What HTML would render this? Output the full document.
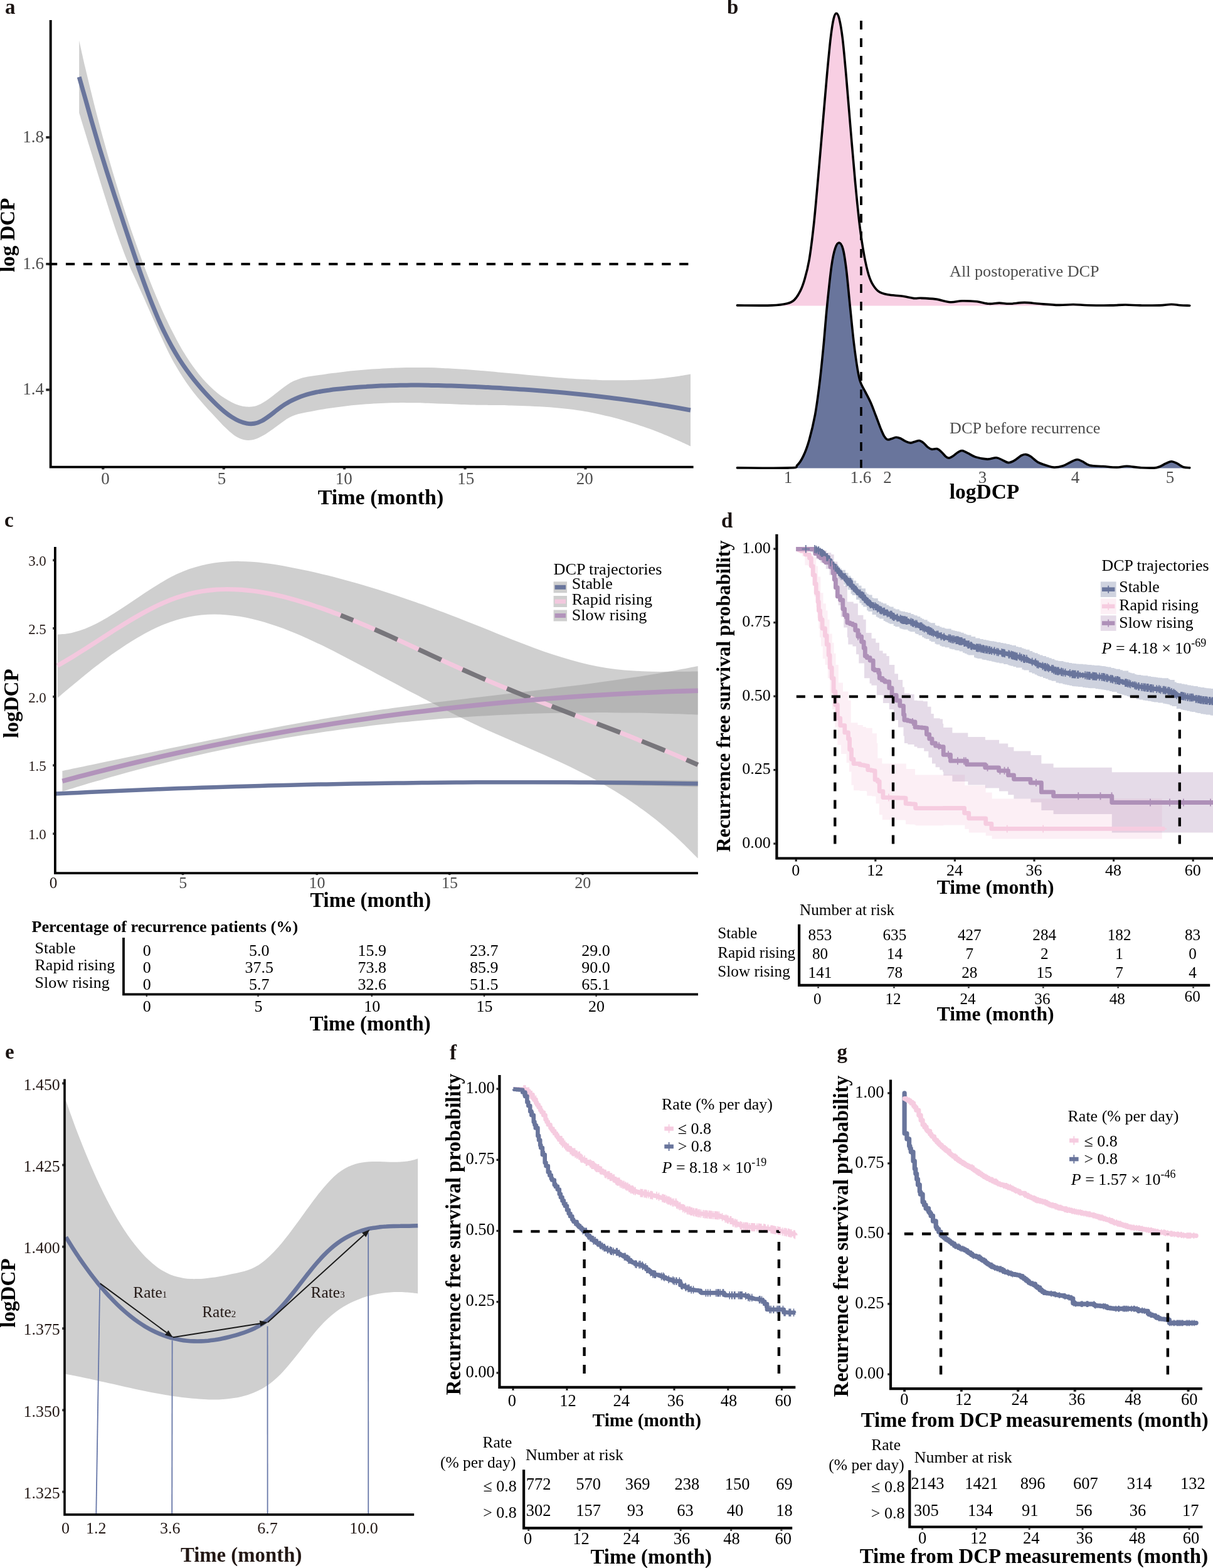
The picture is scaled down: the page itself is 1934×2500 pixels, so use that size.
<!DOCTYPE html>
<html lang="en">
<head>
<meta charset="utf-8">
<title>DCP trajectories and recurrence free survival</title>
<style>
html,body{margin:0;padding:0;background:#fff}
body{width:1934px;height:2500px;overflow:hidden}
svg{display:block;font-family:"Liberation Serif","DejaVu Serif",serif}
svg text{white-space:pre}
</style>
</head>
<body>
<svg width="1934" height="2500" viewBox="0 0 1934 2500">
<rect width="1934" height="2500" fill="#fff"/>
<g id="panel-a">
<text x="8" y="22" font-size="33" font-weight="bold" fill="#1a1311">a</text>
<path d="M126.2 64.7C127.8 71.8 132.6 93.4 135.8 107.2C139 120.9 141.9 133.1 145.5 147.4C149 161.6 153.1 178 157 192.7C160.8 207.3 164.7 221.6 168.6 235.4C172.4 249.2 176.3 262.5 180.1 275.5C184 288.5 187.9 301.1 191.7 313.4C195.6 325.7 199.4 337.5 203.3 349.2C207.1 360.8 211 372.1 214.9 383.1C218.7 394.1 222.6 404.9 226.4 415.3C230.3 425.7 234.2 435.8 238 445.6C241.9 455.4 245.7 464.9 249.6 474.1C253.5 483.2 257 491.4 261.2 500.4C265.3 509.4 270 519.3 274.5 528.1C278.9 536.9 283.8 545.9 288.1 553.4C292.4 560.9 296.2 567 300.1 573C304 579 307.8 584.4 311.7 589.5C315.5 594.7 319.4 599.4 323.3 603.9C327.1 608.3 331 612.4 334.8 616.1C338.7 619.9 342.6 623.3 346.4 626.4C350.3 629.5 354.1 632.3 358 634.8C361.8 637.4 365.7 639.6 369.6 641.5C373.4 643.4 377.3 645.1 381.1 646.3C385 647.5 388.9 648.3 392.7 648.6C396.6 648.9 400.4 648.8 404.3 648C408.2 647.2 412 645.8 415.9 643.9C419.7 642 423.7 639.3 427.4 636.8C431.2 634.2 434.7 631.3 438.2 628.6C441.7 625.9 445 623.1 448.4 620.5C451.8 618 455.1 615.4 458.4 613.2C461.7 611.1 465 609.1 468.1 607.6C471.3 606 474.4 604.9 477.4 603.9C480.4 602.9 483.2 602.3 486.3 601.6C489.4 600.9 492.7 600.4 496.1 599.8C499.5 599.2 503.1 598.7 506.8 598.2C510.4 597.7 514.1 597.2 517.9 596.7C521.7 596.1 525.6 595.6 529.5 595.1C533.3 594.6 537.2 594.1 541 593.7C544.9 593.2 548.8 592.8 552.6 592.3C556.5 591.9 560.3 591.5 564.2 591.1C568.1 590.7 571.9 590.4 575.8 590C579.6 589.7 583.5 589.3 587.4 589C591.2 588.7 595.1 588.4 598.9 588.2C602.8 587.9 606.6 587.7 610.3 587.4C614 587.2 617.4 587 621.3 586.9C625.2 586.7 629.1 586.5 633.6 586.4C638.1 586.2 643.1 586.1 648.3 586C653.4 585.9 658.5 585.9 664.4 585.9C670.3 585.9 677.5 586 683.7 586.1C690 586.3 696.3 586.5 702 586.7C707.6 587 712.2 587.2 717.5 587.5C722.8 587.8 728.1 588.1 733.8 588.5C739.5 588.8 745.7 589.3 751.9 589.7C758.2 590.2 764.2 590.7 771.2 591.3C778.3 591.9 786.6 592.7 794.3 593.4C802 594.1 809.7 594.8 817.4 595.5C825.1 596.2 832.8 597 840.5 597.7C848.1 598.4 855.9 599.1 863.3 599.8C870.8 600.5 877.8 601.1 885.2 601.7C892.5 602.3 899.6 602.8 907.4 603.4C915.2 603.9 923.7 604.4 931.7 604.8C939.7 605.3 948.2 605.6 955.6 605.9C963 606.1 969.3 606.2 976.2 606.3C983.1 606.4 990.1 606.3 996.7 606.2C1003.4 606.2 1009.7 606 1016.1 605.7C1022.5 605.5 1029.4 605.1 1035.3 604.7C1041.1 604.3 1045.7 603.9 1050.9 603.4C1056.2 602.9 1061.2 602.4 1066.7 601.7C1072.2 601.1 1078.1 600.3 1083.8 599.4C1089.6 598.5 1098.1 597 1101 596.5L1101 711.5C1098.1 710.2 1089.6 706.1 1083.8 703.5C1078.1 700.9 1072.2 698.3 1066.7 696C1061.2 693.6 1056.2 691.6 1050.9 689.5C1045.7 687.5 1041.1 685.7 1035.3 683.6C1029.4 681.5 1022.5 679 1016.1 676.9C1009.7 674.8 1003.4 672.8 996.7 670.9C990.1 668.9 983.1 667 976.2 665.3C969.3 663.5 963 662 955.6 660.4C948.2 658.8 939.7 657.2 931.7 655.8C923.7 654.5 916.6 653.4 907.4 652.3C898.2 651.2 887.2 650.1 876.8 649.3C866.4 648.5 855.3 648 845.1 647.5C834.9 647.1 825.2 646.9 815.4 646.6C805.6 646.4 794 646.2 786.2 646.1C778.4 645.9 774 645.9 768.7 645.8C763.4 645.7 759.7 645.6 754.3 645.4C748.9 645.3 742.4 645.1 736.2 644.9C729.9 644.7 723.3 644.4 716.8 644.1C710.4 643.9 704 643.6 697.5 643.4C691.1 643.2 684.1 642.9 678.2 642.7C672.3 642.6 667.3 642.4 662.2 642.3C657.1 642.2 652 642.2 647.5 642.2C643.1 642.1 639.2 642.1 635.3 642.2C631.5 642.2 628 642.2 624.3 642.3C620.6 642.4 616.8 642.5 612.9 642.7C609.1 642.8 605.2 643 601.3 643.2C597.5 643.4 593.6 643.6 589.8 643.9C585.9 644.1 582.1 644.4 578.2 644.7C574.3 645 570.5 645.4 566.6 645.8C562.8 646.1 558.9 646.5 555 647C551.2 647.4 547.3 647.9 543.5 648.4C539.6 648.9 535.7 649.4 531.9 649.9C528.1 650.5 524.4 651 520.8 651.6C517.2 652.2 513.6 652.8 510.1 653.3C506.6 653.9 503.2 654.6 499.9 655.2C496.6 655.8 493.3 656.4 490.1 657C486.9 657.7 483.7 658.3 480.6 659C477.4 659.7 474.4 660.4 471.2 661.5C468.1 662.6 464.9 663.9 461.7 665.6C458.5 667.3 455.3 669.4 452 671.8C448.6 674.1 445.1 676.7 441.4 679.4C437.8 682.1 433.7 685.2 429.9 687.8C426 690.4 422.1 693.1 418.3 695.1C414.4 697.2 410.6 699.1 406.7 700.2C402.9 701.3 399 702.1 395.1 701.9C391.3 701.8 387.4 701 383.6 699.5C379.7 698 375.8 695.7 372 692.9C368.1 690.1 364.3 686.5 360.4 682.8C356.5 679.2 352.7 675 348.8 670.9C345 666.9 341.1 662.7 337.3 658.6C333.4 654.4 329.5 650.3 325.7 645.9C321.8 641.5 318 637.1 314.1 632.4C310.2 627.7 306.4 622.8 302.5 617.5C298.7 612.3 294.8 606.8 291 600.8C287.1 594.9 283.2 588.6 279.4 581.8C275.5 575 271.6 567.6 267.8 559.9C264 552.3 260.1 543.9 256.4 535.8C252.7 527.8 249.2 519.9 245.7 511.9C242.1 503.8 238.5 495.5 235 487.7C231.6 479.9 228.4 472.6 225 465.2C221.7 457.7 218.5 450.9 214.9 442.8C211.2 434.8 207.1 426.1 203.3 416.8C199.4 407.5 195.6 397.4 191.7 386.8C187.9 376.2 184 364.8 180.1 353.2C176.3 341.7 172.4 329.6 168.6 317.5C164.7 305.3 160.8 292.9 157 280.5C153.1 268.1 149 254.5 145.5 243C141.9 231.5 139 222 135.8 211.5C132.6 201 127.8 185.3 126.2 180.1Z" fill="#CFCFCF"/>
<path d="M126.2 122.8C127.9 128.7 132.9 146.4 136.3 158.2C139.6 170.1 142.7 181.1 146.3 193.9C150 206.7 154.3 221.6 158.3 234.9C162.3 248.1 166.3 261 170.3 273.6C174.3 286.3 178.3 298.5 182.3 310.8C186.3 323 190.3 335.1 194.3 347.2C198.3 359.3 202.3 371.5 206.3 383.4C210.3 395.4 214.3 407.3 218.3 418.8C222.3 430.4 226.3 441.8 230.3 452.7C234.3 463.6 238.6 475 242.3 484.4C246 493.7 249.1 501.1 252.4 508.8C255.7 516.4 258.6 522.8 262.2 530C265.7 537.2 269.7 545 273.6 552C277.5 559 281.5 565.7 285.4 572C289.4 578.3 293.4 584.2 297.4 589.8C301.4 595.4 305.4 600.6 309.4 605.7C313.4 610.7 317.4 615.4 321.4 620C325.4 624.5 329.4 628.9 333.4 633.2C337.4 637.4 341.4 641.5 345.4 645.3C349.4 649.1 353.4 652.8 357.4 656C361.4 659.3 365.4 662.3 369.5 664.9C373.5 667.4 377.5 669.7 381.5 671.4C385.5 673.1 389.5 674.5 393.5 675.1C397.5 675.8 401.5 676 405.5 675.3C409.5 674.6 413.5 673.1 417.5 671C421.5 669 425.5 666 429.5 663.1C433.5 660.3 437.5 656.8 441.5 653.8C445.5 650.8 449.7 647.7 453.5 645.2C457.3 642.8 461 640.8 464.5 638.9C468 637.1 471.3 635.6 474.7 634.2C478.1 632.8 481.4 631.6 484.7 630.5C487.9 629.4 491.1 628.5 494.4 627.6C497.7 626.8 501 626 504.4 625.3C507.8 624.6 511.1 624.1 514.6 623.5C518.1 622.9 521.6 622.4 525.2 622C528.8 621.5 532.6 621 536.3 620.6C540.1 620.2 543.9 619.8 547.8 619.4C551.7 619 555.8 618.6 559.8 618.2C563.8 617.9 567.8 617.5 571.8 617.2C575.8 616.9 579.8 616.6 583.8 616.4C587.8 616.1 591.8 615.9 595.9 615.7C599.9 615.5 603.9 615.3 607.9 615.1C611.9 615 615.9 614.8 619.9 614.7C623.9 614.6 627.9 614.5 631.9 614.4C635.8 614.3 639.8 614.3 643.7 614.2C647.6 614.2 651.2 614.1 655.2 614.1C659.2 614.1 663.1 614.1 667.7 614.1C672.2 614.2 677.5 614.2 682.7 614.3C687.9 614.4 692.9 614.4 698.9 614.6C704.9 614.7 712.1 614.9 718.7 615.1C725.3 615.3 731.9 615.6 738.4 615.8C745 616.1 751.6 616.3 758.2 616.6C764.8 616.9 771.3 617.2 777.9 617.6C784.5 617.9 791 618.2 797.7 618.6C804.4 619 810.7 619.4 818.2 619.9C825.8 620.3 834.5 620.9 842.9 621.5C851.3 622.1 859 622.7 868.6 623.5C878.2 624.3 890 625.3 900.7 626.3C911.4 627.3 922.1 628.4 932.8 629.5C943.5 630.7 954.3 631.9 964.9 633.2C975.6 634.4 987 635.9 996.7 637.2C1006.3 638.5 1014 639.6 1022.6 640.9C1031.3 642.2 1039.9 643.5 1048.6 644.9C1057.3 646.3 1066.1 647.7 1074.8 649.3C1083.5 650.8 1096.6 653.2 1101 654" fill="none" stroke="#69759C" stroke-width="7"/>
<line x1="77" y1="420.9" x2="1098.4" y2="420.9" stroke="#000" stroke-width="4" stroke-dasharray="14.2 13.75"/>
<path d="M80.7 32V744.6H1105.6" fill="none" stroke="#000" stroke-width="3.9"/>
<line x1="73.3" y1="219" x2="78.8" y2="219" stroke="#222" stroke-width="3.8"/>
<text x="70" y="226.7" font-size="27" fill="#4D4D4D" text-anchor="end">1.8</text>
<line x1="73.3" y1="420.9" x2="78.8" y2="420.9" stroke="#222" stroke-width="3.8"/>
<text x="70" y="428.6" font-size="27" fill="#4D4D4D" text-anchor="end">1.6</text>
<line x1="73.3" y1="621.5" x2="78.8" y2="621.5" stroke="#222" stroke-width="3.8"/>
<text x="70" y="629.2" font-size="27" fill="#4D4D4D" text-anchor="end">1.4</text>
<line x1="164.3" y1="746" x2="164.3" y2="748.4" stroke="#222" stroke-width="4.2"/>
<text x="168" y="772.2" font-size="27" fill="#4D4D4D" text-anchor="middle">0</text>
<line x1="356.8" y1="746" x2="356.8" y2="748.4" stroke="#222" stroke-width="4.2"/>
<text x="353.5" y="772.2" font-size="27" fill="#4D4D4D" text-anchor="middle">5</text>
<line x1="549" y1="746" x2="549" y2="748.4" stroke="#222" stroke-width="4.2"/>
<text x="548.2" y="772.2" font-size="27" fill="#4D4D4D" text-anchor="middle">10</text>
<line x1="741.5" y1="746" x2="741.5" y2="748.4" stroke="#222" stroke-width="4.2"/>
<text x="742.8" y="772.2" font-size="27" fill="#4D4D4D" text-anchor="middle">15</text>
<line x1="933.5" y1="746" x2="933.5" y2="748.4" stroke="#222" stroke-width="4.2"/>
<text x="932.2" y="772.2" font-size="27" fill="#4D4D4D" text-anchor="middle">20</text>
<text x="607" y="803.7" font-size="34" font-weight="bold" text-anchor="middle">Time (month)</text>
<text transform="translate(22.8 374.8) rotate(-90)" font-size="33.1" font-weight="bold" text-anchor="middle">log DCP</text>
</g>
<g id="panel-b">
<text x="1159" y="22" font-size="33" font-weight="bold" fill="#1a1311">b</text>
<path d="M1175.4 486.9C1184.7 486.9 1217.8 487.4 1231 486.9C1244.2 486.4 1248.8 485.5 1254.7 484C1260.6 482.5 1263 481.5 1266.5 478.1C1270 474.8 1273.2 469.4 1276 463.9C1278.8 458.4 1280.6 453.3 1283 445C1285.4 436.7 1287.8 428.4 1290.2 414.2C1292.6 400 1294.9 381.5 1297.3 359.8C1299.7 338.1 1302 310.4 1304.4 284C1306.8 257.6 1309.1 228.8 1311.5 201.2C1313.9 173.6 1316.4 142 1318.6 118.3C1320.8 94.6 1322.7 74 1324.5 59.2C1326.3 44.4 1327.7 35.9 1329.2 29.6C1330.7 23.3 1332 21.3 1333.5 21.3C1335 21.3 1336.3 22.9 1338 29.6C1339.7 36.3 1341.5 45.9 1343.4 61.5C1345.3 77.1 1347.1 98.5 1349.3 123C1351.5 147.5 1354 180.3 1356.4 208.3C1358.8 236.3 1361.2 265.8 1363.6 291C1366 316.2 1368.3 340.5 1370.7 359.8C1373.1 379.1 1375.4 394 1377.8 407C1380.2 420 1382.5 430 1384.9 437.9C1387.3 445.8 1389.2 449.9 1392 454.4C1394.8 458.9 1397.5 462.5 1401.4 465.1C1405.3 467.7 1409.3 468.6 1415.6 469.8C1421.9 471 1432.2 471.2 1439.3 472.2C1446.4 473.2 1453.5 475.2 1458.2 475.7C1462.9 476.2 1462.2 475.1 1467.7 475.3C1473.2 475.5 1483.5 475.8 1491.4 476.9C1499.3 478 1507.9 481.2 1515 481.7C1522.1 482.2 1526.9 479.9 1534 479.8C1541.1 479.7 1550.6 480.1 1557.7 480.8C1564.8 481.6 1570.7 483.9 1576.6 484.3C1582.5 484.7 1587.7 483.1 1593.2 483.1C1598.7 483.1 1603 484.4 1609.7 484.3C1616.4 484.2 1625.5 482.4 1633.4 482.4C1641.3 482.4 1648 483.6 1657.1 484.3C1666.2 485 1678.7 486.2 1687.8 486.4C1696.9 486.6 1703.6 485.4 1711.5 485.5C1719.4 485.6 1725.3 486.5 1735.2 486.7C1745.1 486.9 1760.8 487 1770.7 486.9C1780.6 486.8 1786.5 486 1794.4 486C1802.3 486 1808.9 486.8 1818 486.9C1827.1 487 1840.5 487.2 1848.8 486.9C1857.1 486.6 1862.2 485.3 1867.7 485.3C1873.2 485.3 1877.1 486.4 1881.9 486.7C1886.8 487 1894.3 487.1 1896.8 487.2L1896.8 487.5L1175.4 487.5Z" fill="#F8CFE3"/>
<path d="M1175.4 486.9C1184.7 486.9 1217.8 487.4 1231 486.9C1244.2 486.4 1248.8 485.5 1254.7 484C1260.6 482.5 1263 481.5 1266.5 478.1C1270 474.8 1273.2 469.4 1276 463.9C1278.8 458.4 1280.6 453.3 1283 445C1285.4 436.7 1287.8 428.4 1290.2 414.2C1292.6 400 1294.9 381.5 1297.3 359.8C1299.7 338.1 1302 310.4 1304.4 284C1306.8 257.6 1309.1 228.8 1311.5 201.2C1313.9 173.6 1316.4 142 1318.6 118.3C1320.8 94.6 1322.7 74 1324.5 59.2C1326.3 44.4 1327.7 35.9 1329.2 29.6C1330.7 23.3 1332 21.3 1333.5 21.3C1335 21.3 1336.3 22.9 1338 29.6C1339.7 36.3 1341.5 45.9 1343.4 61.5C1345.3 77.1 1347.1 98.5 1349.3 123C1351.5 147.5 1354 180.3 1356.4 208.3C1358.8 236.3 1361.2 265.8 1363.6 291C1366 316.2 1368.3 340.5 1370.7 359.8C1373.1 379.1 1375.4 394 1377.8 407C1380.2 420 1382.5 430 1384.9 437.9C1387.3 445.8 1389.2 449.9 1392 454.4C1394.8 458.9 1397.5 462.5 1401.4 465.1C1405.3 467.7 1409.3 468.6 1415.6 469.8C1421.9 471 1432.2 471.2 1439.3 472.2C1446.4 473.2 1453.5 475.2 1458.2 475.7C1462.9 476.2 1462.2 475.1 1467.7 475.3C1473.2 475.5 1483.5 475.8 1491.4 476.9C1499.3 478 1507.9 481.2 1515 481.7C1522.1 482.2 1526.9 479.9 1534 479.8C1541.1 479.7 1550.6 480.1 1557.7 480.8C1564.8 481.6 1570.7 483.9 1576.6 484.3C1582.5 484.7 1587.7 483.1 1593.2 483.1C1598.7 483.1 1603 484.4 1609.7 484.3C1616.4 484.2 1625.5 482.4 1633.4 482.4C1641.3 482.4 1648 483.6 1657.1 484.3C1666.2 485 1678.7 486.2 1687.8 486.4C1696.9 486.6 1703.6 485.4 1711.5 485.5C1719.4 485.6 1725.3 486.5 1735.2 486.7C1745.1 486.9 1760.8 487 1770.7 486.9C1780.6 486.8 1786.5 486 1794.4 486C1802.3 486 1808.9 486.8 1818 486.9C1827.1 487 1840.5 487.2 1848.8 486.9C1857.1 486.6 1862.2 485.3 1867.7 485.3C1873.2 485.3 1877.1 486.4 1881.9 486.7C1886.8 487 1894.3 487.1 1896.8 487.2" fill="none" stroke="#000" stroke-width="3.6" stroke-linecap="round" stroke-linejoin="round"/>
<line x1="1373" y1="33" x2="1373" y2="388" stroke="#000" stroke-width="3.6" stroke-dasharray="14 14"/>
<path d="M1175.4 745.9C1189.4 745.9 1243.4 746.6 1259.4 745.9C1275.4 745.2 1267.7 744.7 1271.2 741.6C1274.8 738.5 1277.5 734.1 1280.7 727.4C1283.9 720.7 1287.1 712.4 1290.2 701.4C1293.3 690.4 1296.8 676.1 1299.6 661.1C1302.3 646.1 1304.5 629.1 1306.7 611.4C1308.9 593.6 1310.7 575.1 1312.7 554.6C1314.7 534.1 1316.4 510 1318.6 488.3C1320.8 466.6 1323.5 439.8 1325.7 424.4C1327.9 409 1329.5 402.2 1331.6 396C1333.6 389.8 1335.9 386.8 1338 387C1340.1 387.2 1342.2 390.2 1344.1 397.2C1346 404.2 1347.4 414 1349.3 429.2C1351.2 444.4 1353.3 469 1355.3 488.3C1357.3 507.6 1359.2 528.5 1361.2 545.1C1363.2 561.7 1365.3 577.1 1367.1 587.8C1368.9 598.4 1369.6 602.7 1371.8 609C1374 615.3 1377.3 620.1 1380.1 625.6C1382.9 631.1 1385.6 635.9 1388.4 642.2C1391.2 648.5 1394.1 656.8 1396.7 663.5C1399.3 670.2 1401.6 677.1 1403.8 682.4C1406 687.7 1407.8 692.3 1409.7 695.4C1411.6 698.5 1413.1 700.2 1415.1 700.9C1417.1 701.6 1419.2 700.1 1421.5 699.5C1423.8 698.9 1426.2 697.4 1428.6 697.3C1431 697.2 1433.1 697.9 1435.7 699C1438.3 700.1 1441.3 702.5 1444 703.7C1446.7 704.9 1449.1 706 1451.6 706.1C1454 706.2 1456.3 704.8 1458.7 704.2C1461.1 703.6 1463.5 702.2 1465.8 702.5C1468.1 702.8 1470.1 704.3 1472.4 706.1C1474.7 707.9 1477.3 711.5 1479.5 713.2C1481.7 714.9 1483 715.9 1485.4 716.3C1487.8 716.7 1491.1 714.9 1493.7 715.6C1496.3 716.3 1498.4 718.2 1500.8 720.3C1503.2 722.3 1505.9 726.2 1507.9 727.9C1510 729.5 1511.1 730.4 1513.1 730.2C1515.1 730 1517.5 728.4 1519.8 726.9C1522.1 725.4 1524.5 722.9 1526.9 721.5C1529.3 720.1 1531.2 718.3 1534 718.5C1536.8 718.7 1540 721 1543.5 722.7C1547 724.4 1550.2 727 1555.3 728.6C1560.4 730.2 1568.7 731.9 1574.2 732.1C1579.7 732.3 1584.5 729.6 1588.4 729.8C1592.4 730 1594.7 732 1597.9 733.3C1601.1 734.6 1604.2 737.4 1607.4 737.6C1610.6 737.8 1613.2 736.4 1616.8 734.5C1620.3 732.6 1625.5 727.9 1628.7 726.2C1631.9 724.6 1633.4 724.4 1635.8 724.6C1638.2 724.8 1639.8 725.4 1642.9 727.4C1646.1 729.4 1650.4 734.4 1654.7 736.9C1659 739.4 1664.6 740.9 1668.9 742.3C1673.2 743.7 1676.4 745 1680.7 745.1C1685 745.2 1690.6 744.2 1694.9 742.8C1699.2 741.4 1703 738.6 1706.8 736.9C1710.5 735.2 1714.2 733 1717.4 732.8C1720.6 732.6 1722.3 734.2 1725.7 735.7C1729.1 737.2 1732.1 740.8 1737.6 742.1C1743.1 743.4 1751.8 743 1758.9 743.5C1766 744 1773.9 745.1 1780.2 745.1C1786.5 745.1 1790.4 743.2 1796.7 743.3C1803 743.4 1810.1 745.2 1818 745.6C1825.9 746 1837.3 746.7 1844 745.6C1850.7 744.5 1854.3 740.9 1858.3 739.2C1862.2 737.6 1864.5 735.7 1867.7 735.7C1870.9 735.7 1874 737.7 1877.2 739.2C1880.4 740.7 1883.4 743.6 1886.7 744.7C1890 745.8 1895.1 745.7 1896.8 745.9L1896.8 746.5L1175.4 746.5Z" fill="#69759C"/>
<path d="M1175.4 745.9C1189.4 745.9 1243.4 746.6 1259.4 745.9C1275.4 745.2 1267.7 744.7 1271.2 741.6C1274.8 738.5 1277.5 734.1 1280.7 727.4C1283.9 720.7 1287.1 712.4 1290.2 701.4C1293.3 690.4 1296.8 676.1 1299.6 661.1C1302.3 646.1 1304.5 629.1 1306.7 611.4C1308.9 593.6 1310.7 575.1 1312.7 554.6C1314.7 534.1 1316.4 510 1318.6 488.3C1320.8 466.6 1323.5 439.8 1325.7 424.4C1327.9 409 1329.5 402.2 1331.6 396C1333.6 389.8 1335.9 386.8 1338 387C1340.1 387.2 1342.2 390.2 1344.1 397.2C1346 404.2 1347.4 414 1349.3 429.2C1351.2 444.4 1353.3 469 1355.3 488.3C1357.3 507.6 1359.2 528.5 1361.2 545.1C1363.2 561.7 1365.3 577.1 1367.1 587.8C1368.9 598.4 1369.6 602.7 1371.8 609C1374 615.3 1377.3 620.1 1380.1 625.6C1382.9 631.1 1385.6 635.9 1388.4 642.2C1391.2 648.5 1394.1 656.8 1396.7 663.5C1399.3 670.2 1401.6 677.1 1403.8 682.4C1406 687.7 1407.8 692.3 1409.7 695.4C1411.6 698.5 1413.1 700.2 1415.1 700.9C1417.1 701.6 1419.2 700.1 1421.5 699.5C1423.8 698.9 1426.2 697.4 1428.6 697.3C1431 697.2 1433.1 697.9 1435.7 699C1438.3 700.1 1441.3 702.5 1444 703.7C1446.7 704.9 1449.1 706 1451.6 706.1C1454 706.2 1456.3 704.8 1458.7 704.2C1461.1 703.6 1463.5 702.2 1465.8 702.5C1468.1 702.8 1470.1 704.3 1472.4 706.1C1474.7 707.9 1477.3 711.5 1479.5 713.2C1481.7 714.9 1483 715.9 1485.4 716.3C1487.8 716.7 1491.1 714.9 1493.7 715.6C1496.3 716.3 1498.4 718.2 1500.8 720.3C1503.2 722.3 1505.9 726.2 1507.9 727.9C1510 729.5 1511.1 730.4 1513.1 730.2C1515.1 730 1517.5 728.4 1519.8 726.9C1522.1 725.4 1524.5 722.9 1526.9 721.5C1529.3 720.1 1531.2 718.3 1534 718.5C1536.8 718.7 1540 721 1543.5 722.7C1547 724.4 1550.2 727 1555.3 728.6C1560.4 730.2 1568.7 731.9 1574.2 732.1C1579.7 732.3 1584.5 729.6 1588.4 729.8C1592.4 730 1594.7 732 1597.9 733.3C1601.1 734.6 1604.2 737.4 1607.4 737.6C1610.6 737.8 1613.2 736.4 1616.8 734.5C1620.3 732.6 1625.5 727.9 1628.7 726.2C1631.9 724.6 1633.4 724.4 1635.8 724.6C1638.2 724.8 1639.8 725.4 1642.9 727.4C1646.1 729.4 1650.4 734.4 1654.7 736.9C1659 739.4 1664.6 740.9 1668.9 742.3C1673.2 743.7 1676.4 745 1680.7 745.1C1685 745.2 1690.6 744.2 1694.9 742.8C1699.2 741.4 1703 738.6 1706.8 736.9C1710.5 735.2 1714.2 733 1717.4 732.8C1720.6 732.6 1722.3 734.2 1725.7 735.7C1729.1 737.2 1732.1 740.8 1737.6 742.1C1743.1 743.4 1751.8 743 1758.9 743.5C1766 744 1773.9 745.1 1780.2 745.1C1786.5 745.1 1790.4 743.2 1796.7 743.3C1803 743.4 1810.1 745.2 1818 745.6C1825.9 746 1837.3 746.7 1844 745.6C1850.7 744.5 1854.3 740.9 1858.3 739.2C1862.2 737.6 1864.5 735.7 1867.7 735.7C1870.9 735.7 1874 737.7 1877.2 739.2C1880.4 740.7 1883.4 743.6 1886.7 744.7C1890 745.8 1895.1 745.7 1896.8 745.9" fill="none" stroke="#000" stroke-width="3.6" stroke-linecap="round" stroke-linejoin="round"/>
<line x1="1373" y1="33" x2="1373" y2="746" stroke="#000" stroke-width="3.6" stroke-dasharray="14 14"/>
<text x="1256.6" y="770" font-size="27" fill="#4D4D4D" text-anchor="middle">1</text>
<text x="1372.3" y="770" font-size="27" fill="#4D4D4D" text-anchor="middle">1.6</text>
<text x="1415" y="770" font-size="27" fill="#4D4D4D" text-anchor="middle">2</text>
<text x="1566.4" y="770" font-size="27" fill="#4D4D4D" text-anchor="middle">3</text>
<text x="1714.4" y="770" font-size="27" fill="#4D4D4D" text-anchor="middle">4</text>
<text x="1865.4" y="770" font-size="27" fill="#4D4D4D" text-anchor="middle">5</text>
<text x="1514" y="441" font-size="26.2" fill="#4D4D4D">All postoperative DCP</text>
<text x="1514" y="690.7" font-size="26.2" fill="#4D4D4D">DCP before recurrence</text>
<text x="1569.5" y="795" font-size="33.5" font-weight="bold" text-anchor="middle">logDCP</text>
</g>
<g id="panel-c">
<text x="7" y="840.3" font-size="33" font-weight="bold" fill="#1a1311">c</text>
<path d="M91.6 1011.7C94.5 1011.5 103.3 1011.1 109.2 1010.1C115.1 1009.1 120.9 1007.5 126.8 1005.6C132.6 1003.7 138.4 1001.3 144.2 998.7C150 996.1 155.4 993.4 161.6 989.9C167.8 986.5 174.8 982.4 181.4 978.2C188.1 974.1 194.8 969.6 201.4 965.2C208.1 960.8 214.8 956.2 221.5 951.7C228.1 947.2 234.8 942.7 241.5 938.5C248.2 934.2 254.8 930 261.5 926.2C268.2 922.4 274.9 918.7 281.5 915.6C288.2 912.5 294.9 909.7 301.6 907.3C308.2 905 314.9 903 321.6 901.4C328.3 899.7 334.9 898.5 341.6 897.5C348.3 896.5 355 895.8 361.6 895.4C368.3 895 375 894.8 381.7 894.9C388.3 895 395 895.3 401.7 895.8C408.4 896.2 415 897 421.7 897.8C428.4 898.6 435 899.6 441.7 900.6C448.4 901.7 455.1 902.9 461.7 904.2C468.4 905.4 475.1 906.8 481.8 908.2C488.4 909.5 495.1 911 501.8 912.5C508.5 914.1 515.1 915.6 521.8 917.3C528.5 918.9 535.2 920.6 541.8 922.4C548.5 924.2 555.2 926 561.9 927.9C568.5 929.8 575.2 931.7 581.9 933.7C588.6 935.7 595.2 937.7 601.9 939.8C608.6 941.9 615.3 944 621.9 946.2C628.6 948.4 635.2 950.6 642 952.9C648.7 955.2 655.6 957.5 662.6 960C669.7 962.5 676.8 965.1 684.5 967.9C692.1 970.7 699.7 973.5 708.5 976.8C717.3 980.2 727.7 984.1 737.2 987.9C746.8 991.6 756.4 995.5 765.9 999.3C775.5 1003.1 785.1 1007 794.6 1010.9C804.2 1014.7 813.8 1018.6 823.3 1022.3C832.9 1026 842.5 1029.7 852 1033.2C861.6 1036.7 871.2 1040.1 880.7 1043.3C890.3 1046.4 899.9 1049.4 909.4 1052.1C919 1054.9 928.6 1057.4 938.1 1059.5C947.7 1061.7 957.3 1063.5 966.8 1065C976.4 1066.5 986 1067.6 995.5 1068.5C1005.1 1069.3 1014.7 1069.8 1024.2 1070.2C1033.8 1070.6 1043.2 1070.8 1053 1070.9C1062.8 1070.9 1072.9 1070.8 1082.8 1070.8C1092.8 1070.8 1107.7 1070.7 1112.7 1070.6L1112.7 1368.5C1107.7 1363.6 1092.8 1348.2 1082.8 1338.9C1072.9 1329.7 1062.8 1320.9 1053 1312.8C1043.2 1304.8 1033.8 1297.6 1024.2 1290.6C1014.7 1283.6 1005.1 1277 995.5 1270.8C986 1264.6 976.4 1258.8 966.8 1253.2C957.3 1247.6 947.7 1242.4 938.1 1237.3C928.6 1232.3 919 1227.5 909.4 1222.8C899.9 1218.2 890.3 1213.8 880.7 1209.4C871.2 1205 861.6 1200.9 852 1196.7C842.5 1192.5 832.9 1188.4 823.3 1184.2C813.8 1180.1 804.2 1176 794.6 1171.8C785.1 1167.6 775.5 1163.3 765.9 1158.9C756.4 1154.5 746.8 1150 737.2 1145.3C727.7 1140.7 717.3 1135.5 708.5 1131C699.7 1126.5 692.1 1122.6 684.5 1118.6C676.8 1114.6 669.7 1110.9 662.6 1107.1C655.6 1103.4 648.7 1099.8 642 1096.2C635.2 1092.6 628.6 1089.1 621.9 1085.6C615.3 1082 608.6 1078.5 601.9 1074.9C595.2 1071.4 588.6 1067.8 581.9 1064.3C575.2 1060.8 568.5 1057.2 561.9 1053.7C555.2 1050.2 548.5 1046.7 541.8 1043.3C535.2 1039.8 528.5 1036.4 521.8 1033.1C515.1 1029.8 508.5 1026.5 501.8 1023.4C495.1 1020.2 488.4 1017.2 481.8 1014.2C475.1 1011.3 468.4 1008.5 461.7 1005.9C455.1 1003.2 448.4 1000.7 441.7 998.4C435 996.1 428.4 993.9 421.7 991.9C415 990 408.4 988.2 401.7 986.7C395 985.2 388.3 983.9 381.7 982.8C375 981.8 368.3 980.9 361.6 980.4C355 979.9 348.3 979.6 341.6 979.6C334.9 979.6 328.3 980 321.6 980.6C314.9 981.2 308.2 982.2 301.6 983.5C294.9 984.8 288.2 986.5 281.5 988.5C274.9 990.5 268.2 992.9 261.5 995.6C254.8 998.2 248.2 1001.3 241.5 1004.6C234.8 1007.9 228.1 1011.5 221.5 1015.4C214.8 1019.2 208.1 1023.3 201.4 1027.7C194.8 1032 188.1 1036.6 181.4 1041.3C174.8 1046 167.8 1051.1 161.6 1055.8C155.4 1060.5 150 1064.7 144.2 1069.3C138.4 1073.9 132.6 1078.6 126.8 1083.4C120.9 1088.2 115.1 1093.1 109.2 1098C103.3 1102.9 94.5 1110.4 91.6 1112.9Z" fill="#999" fill-opacity="0.47"/>
<path d="M99.4 1229C103.8 1228.1 117.2 1225.3 126.1 1223.4C134.9 1221.6 142.8 1220 152.7 1217.9C162.7 1215.8 174.7 1213.3 185.8 1210.9C196.9 1208.6 208.1 1206.3 219.3 1203.9C230.5 1201.6 241.6 1199.2 252.8 1196.9C264 1194.6 275.2 1192.3 286.3 1190C297.5 1187.7 308.7 1185.4 319.9 1183.2C331 1180.9 342.2 1178.6 353.4 1176.4C364.6 1174.2 375.7 1172 386.9 1169.8C398.1 1167.6 409.2 1165.5 420.4 1163.4C431.6 1161.3 442.8 1159.2 453.9 1157.1C465.1 1155.1 476.3 1153.1 487.5 1151.1C498.6 1149.1 509.8 1147.2 521 1145.3C532.2 1143.4 543.9 1141.5 554.5 1139.8C565.1 1138.1 575 1136.5 584.4 1135.1C593.8 1133.6 601.7 1132.5 611.1 1131.1C620.6 1129.7 630.5 1128.3 641 1126.9C651.6 1125.5 663.4 1123.9 674.6 1122.4C685.7 1121 696.9 1119.6 708.1 1118.2C719.3 1116.8 730.4 1115.5 741.6 1114.2C752.8 1112.8 764 1111.5 775.1 1110.2C786.3 1108.9 797.5 1107.6 808.7 1106.3C819.8 1104.9 831 1103.6 842.2 1102.3C853.4 1101 864.5 1099.6 875.7 1098.3C886.9 1096.9 898 1095.5 909.2 1094.1C920.4 1092.7 931.6 1091.2 942.7 1089.7C953.9 1088.2 965.1 1086.7 976.3 1085.1C987.4 1083.5 998.6 1081.8 1009.8 1080.1C1021 1078.4 1032 1076.6 1043.4 1074.7C1054.8 1072.8 1066.5 1070.8 1078 1068.7C1089.6 1066.6 1106.9 1063.2 1112.7 1062.1L1112.7 1139.5C1106.9 1139.3 1089.6 1138.6 1078 1138.2C1066.5 1137.8 1054.8 1137.5 1043.4 1137.2C1032 1136.9 1021 1136.7 1009.8 1136.5C998.6 1136.4 987.4 1136.3 976.3 1136.2C965.1 1136.1 953.9 1136.1 942.7 1136.2C931.6 1136.2 920.4 1136.3 909.2 1136.5C898 1136.6 886.9 1136.9 875.7 1137.1C864.5 1137.4 853.4 1137.7 842.2 1138.1C831 1138.5 819.8 1139 808.7 1139.5C797.5 1140 786.3 1140.5 775.1 1141.2C764 1141.8 752.8 1142.5 741.6 1143.2C730.4 1144 719.3 1144.8 708.1 1145.6C696.9 1146.5 685.7 1147.5 674.6 1148.4C663.4 1149.4 651.6 1150.6 641 1151.6C630.5 1152.7 620.6 1153.8 611.1 1154.8C601.7 1155.9 593.8 1156.8 584.4 1157.9C575 1159.1 565.1 1160.3 554.5 1161.7C543.9 1163.1 532.2 1164.7 521 1166.3C509.8 1167.9 498.6 1169.6 487.5 1171.3C476.3 1173.1 465.1 1174.9 453.9 1176.8C442.8 1178.7 431.6 1180.6 420.4 1182.7C409.2 1184.7 398.1 1186.8 386.9 1189C375.7 1191.2 364.6 1193.4 353.4 1195.8C342.2 1198.1 331 1200.5 319.9 1203C308.7 1205.4 297.5 1208 286.3 1210.6C275.2 1213.3 264 1216 252.8 1218.7C241.6 1221.5 230.5 1224.4 219.3 1227.3C208.1 1230.3 196.9 1233.3 185.8 1236.4C174.7 1239.5 162.7 1242.9 152.7 1245.8C142.8 1248.7 134.9 1251.1 126.1 1253.8C117.2 1256.5 103.8 1260.6 99.4 1262Z" fill="#999" fill-opacity="0.47"/>
<path d="M88.8 1264.1C94.6 1263.8 112 1262.9 123.5 1262.4C135.1 1261.8 146.7 1261.3 158.3 1260.7C169.9 1260.2 181.4 1259.7 193.1 1259.2C204.9 1258.7 216.7 1258.2 228.8 1257.7C241 1257.2 253.7 1256.7 266.1 1256.3C278.5 1255.8 290.9 1255.4 303.3 1254.9C315.7 1254.5 328.2 1254.1 340.6 1253.7C353 1253.3 365.4 1252.9 377.8 1252.5C390.2 1252.1 402.6 1251.8 415.1 1251.4C427.5 1251.1 440 1250.8 452.3 1250.4C464.6 1250.1 477.5 1249.8 488.9 1249.6C500.3 1249.3 510.1 1249.1 520.7 1248.9C531.3 1248.7 541.9 1248.5 552.6 1248.3C563.2 1248.1 574 1247.9 584.4 1247.7C594.8 1247.5 604.9 1247.4 614.8 1247.3C624.7 1247.1 634.1 1247 643.8 1246.9C653.5 1246.7 663.1 1246.6 672.8 1246.5C682.4 1246.4 690.9 1246.4 701.7 1246.2C712.6 1246.1 725.7 1245.8 737.9 1245.7C750.2 1245.5 762.8 1245.3 775.2 1245.2C787.6 1245 800 1244.9 812.4 1244.7C824.8 1244.6 837.2 1244.5 849.7 1244.4C862.1 1244.3 874.5 1244.2 886.9 1244.2C899.3 1244.1 911.7 1244.1 924.1 1244C936.6 1244 948.9 1244 961.4 1244C973.9 1244 986.4 1244 999 1244C1011.6 1244 1024.3 1244 1036.9 1244.1C1049.5 1244.1 1062.2 1244.2 1074.8 1244.3C1087.4 1244.4 1106.3 1244.5 1112.7 1244.6L1112.7 1254.6C1106.3 1254.4 1087.4 1254 1074.8 1253.7C1062.2 1253.4 1049.5 1253.1 1036.9 1252.8C1024.3 1252.5 1011.6 1252.3 999 1252.1C986.4 1251.8 973.9 1251.6 961.4 1251.4C948.9 1251.2 936.6 1251 924.1 1250.8C911.7 1250.7 899.3 1250.5 886.9 1250.4C874.5 1250.2 862.1 1250.1 849.7 1250C837.2 1249.8 824.8 1249.7 812.4 1249.7C800 1249.6 787.6 1249.5 775.2 1249.4C762.8 1249.4 750.2 1249.3 737.9 1249.3C725.7 1249.3 712.6 1249.2 701.7 1249.3C690.9 1249.3 682.4 1249.4 672.8 1249.5C663.1 1249.6 653.5 1249.7 643.8 1249.9C634.1 1250 624.7 1250.1 614.8 1250.3C604.9 1250.4 594.8 1250.5 584.4 1250.7C574 1250.9 563.2 1251.1 552.6 1251.3C541.9 1251.5 531.3 1251.7 520.7 1251.9C510.1 1252.1 500.3 1252.3 488.9 1252.6C477.5 1252.8 464.6 1253.1 452.3 1253.4C440 1253.8 427.5 1254.1 415.1 1254.4C402.6 1254.8 390.2 1255.1 377.8 1255.5C365.4 1255.9 353 1256.3 340.6 1256.7C328.2 1257.1 315.7 1257.5 303.3 1257.9C290.9 1258.4 278.5 1258.8 266.1 1259.3C253.7 1259.7 241 1260.2 228.8 1260.7C216.7 1261.2 204.9 1261.7 193.1 1262.2C181.4 1262.7 169.9 1263.2 158.3 1263.7C146.7 1264.3 135.1 1264.8 123.5 1265.4C112 1265.9 94.6 1266.8 88.8 1267.1Z" fill="#999" fill-opacity="0.47"/>
<path d="M91.6 1061.4C94.5 1059.7 103.3 1054.7 109.2 1051.2C115.1 1047.6 120.9 1044 126.8 1040.3C132.6 1036.7 138.4 1033 144.2 1029.2C150 1025.5 155.4 1022 161.6 1018C167.8 1014 174.8 1009.5 181.4 1005.3C188.1 1001.1 194.8 996.8 201.4 992.8C208.1 988.8 214.8 984.8 221.5 981C228.1 977.2 234.8 973.6 241.5 970.2C248.2 966.8 254.8 963.6 261.5 960.7C268.2 957.8 274.9 955.2 281.5 952.9C288.2 950.6 294.9 948.6 301.6 946.9C308.2 945.2 314.9 943.9 321.6 942.8C328.3 941.7 334.9 940.9 341.6 940.4C348.3 939.8 355 939.6 361.6 939.5C368.3 939.5 375 939.7 381.7 940.1C388.3 940.5 395 941.2 401.7 942C408.4 942.8 415 943.8 421.7 945C428.4 946.2 435 947.6 441.7 949.1C448.4 950.6 455.1 952.3 461.7 954C468.4 955.8 475.1 957.7 481.8 959.7C488.4 961.7 495.1 963.9 501.8 966.1C508.5 968.3 515.1 970.6 521.8 973C528.5 975.4 535.2 978 541.8 980.5C548.5 983.1 555.2 985.8 561.9 988.5C568.5 991.2 575.2 994 581.9 996.8C588.6 999.7 595.7 1002.8 601.9 1005.5C608.1 1008.2 614.1 1010.9 619.1 1013.2C624.2 1015.5 627 1016.7 632.3 1019.2C637.6 1021.6 643.2 1024.1 651.1 1027.8C659 1031.4 670.3 1036.7 679.8 1041.1C689.4 1045.5 699 1050 708.5 1054.4C718.1 1058.8 727.7 1063.1 737.2 1067.4C746.8 1071.7 756.4 1075.9 765.9 1080.1C775.5 1084.2 785.1 1088.2 794.6 1092.2C804.2 1096.2 813.8 1100.1 823.3 1103.9C832.9 1107.8 842.5 1111.6 852 1115.3C861.6 1119.1 871.2 1122.8 880.7 1126.5C890.3 1130.2 899.9 1133.9 909.4 1137.5C919 1141.2 928.6 1144.9 938.1 1148.5C947.7 1152.2 957.3 1155.8 966.8 1159.5C976.4 1163.2 986 1166.9 995.5 1170.7C1005.1 1174.4 1014.7 1178.2 1024.2 1182.1C1033.8 1185.9 1043.2 1189.7 1053 1193.8C1062.8 1197.8 1072.9 1202 1082.8 1206.3C1092.8 1210.6 1107.7 1217.2 1112.7 1219.4" fill="none" stroke="#F3C8DE" stroke-width="7.2"/>
<path d="M543.2 981.1C546.3 982.3 555.4 985.9 561.9 988.5C568.3 991.1 575.2 994 581.9 996.8C588.6 999.7 595.7 1002.8 601.9 1005.5C608.1 1008.2 614.1 1010.9 619.1 1013.2C624.2 1015.5 627 1016.7 632.3 1019.2C637.6 1021.6 643.2 1024.1 651.1 1027.8C659 1031.4 670.3 1036.7 679.8 1041.1C689.4 1045.5 699 1050 708.5 1054.4C718.1 1058.8 727.7 1063.1 737.2 1067.4C746.8 1071.7 756.4 1075.9 765.9 1080.1C775.5 1084.2 785.1 1088.2 794.6 1092.2C804.2 1096.2 813.8 1100.1 823.3 1103.9C832.9 1107.8 842.5 1111.6 852 1115.3C861.6 1119.1 871.2 1122.8 880.7 1126.5C890.3 1130.2 899.9 1133.9 909.4 1137.5C919 1141.2 928.6 1144.9 938.1 1148.5C947.7 1152.2 957.3 1155.8 966.8 1159.5C976.4 1163.2 986 1166.9 995.5 1170.7C1005.1 1174.4 1014.7 1178.2 1024.2 1182.1C1033.8 1185.9 1043.2 1189.7 1053 1193.8C1062.8 1197.8 1072.9 1202 1082.8 1206.3C1092.8 1210.6 1107.7 1217.2 1112.7 1219.4" fill="none" stroke="#77767B" stroke-width="7.5" stroke-dasharray="40 37" stroke-dashoffset="18.5"/>
<path d="M99.4 1245.3C103.8 1244.1 117.2 1240.6 126.1 1238.2C134.9 1235.9 142.8 1233.9 152.7 1231.4C162.7 1228.8 174.7 1225.8 185.8 1223.1C196.9 1220.4 208.1 1217.6 219.3 1215C230.5 1212.4 241.6 1209.8 252.8 1207.2C264 1204.7 275.2 1202.2 286.3 1199.7C297.5 1197.3 308.7 1194.9 319.9 1192.6C331 1190.2 342.2 1187.9 353.4 1185.7C364.6 1183.4 375.7 1181.2 386.9 1179.1C398.1 1176.9 409.2 1174.8 420.4 1172.7C431.6 1170.7 442.8 1168.7 453.9 1166.7C465.1 1164.8 476.3 1162.8 487.5 1161C498.6 1159.1 509.8 1157.3 521 1155.5C532.2 1153.7 543.9 1151.9 554.5 1150.3C565.1 1148.7 575 1147.2 584.4 1145.9C593.8 1144.5 601.7 1143.4 611.1 1142.1C620.6 1140.8 630.5 1139.5 641 1138.1C651.6 1136.7 663.4 1135.3 674.6 1133.9C685.7 1132.5 696.9 1131.2 708.1 1129.9C719.3 1128.6 730.4 1127.4 741.6 1126.2C752.8 1125 764 1123.8 775.1 1122.7C786.3 1121.6 797.5 1120.5 808.7 1119.5C819.8 1118.5 831 1117.5 842.2 1116.5C853.4 1115.6 864.5 1114.7 875.7 1113.8C886.9 1112.9 898 1112.1 909.2 1111.3C920.4 1110.5 931.6 1109.8 942.7 1109C953.9 1108.3 965.1 1107.7 976.3 1107C987.4 1106.4 998.6 1105.8 1009.8 1105.2C1021 1104.7 1032 1104.2 1043.4 1103.7C1054.8 1103.2 1066.5 1102.7 1078 1102.3C1089.6 1101.9 1106.9 1101.4 1112.7 1101.2" fill="none" stroke="#B293BB" stroke-width="7.6"/>
<path d="M88.8 1265.6C94.6 1265.3 112 1264.4 123.5 1263.9C135.1 1263.3 146.7 1262.8 158.3 1262.2C169.9 1261.7 181.4 1261.2 193.1 1260.7C204.9 1260.2 216.7 1259.7 228.8 1259.2C241 1258.7 253.7 1258.2 266.1 1257.8C278.5 1257.3 290.9 1256.9 303.3 1256.4C315.7 1256 328.2 1255.6 340.6 1255.2C353 1254.8 365.4 1254.4 377.8 1254C390.2 1253.6 402.6 1253.3 415.1 1252.9C427.5 1252.6 440 1252.3 452.3 1251.9C464.6 1251.6 477.5 1251.3 488.9 1251.1C500.3 1250.8 510.1 1250.6 520.7 1250.4C531.3 1250.2 541.9 1250 552.6 1249.8C563.2 1249.6 574 1249.4 584.4 1249.2C594.8 1249 604.9 1248.9 614.8 1248.8C624.7 1248.6 634.1 1248.5 643.8 1248.4C653.5 1248.2 663.1 1248.1 672.8 1248C682.4 1247.9 690.9 1247.8 701.7 1247.8C712.6 1247.7 725.7 1247.6 737.9 1247.5C750.2 1247.4 762.8 1247.3 775.2 1247.3C787.6 1247.3 800 1247.2 812.4 1247.2C824.8 1247.2 837.2 1247.2 849.7 1247.2C862.1 1247.2 874.5 1247.2 886.9 1247.3C899.3 1247.3 911.7 1247.4 924.1 1247.4C936.6 1247.5 948.9 1247.6 961.4 1247.7C973.9 1247.8 986.4 1247.9 999 1248C1011.6 1248.1 1024.3 1248.3 1036.9 1248.5C1049.5 1248.6 1062.2 1248.8 1074.8 1249C1087.4 1249.2 1106.3 1249.5 1112.7 1249.6" fill="none" stroke="#69759C" stroke-width="6.5"/>
<path d="M87.9 871.9V1392.1H1112.9" fill="none" stroke="#000" stroke-width="3.8"/>
<line x1="84.2" y1="893.2" x2="86.4" y2="893.2" stroke="#333" stroke-width="3.6"/>
<text x="73.8" y="902" font-size="22.9" fill="#231815" text-anchor="end">3.0</text>
<line x1="84.2" y1="1001.8" x2="86.4" y2="1001.8" stroke="#333" stroke-width="3.6"/>
<text x="73.8" y="1010.6" font-size="22.9" fill="#231815" text-anchor="end">2.5</text>
<line x1="84.2" y1="1110.8" x2="86.4" y2="1110.8" stroke="#333" stroke-width="3.6"/>
<text x="73.8" y="1119.6" font-size="22.9" fill="#231815" text-anchor="end">2.0</text>
<line x1="84.2" y1="1220.2" x2="86.4" y2="1220.2" stroke="#333" stroke-width="3.6"/>
<text x="73.8" y="1229" font-size="22.9" fill="#231815" text-anchor="end">1.5</text>
<line x1="84.2" y1="1329.3" x2="86.4" y2="1329.3" stroke="#333" stroke-width="3.6"/>
<text x="73.8" y="1338.1" font-size="22.9" fill="#231815" text-anchor="end">1.0</text>
<text x="85" y="1416.1" font-size="25.2" fill="#231815" text-anchor="middle">0</text>
<line x1="291.5" y1="1393.5" x2="291.5" y2="1395.1" stroke="#333" stroke-width="3.6"/>
<text x="291.8" y="1416.1" font-size="26" fill="#4D4D4D" text-anchor="middle">5</text>
<line x1="505.3" y1="1393.5" x2="505.3" y2="1395.1" stroke="#333" stroke-width="3.6"/>
<text x="505.6" y="1416.1" font-size="26" fill="#4D4D4D" text-anchor="middle">10</text>
<line x1="716.7" y1="1393.5" x2="716.7" y2="1395.1" stroke="#333" stroke-width="3.6"/>
<text x="717" y="1416.1" font-size="26" fill="#4D4D4D" text-anchor="middle">15</text>
<line x1="929" y1="1393.5" x2="929" y2="1395.1" stroke="#333" stroke-width="3.6"/>
<text x="929.3" y="1416.1" font-size="26" fill="#4D4D4D" text-anchor="middle">20</text>
<text x="494.4" y="1446.2" font-size="32.7" font-weight="bold">Time (month)</text>
<text transform="translate(28.6 1121.5) rotate(-90)" font-size="33.1" font-weight="bold" text-anchor="middle">logDCP</text>
<text x="882.6" y="915.9" font-size="26.2">DCP trajectories</text>
<rect x="882.6" y="927.3" width="21.4" height="18" fill="#CFCFCF"/>
<line x1="884.6" y1="936.3" x2="902" y2="936.3" stroke="#69759C" stroke-width="7"/>
<text x="911.7" y="938.9" font-size="26.1">Stable</text>
<rect x="882.6" y="950" width="21.4" height="18" fill="#CFCFCF"/>
<line x1="884.6" y1="959" x2="902" y2="959" stroke="#F3C8DE" stroke-width="7"/>
<text x="911.7" y="963.8" font-size="26.1">Rapid rising</text>
<rect x="882.6" y="972.5" width="21.4" height="18" fill="#CFCFCF"/>
<line x1="884.6" y1="981.5" x2="902" y2="981.5" stroke="#B293BB" stroke-width="7"/>
<text x="911.7" y="988.6" font-size="26.1">Slow rising</text>
<text x="50.5" y="1486.3" font-size="26.2" font-weight="bold">Percentage of recurrence patients (%)</text>
<text x="55.5" y="1519.6" font-size="26">Stable</text>
<text x="55.5" y="1547.3" font-size="26">Rapid rising</text>
<text x="55.5" y="1575" font-size="26">Slow rising</text>
<path d="M197 1495V1585.3H1113" fill="none" stroke="#000" stroke-width="3.8"/>
<text x="234.3" y="1523.5" font-size="26" text-anchor="middle">0</text>
<text x="413.3" y="1523.5" font-size="26" text-anchor="middle">5.0</text>
<text x="593.3" y="1523.5" font-size="26" text-anchor="middle">15.9</text>
<text x="771.8" y="1523.5" font-size="26" text-anchor="middle">23.7</text>
<text x="950" y="1523.5" font-size="26" text-anchor="middle">29.0</text>
<text x="234.3" y="1550.9" font-size="26" text-anchor="middle">0</text>
<text x="413.3" y="1550.9" font-size="26" text-anchor="middle">37.5</text>
<text x="593.3" y="1550.9" font-size="26" text-anchor="middle">73.8</text>
<text x="771.8" y="1550.9" font-size="26" text-anchor="middle">85.9</text>
<text x="950" y="1550.9" font-size="26" text-anchor="middle">90.0</text>
<text x="234.3" y="1577.5" font-size="26" text-anchor="middle">0</text>
<text x="413.3" y="1577.5" font-size="26" text-anchor="middle">5.7</text>
<text x="593.3" y="1577.5" font-size="26" text-anchor="middle">32.6</text>
<text x="771.8" y="1577.5" font-size="26" text-anchor="middle">51.5</text>
<text x="950" y="1577.5" font-size="26" text-anchor="middle">65.1</text>
<line x1="233.8" y1="1586.5" x2="233.8" y2="1589" stroke="#333" stroke-width="2.4"/>
<text x="234.3" y="1613" font-size="26" text-anchor="middle">0</text>
<line x1="411.5" y1="1586.5" x2="411.5" y2="1589" stroke="#333" stroke-width="2.4"/>
<text x="412" y="1613" font-size="26" text-anchor="middle">5</text>
<line x1="592.8" y1="1586.5" x2="592.8" y2="1589" stroke="#333" stroke-width="2.4"/>
<text x="593.3" y="1613" font-size="26" text-anchor="middle">10</text>
<line x1="772" y1="1586.5" x2="772" y2="1589" stroke="#333" stroke-width="2.4"/>
<text x="772.5" y="1613" font-size="26" text-anchor="middle">15</text>
<line x1="950.6" y1="1586.5" x2="950.6" y2="1589" stroke="#333" stroke-width="2.4"/>
<text x="951.1" y="1613" font-size="26" text-anchor="middle">20</text>
<text x="493.8" y="1642.5" font-size="32.7" font-weight="bold">Time (month)</text>
</g>
<g id="panel-d">
<text x="1150" y="840.5" font-size="33" font-weight="bold" fill="#1a1311">d</text>
<path d="M1269.2 875.3L1278.5 875.3L1278.5 879.9L1287.3 879.9L1287.3 883.9L1296.9 883.9L1296.9 888.4L1301.2 888.4L1301.2 902.6L1304 902.6L1304 919.6L1308.3 919.6L1308.3 945.2L1312.5 945.2L1312.5 962.2L1316.8 962.2L1316.8 973.6L1319.6 973.6L1319.6 987.8L1322.5 987.8L1322.5 1010.5L1326.7 1010.5L1326.7 1024.7L1329.6 1024.7L1329.6 1041.8L1332.6 1041.8L1332.6 1060L1336.9 1060L1336.9 1088.4L1344 1088.4L1344 1102.6L1352.5 1102.6L1352.5 1116.8L1356.7 1116.8L1356.7 1152.3L1367.5 1152.3L1367.5 1156.1L1375.9 1156.1L1375.9 1159.1L1380.9 1159.1L1380.9 1160.8L1390.8 1160.8L1390.8 1169.3L1397.9 1169.3L1397.9 1185L1399.3 1185L1399.3 1209.1L1406.4 1209.1L1406.4 1217.6L1443.4 1217.6L1443.4 1217.6L1444.8 1217.6L1444.8 1226.1L1459 1226.1L1459 1226.1L1459 1235.4L1503 1235.4L1503 1235.4L1504.2 1235.4L1504.2 1235.2L1538.3 1235.2L1538.3 1252.2L1571.7 1252.2L1571.7 1263.6L1581.6 1263.6L1581.6 1273.5L1852.7 1273.5L1852.7 1337.4L1581.6 1337.4L1581.6 1332.5L1571.7 1332.5L1571.7 1327.5L1544.7 1327.5L1544.7 1321.8L1538.3 1321.8L1538.3 1315.4L1504.2 1315.4L1504.2 1316.3L1503 1316.3L1503 1316.3L1459.6 1316.3L1459.6 1314.9L1458.1 1314.9L1458.1 1314.5L1450.2 1314.5L1450.2 1314.2L1444.1 1314.2L1444.1 1307.8L1442.8 1307.8L1442.8 1307.6L1432.3 1307.6L1432.3 1307.2L1418.4 1307.2L1418.4 1307.1L1411.6 1307.1L1411.6 1306.9L1406.9 1306.9L1406.9 1299.1L1401.8 1299.1L1401.8 1281.2L1396.6 1281.2L1396.6 1270.2L1395.8 1270.2L1395.8 1269.6L1390.1 1269.6L1390.1 1268.7L1382.3 1268.7L1382.3 1261.6L1380.9 1261.6L1380.9 1260.9L1370.7 1260.9L1370.7 1260.2L1361 1260.2L1361 1251.7L1357.5 1251.7L1357.5 1230.4L1353.9 1230.4L1353.9 1216.2L1349.6 1216.2L1349.6 1202L1341.1 1202L1341.1 1187.8L1335.4 1187.8L1335.4 1159.4L1331.2 1159.4L1331.2 1131L1326.9 1131L1326.9 1109.7L1323.4 1109.7L1323.4 1081.3L1319.8 1081.3L1319.8 1060L1315.6 1060L1315.6 1050.3L1311.8 1050.3L1311.8 1030.4L1309 1030.4L1309 1016.2L1306.9 1016.2L1306.9 1002L1305.4 1002L1305.4 985L1303.3 985L1303.3 967.9L1301.2 967.9L1301.2 950.9L1298.3 950.9L1298.3 933.8L1295.5 933.8L1295.5 919.6L1292.7 919.6L1292.7 902.6L1288.4 902.6L1288.4 901.2L1283.4 901.2L1283.4 887L1279.2 887L1279.2 878.5L1274.2 878.5L1274.2 875.3L1269.2 875.3Z" fill="#F6CCE0" fill-opacity="0.32"/>
<path d="M1269.2 875.3L1302.6 875.3L1302.6 875.3L1308.3 875.3L1308.3 877.5L1318 877.5L1318 881.3L1325.3 881.3L1325.3 884.1L1329.6 884.1L1329.6 895.5L1335.3 895.5L1335.3 906.9L1339.5 906.9L1339.5 921.1L1345.2 921.1L1345.2 933.8L1350.9 933.8L1350.9 959.4L1360.8 959.4L1360.8 962.2L1367.9 962.2L1367.9 980.7L1376.4 980.7L1376.4 987.8L1380.7 987.8L1380.7 1009.1L1389.6 1009.1L1389.6 1018L1396.3 1018L1396.3 1024.7L1402 1024.7L1402 1037.5L1407.6 1037.5L1407.6 1041.7L1413.4 1041.7L1413.4 1046L1417.8 1046L1417.8 1060L1426.3 1060L1426.3 1074.2L1432 1074.2L1432 1084.1L1439.1 1084.1L1439.1 1095.5L1441.9 1095.5L1441.9 1105.4L1450.5 1105.4L1450.5 1106.9L1457.6 1106.9L1457.6 1116.8L1462.6 1116.8L1462.6 1117.3L1471.8 1117.3L1471.8 1118.2L1478.9 1118.2L1478.9 1126.7L1484.5 1126.7L1484.5 1138.1L1488.8 1138.1L1488.8 1145.2L1498.7 1145.2L1498.7 1146.6L1503 1146.6L1503 1153.7L1504.2 1153.7L1504.2 1159.9L1518.4 1159.9L1518.4 1168.5L1543.3 1168.5L1543.3 1174.9L1570.9 1174.9L1570.9 1179.8L1593 1179.8L1593 1185.5L1607.2 1185.5L1607.2 1191.2L1616.4 1191.2L1616.4 1197.6L1643.4 1197.6L1643.4 1204L1660.4 1204L1660.4 1217.5L1679.6 1217.5L1679.6 1223.8L1772.8 1223.8L1772.8 1231.3L1934 1231.3L1934 1327.4L1772.8 1327.4L1772.8 1298L1679.6 1298L1679.6 1292L1660.4 1292L1660.4 1279.2L1643.4 1279.2L1643.4 1273.5L1616.4 1273.5L1616.4 1267.2L1607.2 1267.2L1607.2 1261.5L1593 1261.5L1593 1256.5L1570.9 1256.5L1570.9 1251.5L1543.3 1251.5L1543.3 1245.9L1518.4 1245.9L1518.4 1236.6L1504.2 1236.6L1504.2 1230.4L1503 1230.4L1503 1227.4L1498.2 1227.4L1498.2 1223.3L1491.6 1223.3L1491.6 1217.6L1486 1217.6L1486 1207.7L1480.3 1207.7L1480.3 1197.7L1473.2 1197.7L1473.2 1192.8L1462.4 1192.8L1462.4 1190.6L1457.6 1190.6L1457.6 1186.9L1447.3 1186.9L1447.3 1185L1441.9 1185L1441.9 1173.6L1440.5 1173.6L1440.5 1159.4L1432 1159.4L1432 1148L1424.9 1148L1424.9 1131L1417.8 1131L1417.8 1121.1L1407.9 1121.1L1407.9 1108.3L1397.9 1108.3L1397.9 1092.7L1389.4 1092.7L1389.4 1089.8L1386.6 1089.8L1386.6 1081.3L1378 1081.3L1378 1057.4L1369.3 1057.4L1369.3 1043.2L1365.1 1043.2L1365.1 1030.4L1359.4 1030.4L1359.4 1027.6L1352.3 1027.6L1352.3 1016.2L1350.9 1016.2L1350.9 1000.6L1345.2 1000.6L1345.2 983.5L1340.9 983.5L1340.9 965.1L1336.7 965.1L1336.7 952.3L1332.4 952.3L1332.4 939.5L1329.6 939.5L1329.6 925.3L1326.7 925.3L1326.7 916.8L1322.5 916.8L1322.5 906.9L1316.8 906.9L1316.8 896.9L1308.3 896.9L1308.3 891.2L1301.2 891.2L1301.2 881.3L1295.5 881.3L1295.5 880.4L1291.7 880.4L1291.7 877.2L1277.6 877.2L1277.6 876.2L1272.8 876.2L1272.8 875.3L1269.2 875.3Z" fill="#AE90B8" fill-opacity="0.32"/>
<path d="M1269.2 875.3L1271.5 875.3L1271.5 875.2L1275 875.2L1275 875L1277.1 875L1277.1 874.9L1279.6 874.9L1279.6 874.8L1285.3 874.8L1285.3 874.5L1291.7 874.5L1291.7 874.2L1298.3 874.2L1298.3 873.9L1301.5 873.9L1301.5 875L1306.9 875L1306.9 876.9L1313.1 876.9L1313.1 881.1L1316.8 881.1L1316.8 883.6L1319.1 883.6L1319.1 886.5L1323.9 886.5L1323.9 892.3L1328.3 892.3L1328.3 896.8L1331 896.8L1331 899.6L1336 899.6L1336 903.7L1339.5 903.7L1339.5 906.6L1342.2 906.6L1342.2 908.8L1348 908.8L1348 913.6L1352.5 913.6L1352.5 918L1356.6 918L1356.6 922L1360.6 922L1360.6 925.7L1365.1 925.7L1365.1 929.9L1369 929.9L1369 933.7L1373.6 933.7L1373.6 938.3L1380 938.3L1380 944.6L1382.1 944.6L1382.1 946.7L1384.7 946.7L1384.7 948.5L1390.6 948.5L1390.6 953L1392.7 953L1392.7 954.1L1399.8 954.1L1399.8 958L1402 958L1402 959.2L1405 959.2L1405 960.7L1408.1 960.7L1408.1 962.2L1413.4 962.2L1413.4 964.7L1417.1 964.7L1417.1 966.6L1419.2 966.6L1419.2 967.6L1424.7 967.6L1424.7 970.3L1427.8 970.3L1427.8 971.4L1433.9 971.4L1433.9 973.6L1436.1 973.6L1436.1 974.4L1439.2 974.4L1439.2 975.1L1443.2 975.1L1443.2 976L1447.4 976L1447.4 977.1L1452.4 977.1L1452.4 978.9L1456.7 978.9L1456.7 980.4L1458.8 980.4L1458.8 981.2L1462.7 981.2L1462.7 983.1L1467.4 983.1L1467.4 985.3L1470.2 985.3L1470.2 986.7L1473.2 986.7L1473.2 988.2L1478.7 988.2L1478.7 990.8L1481.5 990.8L1481.5 992.2L1483.6 992.2L1483.6 993.2L1490.9 993.2L1490.9 996.8L1492.9 996.8L1492.9 997.8L1498.1 997.8L1498.1 999.6L1501.4 999.6L1501.4 1000.8L1506.2 1000.8L1506.2 1001.9L1508.5 1001.9L1508.5 1002.5L1516.7 1002.5L1516.7 1004.5L1519.8 1004.5L1519.8 1005.2L1522.7 1005.2L1522.7 1005.9L1525.8 1005.9L1525.8 1006.7L1529.6 1006.7L1529.6 1007.6L1532.3 1007.6L1532.3 1008.7L1536.7 1008.7L1536.7 1010.4L1540.3 1010.4L1540.3 1011.8L1542.5 1011.8L1542.5 1012.6L1548.5 1012.6L1548.5 1014.9L1555.3 1014.9L1555.3 1017.5L1562.5 1017.5L1562.5 1018.9L1567.8 1018.9L1567.8 1019.9L1572.4 1019.9L1572.4 1020.7L1576.2 1020.7L1576.2 1021.4L1578.5 1021.4L1578.5 1021.9L1580.9 1021.9L1580.9 1022.3L1585.3 1022.3L1585.3 1023.1L1589.1 1023.1L1589.1 1023.9L1595.3 1023.9L1595.3 1025L1599.6 1025L1599.6 1025.8L1604.3 1025.8L1604.3 1026.7L1606.6 1026.7L1606.6 1027.1L1609.9 1027.1L1609.9 1028.1L1613.3 1028.1L1613.3 1029.1L1620 1029.1L1620 1031L1623.8 1031L1623.8 1032L1629.1 1032L1629.1 1033.6L1632.2 1033.6L1632.2 1034.5L1635.6 1034.5L1635.6 1035.8L1641.6 1035.8L1641.6 1038.1L1646.3 1038.1L1646.3 1039.9L1649.7 1039.9L1649.7 1041.2L1654.6 1041.2L1654.6 1043.1L1657.8 1043.1L1657.8 1044.4L1662.5 1044.4L1662.5 1046L1668 1046L1668 1047.8L1672.6 1047.8L1672.6 1049.3L1676.7 1049.3L1676.7 1050.7L1681.2 1050.7L1681.2 1052.3L1683.5 1052.3L1683.5 1053L1686.9 1053L1686.9 1053.7L1689.3 1053.7L1689.3 1054.1L1695.6 1054.1L1695.6 1055.3L1699.2 1055.3L1699.2 1056L1704.3 1056L1704.3 1056.9L1709.1 1056.9L1709.1 1057.8L1712.8 1057.8L1712.8 1058.1L1715.9 1058.1L1715.9 1058.4L1719.8 1058.4L1719.8 1058.7L1726.8 1058.7L1726.8 1059.3L1732.4 1059.3L1732.4 1059.8L1734.8 1059.8L1734.8 1060L1740.5 1060L1740.5 1060.5L1745.1 1060.5L1745.1 1060.9L1747.6 1060.9L1747.6 1061.1L1753.4 1061.1L1753.4 1061.6L1756.4 1061.6L1756.4 1061.9L1760.4 1061.9L1760.4 1062.3L1763 1062.3L1763 1062.9L1766.1 1062.9L1766.1 1063.6L1771.6 1063.6L1771.6 1064.9L1776.8 1064.9L1776.8 1066.1L1779.3 1066.1L1779.3 1066.7L1786.1 1066.7L1786.1 1068.3L1790 1068.3L1790 1069.4L1799.2 1069.4L1799.2 1072.1L1801.8 1072.1L1801.8 1072.8L1804.4 1072.8L1804.4 1073.6L1809.2 1073.6L1809.2 1075L1811.7 1075L1811.7 1075.7L1814 1075.7L1814 1076L1819.2 1076L1819.2 1076.7L1822.6 1076.7L1822.6 1077.2L1830.1 1077.2L1830.1 1078.2L1835 1078.2L1835 1078.9L1837.3 1078.9L1837.3 1079.2L1840 1079.2L1840 1079.6L1843.2 1079.6L1843.2 1080L1846 1080L1846 1080.4L1849.5 1080.4L1849.5 1080.8L1852.8 1080.8L1852.8 1081.3L1863 1081.3L1863 1082.7L1865.4 1082.7L1865.4 1083.9L1872.8 1083.9L1872.8 1087.5L1875.8 1087.5L1875.8 1088.9L1879.3 1088.9L1879.3 1089.6L1884 1089.6L1884 1090.5L1888.6 1090.5L1888.6 1091.3L1893.1 1091.3L1893.1 1092.2L1895.4 1092.2L1895.4 1092.6L1898.9 1092.6L1898.9 1093.2L1903 1093.2L1903 1094L1909.8 1094L1909.8 1095.3L1914.3 1095.3L1914.3 1096.1L1920.2 1096.1L1920.2 1096.8L1923.4 1096.8L1923.4 1097.2L1927 1097.2L1927 1097.6L1930.6 1097.6L1930.6 1098L1934 1098L1934 1098.4L1934 1141L1934 1140.7L1931.8 1140.7L1931.8 1140.4L1929.6 1140.4L1929.6 1139.4L1922.6 1139.4L1922.6 1138.8L1918.5 1138.8L1918.5 1138.2L1914.3 1138.2L1914.3 1137L1909.1 1137L1909.1 1136.3L1905.8 1136.3L1905.8 1135L1899.9 1135L1899.9 1134.4L1897 1134.4L1897 1133.4L1892.2 1133.4L1892.2 1132.6L1888.6 1132.6L1888.6 1132L1885.7 1132L1885.7 1131.3L1882.6 1131.3L1882.6 1129.9L1875.8 1129.9L1875.8 1126.1L1868.4 1126.1L1868.4 1124.4L1865.1 1124.4L1865.1 1123.2L1863 1123.2L1863 1122.8L1860.4 1122.8L1860.4 1122.3L1857.5 1122.3L1857.5 1121.8L1854.3 1121.8L1854.3 1120.5L1846.4 1120.5L1846.4 1119.4L1839.9 1119.4L1839.9 1119L1837.3 1119L1837.3 1118.6L1834.9 1118.6L1834.9 1117.8L1830.2 1117.8L1830.2 1117.1L1825.6 1117.1L1825.6 1116.5L1822.2 1116.5L1822.2 1115.6L1816.5 1115.6L1816.5 1114.8L1811.7 1114.8L1811.7 1112.9L1805.9 1112.9L1805.9 1110.8L1799.3 1110.8L1799.3 1110L1796.5 1110L1796.5 1108.7L1792.5 1108.7L1792.5 1107.7L1789.2 1107.7L1789.2 1106.7L1786.1 1106.7L1786.1 1106L1783.5 1106L1783.5 1105.3L1780.8 1105.3L1780.8 1103.1L1772.7 1103.1L1772.7 1102.1L1768.7 1102.1L1768.7 1100.7L1763.6 1100.7L1763.6 1099.9L1760.4 1099.9L1760.4 1099.6L1757.9 1099.6L1757.9 1099.3L1755.5 1099.3L1755.5 1098.8L1751.2 1098.8L1751.2 1098.3L1746.6 1098.3L1746.6 1097.2L1737.3 1097.2L1737.3 1096.9L1734.8 1096.9L1734.8 1096.4L1730.3 1096.4L1730.3 1095.9L1726 1095.9L1726 1095L1718.7 1095L1718.7 1094.6L1715.2 1094.6L1715.2 1094.2L1711.3 1094.2L1711.3 1093.9L1709.1 1093.9L1709.1 1093L1705.1 1093L1705.1 1092.2L1701.3 1092.2L1701.3 1091.4L1697.6 1091.4L1697.6 1090.7L1694.3 1090.7L1694.3 1089.4L1688.1 1089.4L1688.1 1088.4L1683.5 1088.4L1683.5 1085.8L1676.5 1085.8L1676.5 1084.6L1673.1 1084.6L1673.1 1083.7L1670.8 1083.7L1670.8 1082.3L1666.9 1082.3L1666.9 1080.9L1662.9 1080.9L1662.9 1079L1657.8 1079L1657.8 1077.9L1655.1 1077.9L1655.1 1077L1653 1077L1653 1075.6L1649.7 1075.6L1649.7 1073.8L1645.3 1073.8L1645.3 1071.9L1640.6 1071.9L1640.6 1068.4L1632.2 1068.4L1632.2 1067.5L1629.4 1067.5L1629.4 1064.5L1620 1064.5L1620 1063.1L1615.5 1063.1L1615.5 1061.8L1611.3 1061.8L1611.3 1061L1608.8 1061L1608.8 1060.3L1606.6 1060.3L1606.6 1058.9L1600.1 1058.9L1600.1 1057.4L1593.3 1057.4L1593.3 1056.4L1588.5 1056.4L1588.5 1055.8L1586 1055.8L1586 1055.3L1583.7 1055.3L1583.7 1054.7L1580.9 1054.7L1580.9 1053.8L1576.4 1053.8L1576.4 1053L1572.8 1053L1572.8 1051.9L1567.8 1051.9L1567.8 1051.4L1565.3 1051.4L1565.3 1049.9L1558.3 1049.9L1558.3 1049.2L1555.3 1049.2L1555.3 1048.3L1553 1048.3L1553 1044.4L1543.7 1044.4L1543.7 1043.4L1541.2 1043.4L1541.2 1042.1L1538.1 1042.1L1538.1 1040.7L1534.9 1040.7L1534.9 1038.6L1529.6 1038.6L1529.6 1037.1L1524.4 1037.1L1524.4 1036.5L1521.9 1036.5L1521.9 1035.3L1517.8 1035.3L1517.8 1034.7L1515.6 1034.7L1515.6 1034.2L1513.5 1034.2L1513.5 1032.3L1506.7 1032.3L1506.7 1030.9L1501.4 1030.9L1501.4 1029.8L1498.5 1029.8L1498.5 1027.6L1492.9 1027.6L1492.9 1026.4L1490.6 1026.4L1490.6 1023.2L1484.4 1023.2L1484.4 1021.8L1481.5 1021.8L1481.5 1018.8L1475.7 1018.8L1475.7 1017.4L1473 1017.4L1473 1015.9L1470.2 1015.9L1470.2 1013L1464.6 1013L1464.6 1011.1L1460.9 1011.1L1460.9 1010L1458.8 1010L1458.8 1007.2L1451.5 1007.2L1451.5 1006.4L1449.5 1006.4L1449.5 1005.6L1447.4 1005.6L1447.4 1003.8L1440.8 1003.8L1440.8 1003.3L1438.6 1003.3L1438.6 1002.6L1436.1 1002.6L1436.1 1001.8L1434.1 1001.8L1434.1 999.2L1427.3 999.2L1427.3 998.1L1424.7 998.1L1424.7 994.8L1418.3 994.8L1418.3 993.5L1415.7 993.5L1415.7 992.3L1413.4 992.3L1413.4 991.2L1411.2 991.2L1411.2 989.9L1408.7 989.9L1408.7 986.4L1402 986.4L1402 984.8L1399.2 984.8L1399.2 983.4L1396.7 983.4L1396.7 979.9L1390.6 979.9L1390.6 975L1384.3 975L1384.3 973.3L1382.1 973.3L1382.1 967.4L1376.3 967.4L1376.3 964.7L1373.6 964.7L1373.6 961.5L1370.4 961.5L1370.4 956L1365.1 956L1365.1 949.1L1358.7 949.1L1358.7 946.8L1356.6 946.8L1356.6 940.2L1351.8 940.2L1351.8 935.2L1348 935.2L1348 932L1345.4 932L1345.4 925L1339.5 925L1339.5 922.2L1337.2 922.2L1337.2 914.8L1331 914.8L1331 910L1327.5 910L1327.5 904.9L1323.9 904.9L1323.9 901.2L1321.6 901.2L1321.6 893.6L1316.8 893.6L1316.8 888.4L1311.9 888.4L1311.9 883.2L1306.9 883.2L1306.9 878.8L1300.9 878.8L1300.9 877L1298.3 877L1298.3 876.8L1294.8 876.8L1294.8 876.5L1290.1 876.5L1290.1 876.2L1284.8 876.2L1284.8 875.9L1279.9 875.9L1279.9 875.7L1276.5 875.7L1276.5 875.5L1272.4 875.5L1272.4 875.3L1269.2 875.3Z" fill="#69759C" fill-opacity="0.33"/>
<path d="M1269.2 875.3L1298.3 875.3L1298.3 875.3L1300.4 875.3L1300.4 876.4L1302.6 876.4L1302.6 877.6L1306.9 877.6L1306.9 879.9L1308.9 879.9L1308.9 881.6L1313.4 881.6L1313.4 885.5L1316.8 885.5L1316.8 888.4L1320.5 888.4L1320.5 893.5L1323.9 893.5L1323.9 898.3L1327 898.3L1327 902L1331 902L1331 906.9L1332.7 906.9L1332.7 908.5L1336 908.5L1336 911.9L1339.5 911.9L1339.5 915.4L1341.1 915.4L1341.1 917L1344.2 917L1344.2 920.1L1348 920.1L1348 923.9L1349.8 923.9L1349.8 925.9L1351.3 925.9L1351.3 927.7L1356.6 927.7L1356.6 933.8L1359.8 933.8L1359.8 937.1L1362.9 937.1L1362.9 940.2L1365.1 940.2L1365.1 942.4L1367 942.4L1367 944.3L1368.9 944.3L1368.9 946.2L1373.6 946.2L1373.6 950.9L1377.7 950.9L1377.7 955L1380.5 955L1380.5 957.8L1382.1 957.8L1382.1 959.4L1385.2 959.4L1385.2 961.7L1387.4 961.7L1387.4 963.4L1390.6 963.4L1390.6 965.8L1392.3 965.8L1392.3 966.7L1398.4 966.7L1398.4 970.1L1400.5 970.1L1400.5 971.3L1402 971.3L1402 972.2L1404.1 972.2L1404.1 973.2L1405.7 973.2L1405.7 974L1407.9 974L1407.9 975.1L1413.4 975.1L1413.4 977.9L1415.8 977.9L1415.8 979.1L1418 979.1L1418 980.2L1422.3 980.2L1422.3 982.3L1424.7 982.3L1424.7 983.5L1428.3 983.5L1428.3 984.9L1430.9 984.9L1430.9 985.8L1432.6 985.8L1432.6 986.5L1436.1 986.5L1436.1 987.8L1437.8 987.8L1437.8 988.2L1439.3 988.2L1439.3 988.6L1443.5 988.6L1443.5 989.6L1447.4 989.6L1447.4 990.6L1450 990.6L1450 991.6L1452.7 991.6L1452.7 992.6L1455.6 992.6L1455.6 993.7L1458.8 993.7L1458.8 994.9L1462 994.9L1462 996.5L1464.2 996.5L1464.2 997.6L1466.4 997.6L1466.4 998.7L1470.2 998.7L1470.2 1000.6L1473.3 1000.6L1473.3 1002.1L1477 1002.1L1477 1004L1478.9 1004L1478.9 1005L1481.5 1005L1481.5 1006.3L1484.3 1006.3L1484.3 1007.7L1487.4 1007.7L1487.4 1009.2L1489.1 1009.2L1489.1 1010L1492.9 1010L1492.9 1011.9L1497.4 1011.9L1497.4 1013.6L1499.5 1013.6L1499.5 1014.4L1501.4 1014.4L1501.4 1015.1L1503.5 1015.1L1503.5 1015.6L1506.2 1015.6L1506.2 1016.3L1508.3 1016.3L1508.3 1016.8L1511.7 1016.8L1511.7 1017.7L1515.2 1017.7L1515.2 1018.6L1517.7 1018.6L1517.7 1019.3L1523.1 1019.3L1523.1 1020.6L1527.8 1020.6L1527.8 1021.8L1529.6 1021.8L1529.6 1022.3L1535.1 1022.3L1535.1 1024.5L1539.8 1024.5L1539.8 1026.4L1541.3 1026.4L1541.3 1027L1543 1027L1543 1027.6L1545.3 1027.6L1545.3 1028.6L1547.1 1028.6L1547.1 1029.3L1549.4 1029.3L1549.4 1030.2L1552.3 1030.2L1552.3 1031.4L1555.3 1031.4L1555.3 1032.6L1557.5 1032.6L1557.5 1033L1564 1033L1564 1034.3L1565.6 1034.3L1565.6 1034.6L1569.3 1034.6L1569.3 1035.4L1570.9 1035.4L1570.9 1035.7L1572.8 1035.7L1572.8 1036.1L1576 1036.1L1576 1036.7L1578.8 1036.7L1578.8 1037.3L1580.9 1037.3L1580.9 1037.7L1582.6 1037.7L1582.6 1038L1585.9 1038L1585.9 1038.7L1588.8 1038.7L1588.8 1039.3L1591.6 1039.3L1591.6 1039.8L1594 1039.8L1594 1040.3L1598 1040.3L1598 1041.1L1601.4 1041.1L1601.4 1041.8L1605.1 1041.8L1605.1 1042.5L1606.6 1042.5L1606.6 1042.8L1608.7 1042.8L1608.7 1043.5L1610.4 1043.5L1610.4 1044L1612.3 1044L1612.3 1044.6L1613.9 1044.6L1613.9 1045L1616.9 1045L1616.9 1045.9L1620.1 1045.9L1620.1 1046.9L1626.4 1046.9L1626.4 1048.8L1629.1 1048.8L1629.1 1049.6L1632.2 1049.6L1632.2 1050.5L1637.2 1050.5L1637.2 1052.5L1639.7 1052.5L1639.7 1053.5L1641.8 1053.5L1641.8 1054.4L1643.7 1054.4L1643.7 1055.1L1646.4 1055.1L1646.4 1056.2L1651.3 1056.2L1651.3 1058.1L1653.3 1058.1L1653.3 1058.9L1654.9 1058.9L1654.9 1059.6L1657.8 1059.6L1657.8 1060.8L1661.2 1060.8L1661.2 1061.9L1663 1061.9L1663 1062.6L1665.1 1062.6L1665.1 1063.3L1666.5 1063.3L1666.5 1063.8L1671.2 1063.8L1671.2 1065.4L1673.9 1065.4L1673.9 1066.4L1679.2 1066.4L1679.2 1068.2L1681.5 1068.2L1681.5 1069.1L1683.5 1069.1L1683.5 1069.7L1685 1069.7L1685 1070L1689.7 1070L1689.7 1071L1692.5 1071L1692.5 1071.5L1694.6 1071.5L1694.6 1072L1697.2 1072L1697.2 1072.5L1699.3 1072.5L1699.3 1072.9L1702.3 1072.9L1702.3 1073.5L1707.1 1073.5L1707.1 1074.5L1709.1 1074.5L1709.1 1074.9L1711.2 1074.9L1711.2 1075.1L1717 1075.1L1717 1075.7L1721.3 1075.7L1721.3 1076.1L1723.5 1076.1L1723.5 1076.3L1726.3 1076.3L1726.3 1076.6L1727.9 1076.6L1727.9 1076.7L1730.3 1076.7L1730.3 1077L1732.1 1077L1732.1 1077.2L1734.8 1077.2L1734.8 1077.4L1737 1077.4L1737 1077.7L1738.5 1077.7L1738.5 1077.8L1740.4 1077.8L1740.4 1078L1742.5 1078L1742.5 1078.2L1744.6 1078.2L1744.6 1078.4L1747.7 1078.4L1747.7 1078.7L1749.9 1078.7L1749.9 1078.9L1754.3 1078.9L1754.3 1079.4L1760.4 1079.4L1760.4 1080L1761.8 1080L1761.8 1080.4L1763.6 1080.4L1763.6 1080.8L1765.4 1080.8L1765.4 1081.2L1767.4 1081.2L1767.4 1081.7L1769.5 1081.7L1769.5 1082.3L1773.6 1082.3L1773.6 1083.3L1778.3 1083.3L1778.3 1084.5L1783 1084.5L1783 1085.7L1786.1 1085.7L1786.1 1086.4L1789.1 1086.4L1789.1 1087.3L1790.8 1087.3L1790.8 1087.8L1793.6 1087.8L1793.6 1088.7L1796.2 1088.7L1796.2 1089.5L1797.8 1089.5L1797.8 1089.9L1800.6 1089.9L1800.6 1090.8L1806.9 1090.8L1806.9 1092.7L1810.2 1092.7L1810.2 1093.6L1811.7 1093.6L1811.7 1094.1L1813.4 1094.1L1813.4 1094.4L1815.6 1094.4L1815.6 1094.7L1817.3 1094.7L1817.3 1094.9L1819.5 1094.9L1819.5 1095.3L1822.2 1095.3L1822.2 1095.7L1824.6 1095.7L1824.6 1096L1827.9 1096L1827.9 1096.5L1833.7 1096.5L1833.7 1097.4L1837.3 1097.4L1837.3 1097.9L1839.1 1097.9L1839.1 1098.2L1842.1 1098.2L1842.1 1098.7L1848.4 1098.7L1848.4 1099.6L1849.8 1099.6L1849.8 1099.8L1851.4 1099.8L1851.4 1100.1L1856.9 1100.1L1856.9 1100.9L1859.5 1100.9L1859.5 1101.3L1861.3 1101.3L1861.3 1101.5L1863 1101.5L1863 1101.8L1866.3 1101.8L1866.3 1103.4L1868.5 1103.4L1868.5 1104.6L1872.2 1104.6L1872.2 1106.4L1875.8 1106.4L1875.8 1108.2L1878.5 1108.2L1878.5 1108.7L1882.4 1108.7L1882.4 1109.5L1885.6 1109.5L1885.6 1110.2L1888.6 1110.2L1888.6 1110.8L1892.9 1110.8L1892.9 1111.6L1895.7 1111.6L1895.7 1112.2L1902.9 1112.2L1902.9 1113.6L1904.6 1113.6L1904.6 1114L1906.1 1114L1906.1 1114.3L1907.7 1114.3L1907.7 1114.6L1909.5 1114.6L1909.5 1114.9L1912.6 1114.9L1912.6 1115.6L1914.3 1115.6L1914.3 1115.9L1915.9 1115.9L1915.9 1116.1L1917.4 1116.1L1917.4 1116.3L1920.7 1116.3L1920.7 1116.7L1923.4 1116.7L1923.4 1117.1L1926.4 1117.1L1926.4 1117.5L1930 1117.5L1930 1117.9L1934 1117.9L1934 1118.5" fill="none" stroke="#69759C" stroke-width="6.8" stroke-linejoin="round"/>
<path d="M1269.2 875.3L1273.6 875.3L1273.6 877.1L1277 877.1L1277 878.5L1284.1 878.5L1284.1 884.1L1290.5 884.1L1290.5 889.8L1293.4 889.8L1293.4 902.6L1296.2 902.6L1296.2 916.8L1299.1 916.8L1299.1 931L1301.2 931L1301.2 945.2L1304 945.2L1304 959.4L1305.4 959.4L1305.4 973.6L1307.6 973.6L1307.6 987.8L1311.1 987.8L1311.1 1002L1315.4 1002L1315.4 1013.4L1318.2 1013.4L1318.2 1027.6L1321.1 1027.6L1321.1 1044.6L1323.1 1044.6L1323.1 1064.3L1326.2 1064.3L1326.2 1081.3L1329.1 1081.3L1329.1 1102.6L1331.9 1102.6L1331.9 1123.9L1335.4 1123.9L1335.4 1145.2L1339.7 1145.2L1339.7 1156.6L1346.8 1156.6L1346.8 1167.9L1352.5 1167.9L1352.5 1177.9L1354.6 1177.9L1354.6 1194.9L1357.5 1194.9L1357.5 1210.5L1361 1210.5L1361 1217.6L1370.9 1217.6L1370.9 1219.4L1373.9 1219.4L1373.9 1219.9L1377.8 1219.9L1377.8 1220.6L1380.9 1220.6L1380.9 1221.2L1383.7 1221.2L1383.7 1227.6L1389 1227.6L1389 1228.4L1392.2 1228.4L1392.2 1229L1395.1 1229L1395.1 1243.2L1399.3 1243.2L1399.3 1246L1402.2 1246L1402.2 1261.6L1407.9 1261.6L1407.9 1271.6L1410.9 1271.6L1410.9 1271.6L1421 1271.6L1421 1271.9L1426.7 1271.9L1426.7 1272L1433.6 1272L1433.6 1272.1L1436.5 1272.1L1436.5 1272.2L1439.3 1272.2L1439.3 1272.2L1442.8 1272.2L1442.8 1272.3L1444.1 1272.3L1444.1 1281.2L1447.2 1281.2L1447.2 1281.5L1452.1 1281.5L1452.1 1281.8L1458.1 1281.8L1458.1 1282.2L1459.6 1282.2L1459.6 1288.6L1503 1288.6L1503 1288.6L1504 1288.6L1504 1288.5L1537.6 1288.5L1537.6 1296.3L1544.7 1296.3L1544.7 1304.8L1571.7 1304.8L1571.7 1313.3L1580.9 1313.3L1580.9 1321.4L1857 1321.4" fill="none" stroke="#F6CCE0" stroke-width="6.8" stroke-linejoin="round"/>
<path d="M1269.2 875.3L1292.7 875.3L1292.7 875.3L1299.8 875.3L1299.8 882.7L1305.3 882.7L1305.3 887.3L1308.3 887.3L1308.3 889.8L1313.9 889.8L1313.9 894.5L1316.8 894.5L1316.8 896.9L1323.9 896.9L1323.9 904L1328.2 904L1328.2 914L1330.3 914L1330.3 923.9L1332.4 923.9L1332.4 936.7L1335.3 936.7L1335.3 950.9L1339.5 950.9L1339.5 956.6L1343.8 956.6L1343.8 970.8L1346.6 970.8L1346.6 980.7L1350.9 980.7L1350.9 992.8L1355.1 992.8L1355.1 994.5L1359.4 994.5L1359.4 996.3L1363.7 996.3L1363.7 1004.8L1367.9 1004.8L1367.9 1014.8L1373.6 1014.8L1373.6 1023.3L1377.2 1023.3L1377.2 1033.2L1379.3 1033.2L1379.3 1046L1382.3 1046L1382.3 1048.7L1387.1 1048.7L1387.1 1053.1L1392.2 1053.1L1392.2 1067.1L1394.4 1067.1L1394.4 1068.5L1400.8 1068.5L1400.8 1072.8L1402.2 1072.8L1402.2 1081.3L1407.1 1081.3L1407.1 1084.6L1410.7 1084.6L1410.7 1087L1417.8 1087L1417.8 1096.9L1422.1 1096.9L1422.1 1108.3L1429.2 1108.3L1429.2 1116.8L1434.8 1116.8L1434.8 1125.3L1440.5 1125.3L1440.5 1139.5L1441.9 1139.5L1441.9 1148L1447.1 1148L1447.1 1149.2L1451.1 1149.2L1451.1 1150.1L1454.7 1150.1L1454.7 1150.9L1459 1150.9L1459 1159.4L1464.5 1159.4L1464.5 1159.9L1470.2 1159.9L1470.2 1160.4L1474.6 1160.4L1474.6 1160.8L1477.4 1160.8L1477.4 1170.8L1481.7 1170.8L1481.7 1177.9L1486 1177.9L1486 1185L1491.6 1185L1491.6 1189.2L1497.3 1189.2L1497.3 1190.6L1504.2 1190.6L1504.2 1203.3L1515.5 1203.3L1515.5 1213.2L1541.5 1213.2L1541.5 1218.9L1570.7 1218.9L1570.7 1223.8L1592.5 1223.8L1592.5 1228.8L1607.5 1228.8L1607.5 1235.9L1616.5 1235.9L1616.5 1242.3L1643 1242.3L1643 1248L1660.4 1248L1660.4 1262.9L1679.6 1262.9L1679.6 1269.3L1772.8 1269.3L1772.8 1279.5L1934 1279.5" fill="none" stroke="#AE90B8" stroke-width="6.8" stroke-linejoin="round"/>
<path d="M1284.8 869.1v12.4M1278.6 875.3h12.4" fill="none" stroke="#69759C" stroke-width="1.8"/>
<path d="M1441.4 982.2v12.8M1910 1108.5v12.8M1377.5 944.5v12.8M1746 1072v12.8M1351.3 919.5v12.8M1454.6 986.2v12.8M1933.4 1111.5v12.8M1430.4 978.5v12.8M1705.9 1067.1v12.8M1589.5 1032.9v12.8M1585.6 1031.6v12.8M1612.3 1037.6v12.8M1419.5 973.8v12.8M1826 1089.6v12.8M1354.1 921.3v12.8M1446.2 983.2v12.8M1309.7 875.2v12.8M1466.9 992.3v12.8M1556.7 1026.2v12.8M1871.6 1098.2v12.8M1538.5 1018.1v12.8M1369.4 939.8v12.8M1461.6 988.5v12.8M1928.7 1111.1v12.8M1337.2 905.5v12.8M1692 1064.6v12.8M1537.3 1018.1v12.8M1718 1069.3v12.8M1512.6 1011.3v12.8M1737.4 1071.3v12.8M1614 1038.6v12.8M1710.9 1068.5v12.8M1871.2 1098.2v12.8M1667.4 1057.4v12.8M1387.5 957v12.8M1338 905.5v12.8M1899.6 1105.8v12.8M1608.3 1036.4v12.8M1420.5 973.8v12.8M1899.6 1105.8v12.8M1665.8 1056.9v12.8M1761.3 1073.6v12.8M1858.2 1094.5v12.8M1479 998.6v12.8M1524.2 1014.2v12.8M1856.3 1093.7v12.8M1383 953v12.8M1783.9 1079.3v12.8M1359.2 927.4v12.8M1736.6 1071v12.8M1744.3 1071.8v12.8M1902.1 1105.8v12.8M1834.3 1091v12.8M1617.8 1039.5v12.8M1422.9 975.9v12.8M1392.7 960.3v12.8M1633.8 1044.1v12.8M1621.7 1040.5v12.8M1342.5 910.6v12.8M1872.4 1100v12.8M1620.2 1040.5v12.8M1743.7 1071.8v12.8M1437.1 981.4v12.8M1452.4 985.2v12.8M1304.6 871.2v12.8M1515.6 1012.2v12.8M1467 992.3v12.8M1566.7 1028.2v12.8M1537.1 1018.1v12.8M1828.5 1090.1v12.8M1864.9 1095.4v12.8M1408.6 968.7v12.8M1549.4 1023.8v12.8M1402.9 965.8v12.8M1719.4 1069.3v12.8M1918 1109.9v12.8M1425.6 977.1v12.8M1785.2 1079.3v12.8M1488.1 1002.8v12.8M1305.4 871.2v12.8M1783.9 1079.3v12.8M1514.7 1011.3v12.8M1405.4 966.8v12.8M1574.5 1029.7v12.8M1444.6 983.2v12.8M1558.2 1026.6v12.8M1581.1 1031.3v12.8M1563.2 1026.6v12.8M1671.9 1059v12.8M1480.9 998.6v12.8M1357.6 927.4v12.8M1351.3 921.3v12.8M1364.9 933.8v12.8M1628.8 1042.4v12.8M1526.4 1014.2v12.8M1811.5 1087.2v12.8M1618.6 1039.5v12.8M1748.1 1072.3v12.8M1921.3 1110.3v12.8M1337.1 905.5v12.8M1307.8 873.5v12.8M1386.4 955.3v12.8M1543.1 1021.2v12.8M1662.4 1055.5v12.8M1770.8 1075.9v12.8M1520.9 1012.9v12.8M1911.7 1108.5v12.8M1298.9 868.9v12.8M1829.3 1090.1v12.8M1430.8 978.5v12.8M1854.5 1093.7v12.8M1318.1 882v12.8M1911.8 1108.5v12.8M1780.7 1078.1v12.8M1927.9 1111.1v12.8M1666.5 1056.9v12.8M1410.3 968.7v12.8M1914.8 1109.5v12.8M1578.3 1030.3v12.8M1350.1 919.5v12.8M1682.6 1062.7v12.8M1613.7 1038.2v12.8M1598.4 1034.7v12.8M1395.4 960.3v12.8M1374.7 944.5v12.8M1666.9 1057.4v12.8M1585.4 1031.6v12.8M1377.5 944.5v12.8M1577 1030.3v12.8M1759.2 1073v12.8M1752.8 1072.5v12.8M1597.2 1033.9v12.8M1547.8 1022.9v12.8M1526.8 1014.2v12.8M1440.7 982.2v12.8M1422.8 975.9v12.8M1581.2 1031.3v12.8M1365.9 936v12.8M1758.9 1073v12.8M1748.2 1072.3v12.8M1686.5 1063.6v12.8M1311.4 875.2v12.8M1528.9 1015.4v12.8M1572.5 1029.3v12.8M1356.5 921.3v12.8M1913.5 1109.2v12.8M1778.3 1078.1v12.8M1617.1 1039.5v12.8M1746.2 1072v12.8M1424.8 977.1v12.8M1443.1 982.2v12.8M1631.9 1043.2v12.8M1770.9 1075.9v12.8M1709.3 1068.5v12.8M1301.3 870v12.8M1687.6 1063.6v12.8M1875.9 1101.8v12.8M1770.5 1075.9v12.8M1887.9 1103.8v12.8M1922.4 1110.3v12.8M1439.5 982.2v12.8M1485.8 1001.3v12.8M1645.7 1048.7v12.8M1919.2 1109.9v12.8M1532.2 1015.9v12.8M1896.7 1105.8v12.8M1838.8 1091.5v12.8M1625.9 1040.5v12.8M1695.2 1065.6v12.8M1906.6 1107.9v12.8M1795.9 1082.3v12.8M1485.4 1001.3v12.8M1835.7 1091v12.8M1421.7 973.8v12.8M1532.7 1015.9v12.8M1907.6 1107.9v12.8M1836.6 1091v12.8M1495.7 1005.5v12.8M1482 999.9v12.8M1687.5 1063.6v12.8M1833.8 1091v12.8M1732.9 1070.8v12.8M1893.3 1105.2v12.8M1760.8 1073.6v12.8M1819.9 1088.9v12.8M1682.3 1062.7v12.8M1527.7 1014.2v12.8M1569.3 1029v12.8M1609.1 1037.1v12.8M1633.9 1044.1v12.8M1830.9 1090.1v12.8M1468.3 992.3v12.8M1340.7 909v12.8M1764 1074.4v12.8M1469.6 992.3v12.8M1564.4 1027.9v12.8M1371.6 939.8v12.8M1825.3 1089.6v12.8M1471.5 994.2v12.8M1482.8 999.9v12.8M1809.3 1086.3v12.8M1618.2 1039.5v12.8M1473.7 995.7v12.8M1862.9 1095.1v12.8M1559.3 1026.6v12.8M1527.2 1014.2v12.8M1912 1108.5v12.8M1800.3 1083.5v12.8M1773.1 1075.9v12.8M1456.2 987.3v12.8M1815.1 1088v12.8M1677 1060v12.8M1825.5 1089.6v12.8M1531.4 1015.9v12.8M1794.3 1082.3v12.8M1802.4 1084.4v12.8M1544.1 1021.2v12.8M1714 1068.7v12.8M1794 1082.3v12.8M1929.6 1111.1v12.8M1883.3 1103.1v12.8M1797.8 1083.1v12.8M1384.1 953v12.8M1685.8 1063.6v12.8M1733.4 1070.8v12.8M1352.4 921.3v12.8M1591.7 1033.4v12.8M1850.4 1093.4v12.8M1873.8 1100v12.8M1886.4 1103.8v12.8M1356 921.3v12.8M1683.7 1063.3v12.8M1848 1092.3v12.8M1712.8 1068.7v12.8M1500.8 1008v12.8M1321.7 887.1v12.8M1882.9 1103.1v12.8M1844.2 1092.3v12.8M1713.4 1068.7v12.8M1530.3 1015.9v12.8M1824.7 1089.6v12.8M1816 1088.3v12.8M1758.6 1073v12.8M1679 1060v12.8M1500.4 1008v12.8M1485.9 1001.3v12.8M1524.7 1014.2v12.8M1505.2 1009.2v12.8M1628.3 1042.4v12.8M1369.6 939.8v12.8M1756.5 1073v12.8M1518.7 1012.9v12.8M1398.8 963.7v12.8M1459.4 988.5v12.8M1545 1021.2v12.8M1571.7 1029.3v12.8M1795.3 1082.3v12.8M1360.6 930.7v12.8M1438.8 981.8v12.8M1483.7 999.9v12.8M1409.5 968.7v12.8M1774.4 1076.9v12.8M1366.4 936v12.8M1329.4 895.6v12.8M1651.1 1049.8v12.8M1765.9 1074.8v12.8M1822.6 1089.3v12.8M1653.4 1052.5v12.8M1505.1 1009.2v12.8M1858.8 1094.5v12.8M1765.9 1074.8v12.8M1602.1 1035.4v12.8M1655.5 1053.2v12.8M1893.3 1105.2v12.8M1932.3 1111.5v12.8M1890.2 1104.4v12.8M1381.5 951.4v12.8M1505.2 1009.2v12.8M1556.8 1026.2v12.8M1404.6 966.8v12.8M1782.4 1078.1v12.8M1335.8 902.1v12.8M1862.3 1095.1v12.8M1670 1057.4v12.8M1688 1063.6v12.8M1561.2 1026.6v12.8M1893.6 1105.2v12.8M1665.4 1056.9v12.8M1868.1 1097v12.8M1884.8 1103.1v12.8M1737.9 1071.3v12.8M1923.4 1110.3v12.8M1608.9 1037.1v12.8M1530.5 1015.9v12.8M1834.6 1091v12.8M1633.3 1044.1v12.8M1493.7 1005.5v12.8M1730.2 1070.3v12.8M1600.1 1034.7v12.8M1378.5 948.6v12.8M1830.7 1090.1v12.8M1615.5 1038.6v12.8M1915.9 1109.5v12.8M1636.9 1044.1v12.8M1893.8 1105.2v12.8M1481.2 998.6v12.8M1435.5 980.1v12.8M1632.4 1044.1v12.8M1785.4 1079.3v12.8M1822.4 1089.3v12.8M1709.4 1068.5v12.8M1376.2 944.5v12.8M1548 1022.9v12.8M1319.3 882v12.8M1533.6 1015.9v12.8M1898.8 1105.8v12.8M1518.1 1012.9v12.8M1742.2 1071.6v12.8M1692.9 1065.1v12.8M1388.2 957v12.8M1735.5 1071v12.8M1347.8 913.7v12.8M1414.6 971.5v12.8M1666.4 1056.9v12.8M1378.2 948.6v12.8M1911.4 1108.5v12.8M1568.1 1028.2v12.8M1698.5 1066.1v12.8M1911.8 1108.5v12.8M1365.8 936v12.8M1933.4 1111.5v12.8M1322.2 887.1v12.8M1680 1061.8v12.8M1714.8 1068.7v12.8M1925 1110.7v12.8M1525.1 1014.2v12.8M1900.1 1105.8v12.8M1711.2 1068.5v12.8M1600.6 1034.7v12.8M1405.1 966.8v12.8" fill="none" stroke="#69759C" stroke-width="1.7"/>
<path d="M1591.9 1035.2v9.2M1534.8 1017.7v9.2M1385.2 957.1v9.2M1849 1095v9.2M1301.1 871.8v9.2M1617.3 1041.3v9.2M1869.2 1100v9.2M1348.5 919.3v9.2M1650.1 1051.6v9.2M1689.8 1066.4v9.2M1323.1 888.9v9.2M1538.4 1019.9v9.2M1745.1 1073.8v9.2M1584.9 1033.4v9.2M1758.9 1074.8v9.2M1397.1 962.1v9.2M1448.6 986v9.2M1367.7 939.7v9.2M1619.5 1041.3v9.2M1885.5 1104.9v9.2M1673.1 1060.8v9.2M1790.2 1082.7v9.2M1541.4 1022.4v9.2M1772.3 1077.7v9.2M1361.8 932.5v9.2M1482.5 1001.7v9.2M1726.5 1072v9.2M1759.3 1074.8v9.2M1565.7 1030v9.2M1352.9 923.1v9.2M1466.9 994.1v9.2M1430.7 980.3v9.2M1476.1 997.5v9.2M1812.7 1089.5v9.2M1424.1 977.7v9.2M1861.6 1096.9v9.2M1857.2 1096.3v9.2M1331.9 902.3v9.2M1538.3 1019.9v9.2M1610.2 1038.9v9.2M1312 877v9.2M1567.6 1030v9.2M1874.4 1101.8v9.2M1368.4 939.7v9.2M1677.2 1061.8v9.2M1374.2 946.3v9.2M1665.6 1058.7v9.2M1867.3 1098.8v9.2M1426.3 978.9v9.2M1302.3 871.8v9.2M1350.2 921.3v9.2M1640.8 1048.9v9.2M1308.1 875.3v9.2M1351 921.3v9.2M1613.4 1040v9.2M1883.6 1104.9v9.2M1564.6 1029.7v9.2M1550.6 1025.6v9.2M1703.9 1068.9v9.2M1356.5 923.1v9.2M1666.3 1058.7v9.2M1406.9 969.4v9.2M1684.9 1065.1v9.2M1907.5 1109.7v9.2M1331.5 902.3v9.2M1650.6 1051.6v9.2M1683.3 1064.5v9.2M1392.1 961.2v9.2M1467.9 994.1v9.2M1930.7 1113.3v9.2M1932.7 1113.3v9.2M1374.3 946.3v9.2M1746.4 1073.8v9.2M1902.7 1107.6v9.2M1447.8 986v9.2M1686.3 1065.4v9.2M1324.4 893.7v9.2M1530.1 1017.7v9.2M1726.4 1072v9.2M1673 1060.8v9.2M1790.4 1082.7v9.2M1352.3 923.1v9.2M1518.2 1014.7v9.2M1847.4 1094.1v9.2M1669.1 1059.2v9.2M1584.5 1033.4v9.2M1553.2 1026.8v9.2M1925.1 1112.5v9.2M1662.9 1057.3v9.2M1308.7 875.3v9.2M1806.2 1086.2v9.2M1506.4 1011.7v9.2M1573.2 1031.5v9.2M1433 981.9v9.2M1579.8 1032.7v9.2M1503.8 1011v9.2M1353.6 923.1v9.2M1698 1067.9v9.2M1362.7 932.5v9.2M1796.5 1084.9v9.2M1313.2 877v9.2M1794.3 1084.1v9.2M1811.4 1089v9.2M1613.8 1040v9.2M1748.9 1074.1v9.2M1455.1 988v9.2M1766.9 1076.6v9.2M1567.7 1030v9.2M1444.1 985v9.2M1911.1 1110.3v9.2M1552.4 1026.8v9.2M1534.6 1017.7v9.2M1844.8 1094.1v9.2M1532.3 1017.7v9.2M1722.2 1071.5v9.2M1406 969.4v9.2M1834.2 1092.8v9.2M1461.9 990.3v9.2M1329.2 897.4v9.2M1918.2 1111.7v9.2M1407 969.4v9.2M1899.9 1107.6v9.2M1925.2 1112.5v9.2M1683.4 1064.5v9.2M1304.6 873v9.2M1335.8 903.9v9.2M1429.9 980.3v9.2M1544.7 1023v9.2M1686.6 1065.4v9.2M1912.6 1110.3v9.2M1522.8 1014.7v9.2M1386.6 957.1v9.2M1655 1055v9.2M1384.5 954.8v9.2M1352.2 923.1v9.2M1651.1 1051.6v9.2M1740.3 1073.2v9.2M1338.8 907.3v9.2M1584.5 1033.4v9.2M1745.3 1073.8v9.2" fill="none" stroke="#69759C" stroke-width="1.7"/>
<path d="M1298 910.8v12M1307 967.6v12M1311 981.8v12M1326 1058.3v12M1354 1171.9v12M1417 1265.6v12M1605.7 1315.4v12M1663.2 1315.4v12M1852 1321.4h8" fill="none" stroke="#F6CCE0" stroke-width="1.6"/>
<path d="M1322 890.9v12M1347 974.7v12M1368 1008.8v12M1372 1008.8v12M1404 1075.3v12M1455 1144.9v12M1497.1 1183.2v12M1512 1197.3v12M1526.9 1207.2v12M1536.9 1207.2v12M1539.7 1207.2v12M1574.5 1217.8v12M1594.4 1222.8v12M1601.5 1222.8v12M1607.2 1222.8v12M1651.9 1242v12M1719.3 1263.3v12M1754.5 1263.3v12M1772.5 1263.3v12M1834 1273.5v12M1865 1273.5v12M1887 1273.5v12M1930 1273.5v12" fill="none" stroke="#AE90B8" stroke-width="1.8"/>
<line x1="1269.8" y1="1110.6" x2="1881" y2="1110.6" stroke="#000" stroke-width="4.3" stroke-dasharray="14.1 13.9"/>
<line x1="1331.3" y1="1345.5" x2="1331.3" y2="1110.6" stroke="#000" stroke-width="4.3" stroke-dasharray="14 14"/>
<line x1="1424" y1="1345.5" x2="1424" y2="1110.6" stroke="#000" stroke-width="4.3" stroke-dasharray="14 14"/>
<line x1="1880.8" y1="1345.5" x2="1880.8" y2="1110.6" stroke="#000" stroke-width="4.3" stroke-dasharray="14 14"/>
<path d="M1238.4 851.8V1368.5H1934" fill="none" stroke="#000" stroke-width="4.2"/>
<line x1="1233.3" y1="875.1" x2="1236.6" y2="875.1" stroke="#222" stroke-width="3.2"/>
<text x="1228.8" y="881.7" font-size="26" text-anchor="end">1.00</text>
<line x1="1233.3" y1="992.6" x2="1236.6" y2="992.6" stroke="#222" stroke-width="3.2"/>
<text x="1228.8" y="999.2" font-size="26" text-anchor="end">0.75</text>
<line x1="1233.3" y1="1110.1" x2="1236.6" y2="1110.1" stroke="#222" stroke-width="3.2"/>
<text x="1228.8" y="1116.7" font-size="26" text-anchor="end">0.50</text>
<line x1="1233.3" y1="1227.6" x2="1236.6" y2="1227.6" stroke="#222" stroke-width="3.2"/>
<text x="1228.8" y="1234.2" font-size="26" text-anchor="end">0.25</text>
<line x1="1233.3" y1="1345.1" x2="1236.6" y2="1345.1" stroke="#222" stroke-width="3.2"/>
<text x="1228.8" y="1351.7" font-size="26" text-anchor="end">0.00</text>
<line x1="1269.2" y1="1370" x2="1269.2" y2="1373.5" stroke="#222" stroke-width="3.2"/>
<text x="1268.7" y="1396.4" font-size="26" text-anchor="middle">0</text>
<line x1="1395.8" y1="1370" x2="1395.8" y2="1373.5" stroke="#222" stroke-width="3.2"/>
<text x="1395.3" y="1396.4" font-size="26" text-anchor="middle">12</text>
<line x1="1522.4" y1="1370" x2="1522.4" y2="1373.5" stroke="#222" stroke-width="3.2"/>
<text x="1521.9" y="1396.4" font-size="26" text-anchor="middle">24</text>
<line x1="1649" y1="1370" x2="1649" y2="1373.5" stroke="#222" stroke-width="3.2"/>
<text x="1648.5" y="1396.4" font-size="26" text-anchor="middle">36</text>
<line x1="1775.6" y1="1370" x2="1775.6" y2="1373.5" stroke="#222" stroke-width="3.2"/>
<text x="1775.1" y="1396.4" font-size="26" text-anchor="middle">48</text>
<line x1="1902.2" y1="1370" x2="1902.2" y2="1373.5" stroke="#222" stroke-width="3.2"/>
<text x="1901.7" y="1396.4" font-size="26" text-anchor="middle">60</text>
<text x="1587.2" y="1424.7" font-size="31.7" font-weight="bold" text-anchor="middle">Time (month)</text>
<text transform="translate(1164 1110) rotate(-90)" font-size="32" font-weight="bold" text-anchor="middle">Recurrence free survival probability</text>
<text x="1756.6" y="910" font-size="25.9">DCP trajectories</text>
<rect x="1754.8" y="927.4" width="24.8" height="24.6" fill="#69759C" fill-opacity="0.32"/>
<line x1="1757" y1="939.7" x2="1777.4" y2="939.7" stroke="#69759C" stroke-width="6.6"/>
<line x1="1767.2" y1="933.7" x2="1767.2" y2="945.7" stroke="#69759C" stroke-width="1.8"/>
<text x="1784.3" y="944.1" font-size="25.8">Stable</text>
<rect x="1754.8" y="954.4" width="24.8" height="24.6" fill="#F6CCE0" fill-opacity="0.32"/>
<line x1="1757" y1="966.7" x2="1777.4" y2="966.7" stroke="#F6CCE0" stroke-width="6.6"/>
<line x1="1767.2" y1="960.7" x2="1767.2" y2="972.7" stroke="#F6CCE0" stroke-width="1.8"/>
<text x="1784.3" y="972.8" font-size="25.8">Rapid rising</text>
<rect x="1754.8" y="981.3" width="24.8" height="24.6" fill="#AE90B8" fill-opacity="0.32"/>
<line x1="1757" y1="993.6" x2="1777.4" y2="993.6" stroke="#AE90B8" stroke-width="6.6"/>
<line x1="1767.2" y1="987.6" x2="1767.2" y2="999.6" stroke="#AE90B8" stroke-width="1.8"/>
<text x="1784.3" y="1001.3" font-size="25.8">Slow rising</text>
<text x="1756.6" y="1041.5" font-size="26"><tspan font-style="italic">P</tspan> = 4.18 × 10<tspan font-size="18" dy="-11">-69</tspan></text>
<text x="1275" y="1459.4" font-size="25.2">Number at risk</text>
<text x="1144.3" y="1496" font-size="25.2">Stable</text>
<text x="1144.3" y="1527" font-size="25.2">Rapid rising</text>
<text x="1144.3" y="1557" font-size="25.2">Slow rising</text>
<path d="M1274.1 1473.7V1570.8H1929.2" fill="none" stroke="#000" stroke-width="4.2"/>
<text x="1307.5" y="1499.4" font-size="25.2" text-anchor="middle">853</text>
<text x="1426.4" y="1499.4" font-size="25.2" text-anchor="middle">635</text>
<text x="1545.8" y="1499.4" font-size="25.2" text-anchor="middle">427</text>
<text x="1665.2" y="1499.4" font-size="25.2" text-anchor="middle">284</text>
<text x="1784.6" y="1499.4" font-size="25.2" text-anchor="middle">182</text>
<text x="1901.6" y="1499.4" font-size="25.2" text-anchor="middle">83</text>
<text x="1307.5" y="1529.4" font-size="25.2" text-anchor="middle">80</text>
<text x="1426.4" y="1529.4" font-size="25.2" text-anchor="middle">14</text>
<text x="1545.8" y="1529.4" font-size="25.2" text-anchor="middle">7</text>
<text x="1665.2" y="1529.4" font-size="25.2" text-anchor="middle">2</text>
<text x="1784.6" y="1529.4" font-size="25.2" text-anchor="middle">1</text>
<text x="1901.6" y="1529.4" font-size="25.2" text-anchor="middle">0</text>
<text x="1307.5" y="1559.3" font-size="25.2" text-anchor="middle">141</text>
<text x="1426.4" y="1559.3" font-size="25.2" text-anchor="middle">78</text>
<text x="1545.8" y="1559.3" font-size="25.2" text-anchor="middle">28</text>
<text x="1665.2" y="1559.3" font-size="25.2" text-anchor="middle">15</text>
<text x="1784.6" y="1559.3" font-size="25.2" text-anchor="middle">7</text>
<text x="1901.6" y="1559.3" font-size="25.2" text-anchor="middle">4</text>
<line x1="1304.6" y1="1572" x2="1304.6" y2="1575.5" stroke="#444" stroke-width="3"/>
<text x="1303.2" y="1600.7" font-size="25.2" text-anchor="middle">0</text>
<line x1="1425.4" y1="1572" x2="1425.4" y2="1575.5" stroke="#444" stroke-width="3"/>
<text x="1424" y="1600.7" font-size="25.2" text-anchor="middle">12</text>
<line x1="1544.4" y1="1572" x2="1544.4" y2="1575.5" stroke="#444" stroke-width="3"/>
<text x="1543" y="1600.7" font-size="25.2" text-anchor="middle">24</text>
<line x1="1663.3" y1="1572" x2="1663.3" y2="1575.5" stroke="#444" stroke-width="3"/>
<text x="1661.9" y="1600.7" font-size="25.2" text-anchor="middle">36</text>
<line x1="1782.7" y1="1572" x2="1782.7" y2="1575.5" stroke="#444" stroke-width="3"/>
<text x="1781.3" y="1600.7" font-size="25.2" text-anchor="middle">48</text>
<line x1="1902.6" y1="1572" x2="1902.6" y2="1575.5" stroke="#444" stroke-width="3"/>
<text x="1901.2" y="1597.4" font-size="25.2" text-anchor="middle">60</text>
<text x="1587.2" y="1626.9" font-size="31.7" font-weight="bold" text-anchor="middle">Time (month)</text>
</g>
<g id="panel-e">
<text x="8" y="1688" font-size="33" font-weight="bold" fill="#1a1311">e</text>
<path d="M104.7 1753.8C106.5 1758.8 111.8 1774.1 115.4 1783.9C118.9 1793.7 122.4 1803 126.1 1812.4C129.7 1821.8 133.5 1831.2 137.2 1840.2C140.9 1849.2 144.6 1857.9 148.3 1866.3C152 1874.7 155.7 1882.8 159.4 1890.6C163.1 1898.4 166.8 1905.9 170.5 1913.1C174.2 1920.3 177.9 1927.2 181.6 1933.7C185.3 1940.3 189 1946.6 192.7 1952.5C196.4 1958.5 200.1 1964.2 203.8 1969.5C207.6 1974.8 211.3 1979.9 215 1984.6C218.7 1989.3 222.4 1993.7 226.1 1997.8C229.8 2001.9 233.5 2005.6 237.2 2009.1C240.9 2012.6 244.6 2015.7 248.3 2018.5C252 2021.4 255.7 2023.9 259.4 2026.1C263.1 2028.3 266.8 2030.1 270.5 2031.7C274.2 2033.3 278 2034.6 281.7 2035.6C285.4 2036.6 289.1 2037.4 292.8 2038C296.5 2038.5 300.2 2038.9 303.9 2039.1C307.6 2039.2 311.3 2039.2 315 2039.1C318.7 2039 322.4 2038.7 326.1 2038.4C329.8 2038 333.5 2037.6 337.2 2037.1C340.9 2036.6 344.6 2036 348.4 2035.4C352.1 2034.8 355.8 2034.1 359.5 2033.4C363.2 2032.7 366.7 2031.9 370.6 2031.1C374.4 2030.3 378.4 2029.6 382.6 2028.5C386.7 2027.5 391.4 2026.4 395.4 2025C399.5 2023.6 403.3 2022 406.9 2020.1C410.4 2018.2 413.5 2016.3 416.9 2013.8C420.3 2011.3 423.8 2008.4 427.4 2005.1C431 2001.9 434.8 1998 438.5 1994.1C442.2 1990.1 445.9 1985.8 449.6 1981.4C453.3 1976.9 457 1972.2 460.7 1967.4C464.4 1962.6 468.1 1957.6 471.8 1952.6C475.5 1947.5 479.2 1942.3 482.9 1937.2C486.6 1932.1 490.3 1926.9 494 1921.9C497.8 1916.8 501.5 1911.8 505.2 1907C508.9 1902.2 512.6 1897.5 516.3 1893.2C520 1888.9 523.7 1884.7 527.4 1880.9C531.1 1877.2 534.8 1873.8 538.5 1870.8C542.2 1867.8 545.9 1865.3 549.6 1863.2C553.3 1861 557 1859.3 560.7 1857.9C564.4 1856.4 568.2 1855.4 571.9 1854.5C575.6 1853.7 579.3 1853.2 583 1852.8C586.7 1852.3 590.4 1852.2 594.1 1852.1C597.8 1852 601.5 1852.1 605.2 1852.1C608.9 1852.2 612.6 1852.4 616.3 1852.5C620 1852.6 623.7 1852.8 627.4 1852.8C631.1 1852.8 634.9 1852.8 638.5 1852.6C642.2 1852.3 646.3 1851.9 649.6 1851.5C652.8 1851 655.1 1850.5 657.9 1849.8C660.6 1849.1 664.8 1847.6 666.2 1847.2L666.2 2062.4C664.6 2062.2 659.7 2061.6 656.5 2061.2C653.3 2060.9 650.5 2060.6 646.9 2060.5C643.2 2060.3 638.7 2060.1 634.6 2060.1C630.4 2060.1 626.3 2060.2 622.1 2060.5C618 2060.7 613.8 2061.1 609.7 2061.7C605.5 2062.3 601.4 2063 597.2 2063.9C593.1 2064.8 588.9 2065.8 584.8 2067.1C580.6 2068.3 576.5 2069.7 572.3 2071.4C568.2 2073 564 2074.8 559.9 2076.8C555.7 2078.9 551.6 2081.1 547.4 2083.6C543.3 2086.2 539.1 2088.9 535 2092.1C530.9 2095.2 526.7 2098.6 522.6 2102.5C518.4 2106.3 514.3 2110.6 510.1 2115.2C506 2119.7 501.8 2124.7 497.7 2129.7C493.5 2134.8 489.4 2140.1 485.2 2145.4C481.1 2150.7 476.9 2156.1 472.8 2161.3C468.6 2166.5 464.5 2171.8 460.3 2176.6C456.2 2181.5 452 2186.2 447.9 2190.5C443.7 2194.7 439.6 2198.6 435.4 2202.1C431.3 2205.5 426.8 2208.7 423 2211.1C419.2 2213.6 415.8 2215.2 412.7 2216.8C409.6 2218.4 407.4 2219.3 404.5 2220.4C401.5 2221.6 398.4 2222.8 395.1 2223.9C391.7 2224.9 387.8 2226 384.2 2226.9C380.5 2227.8 376.8 2228.5 373 2229.1C369.3 2229.7 365.7 2230.2 361.6 2230.6C357.6 2231 353.5 2231.2 348.8 2231.4C344.1 2231.5 338.7 2231.5 333.4 2231.4C328 2231.2 322.8 2230.9 316.9 2230.5C310.9 2230.1 304 2229.5 297.9 2228.8C291.7 2228.1 285.4 2227.3 279.9 2226.5C274.4 2225.8 270 2225 265 2224.2C259.9 2223.4 255 2222.5 249.6 2221.5C244.2 2220.5 238.3 2219.4 232.7 2218.2C227 2217.1 221.3 2215.9 215.7 2214.7C210 2213.5 204.4 2212.2 198.7 2211C193.1 2209.7 187.4 2208.4 181.8 2207.1C176.1 2205.9 170.5 2204.6 164.8 2203.3C159.1 2202 154.1 2200.9 147.6 2199.4C141 2198 132.9 2196.2 125.6 2194.7C118.2 2193.2 107.2 2191.1 103.5 2190.4Z" fill="#CFCFCF"/>
<path d="M105.2 1972.4C106.9 1975.3 112.2 1983.9 115.7 1989.5C119.2 1995 122.7 2000.2 126.3 2005.6C129.9 2010.9 133.7 2016.3 137.4 2021.4C141.1 2026.6 145.2 2032.1 148.5 2036.3C151.8 2040.6 154.2 2043.6 157 2047.1C159.8 2050.5 162.1 2053.3 165.3 2056.9C168.5 2060.5 172.4 2065 176.1 2068.8C179.7 2072.7 183.5 2076.5 187.2 2080.1C190.9 2083.7 194.6 2087.1 198.3 2090.4C202 2093.7 205.7 2096.7 209.4 2099.6C213.1 2102.6 216.8 2105.3 220.5 2107.9C224.2 2110.4 227.9 2112.8 231.6 2115.1C235.4 2117.3 239.1 2119.4 242.8 2121.3C246.5 2123.2 250.2 2124.9 253.9 2126.4C257.6 2128 261.3 2129.4 265 2130.6C268.7 2131.9 272.4 2132.9 276.1 2133.9C279.8 2134.8 283.5 2135.6 287.2 2136.2C290.9 2136.9 294.6 2137.4 298.3 2137.7C302 2138.1 305.7 2138.3 309.4 2138.4C313.1 2138.5 316.8 2138.5 320.5 2138.4C324.2 2138.3 327.9 2138 331.6 2137.7C335.4 2137.3 339.1 2136.8 342.8 2136.3C346.5 2135.7 350.2 2135.1 353.9 2134.3C357.6 2133.6 361.5 2132.7 365 2131.8C368.5 2130.9 371.8 2130 374.9 2129.1C378.1 2128.2 380.6 2127.5 383.8 2126.4C387.1 2125.4 390.5 2124.2 394.3 2122.7C398.1 2121.2 402.6 2119.3 406.6 2117.4C410.5 2115.4 414.3 2113.2 417.8 2110.9C421.3 2108.7 424.4 2106.4 427.8 2103.7C431.2 2100.9 434.6 2097.9 438.2 2094.4C441.8 2090.9 445.6 2086.9 449.3 2082.8C453 2078.7 456.7 2074.3 460.4 2069.8C464.2 2065.3 467.9 2060.6 471.6 2055.9C475.3 2051.2 479 2046.3 482.7 2041.5C486.4 2036.8 490.1 2032 493.8 2027.4C497.5 2022.7 501.2 2018.2 504.9 2013.9C508.6 2009.6 512.3 2005.4 516 2001.6C519.7 1997.8 523.4 1994.2 527.1 1991C530.8 1987.7 534.5 1984.7 538.2 1982C541.9 1979.3 545.6 1976.9 549.3 1974.7C553 1972.4 556.7 1970.5 560.4 1968.7C564.2 1966.9 567.9 1965.4 571.6 1964C575.3 1962.7 579 1961.5 582.7 1960.5C586.4 1959.5 590.1 1958.7 593.8 1958.1C597.5 1957.4 601.2 1956.9 604.9 1956.4C608.6 1956 612.3 1955.7 616 1955.5C619.7 1955.2 623.4 1955.1 627.1 1955C630.8 1954.9 634.1 1954.8 638.3 1954.8C642.5 1954.7 647.6 1954.7 652.3 1954.7C656.9 1954.6 663.9 1954.4 666.2 1954.3" fill="none" stroke="#69759C" stroke-width="6.6"/>
<line x1="159.2" y1="2047" x2="153.3" y2="2414" stroke="#6878A8" stroke-width="1.8"/>
<line x1="274.6" y1="2137.3" x2="274.2" y2="2414" stroke="#6878A8" stroke-width="1.8"/>
<line x1="426.5" y1="2114.4" x2="426.6" y2="2414" stroke="#6878A8" stroke-width="1.8"/>
<line x1="587.2" y1="1965.6" x2="587.3" y2="2414" stroke="#6878A8" stroke-width="1.8"/>
<line x1="159.7" y1="2046.4" x2="265.7" y2="2124.8" stroke="#1a1a1a" stroke-width="2"/>
<path d="M275.7 2132.2L262.9 2128.5L268.4 2121Z" fill="#1a1a1a"/>
<line x1="275.7" y1="2132.2" x2="414.6" y2="2110.2" stroke="#1a1a1a" stroke-width="2"/>
<path d="M426.9 2108.2L415.3 2114.8L413.8 2105.5Z" fill="#1a1a1a"/>
<line x1="426.9" y1="2108.2" x2="580.2" y2="1968.9" stroke="#1a1a1a" stroke-width="2"/>
<path d="M589.5 1960.5L583.4 1972.4L577.1 1965.4Z" fill="#1a1a1a"/>
<text x="212.3" y="2069" font-size="25.4" fill="#231815">Rate<tspan font-size="15">1</tspan></text>
<text x="322.2" y="2100.2" font-size="25.4" fill="#231815">Rate<tspan font-size="15">2</tspan></text>
<text x="495.6" y="2069" font-size="25.4" fill="#231815">Rate<tspan font-size="15">3</tspan></text>
<path d="M103 1720.6V2414.9H660.2" fill="none" stroke="#000" stroke-width="3.6"/>
<line x1="99.3" y1="1727.3" x2="101.6" y2="1727.3" stroke="#222" stroke-width="3.8"/>
<text x="95.8" y="1737.6" font-size="25.9" fill="#231815" text-anchor="end">1.450</text>
<line x1="99.3" y1="1857.5" x2="101.6" y2="1857.5" stroke="#222" stroke-width="3.8"/>
<text x="95.8" y="1867.8" font-size="25.9" fill="#231815" text-anchor="end">1.425</text>
<line x1="99.3" y1="1987.8" x2="101.6" y2="1987.8" stroke="#222" stroke-width="3.8"/>
<text x="95.8" y="1998.1" font-size="25.9" fill="#231815" text-anchor="end">1.400</text>
<line x1="99.3" y1="2118.1" x2="101.6" y2="2118.1" stroke="#222" stroke-width="3.8"/>
<text x="95.8" y="2128.4" font-size="25.9" fill="#231815" text-anchor="end">1.375</text>
<line x1="99.3" y1="2248.3" x2="101.6" y2="2248.3" stroke="#222" stroke-width="3.8"/>
<text x="95.8" y="2258.6" font-size="25.9" fill="#231815" text-anchor="end">1.350</text>
<line x1="99.3" y1="2378.6" x2="101.6" y2="2378.6" stroke="#222" stroke-width="3.8"/>
<text x="95.8" y="2388.9" font-size="25.9" fill="#231815" text-anchor="end">1.325</text>
<text x="104.4" y="2445.1" font-size="26" fill="#231815" text-anchor="middle">0</text>
<text x="153.3" y="2445.1" font-size="26" fill="#231815" text-anchor="middle">1.2</text>
<text x="271.3" y="2445.1" font-size="26" fill="#231815" text-anchor="middle">3.6</text>
<text x="426.6" y="2445.1" font-size="26" fill="#231815" text-anchor="middle">6.7</text>
<text x="579.9" y="2445.1" font-size="26" fill="#231815" text-anchor="middle">10.0</text>
<text x="384.6" y="2489.8" font-size="32.8" font-weight="bold" fill="#231815" text-anchor="middle">Time (month)</text>
<text transform="translate(24 2061.5) rotate(-90)" font-size="33.2" font-weight="bold" text-anchor="middle">logDCP</text>
</g>
<g id="panel-f">
<text x="717" y="1689" font-size="33" font-weight="bold" fill="#1a1311">f</text>
<path d="M818.4 1736.6L836 1736.6L836 1736.6L838.1 1736.6L838.1 1738.4L839.9 1738.4L839.9 1739.9L843.5 1739.9L843.5 1742.9L845.4 1742.9L845.4 1745.4L849.5 1745.4L849.5 1750.8L851.1 1750.8L851.1 1753L854.5 1753L854.5 1758.7L856.2 1758.7L856.2 1761.5L858.7 1761.5L858.7 1765.5L861.4 1765.5L861.4 1770.1L863.3 1770.1L863.3 1773.2L866.2 1773.2L866.2 1778.1L869.6 1778.1L869.6 1785L871.5 1785L871.5 1788.7L873.8 1788.7L873.8 1793.2L877.5 1793.2L877.5 1798.3L879.2 1798.3L879.2 1800.5L881.3 1800.5L881.3 1803.3L884.2 1803.3L884.2 1807.2L887 1807.2L887 1810.9L888.9 1810.9L888.9 1813.4L890.7 1813.4L890.7 1815.8L892 1815.8L892 1817.5L896.4 1817.5L896.4 1823.5L898.3 1823.5L898.3 1825L901.7 1825L901.7 1827.8L904 1827.8L904 1829.8L907.6 1829.8L907.6 1832.8L909 1832.8L909 1833.9L911.5 1833.9L911.5 1836.1L913 1836.1L913 1837L917 1837L917 1839.7L919.1 1839.7L919.1 1841.1L920.5 1841.1L920.5 1842.2L924.9 1842.2L924.9 1845.9L926.6 1845.9L926.6 1847.4L928.7 1847.4L928.7 1848.8L932.3 1848.8L932.3 1851.2L934.2 1851.2L934.2 1852.4L938.2 1852.4L938.2 1854.4L939.5 1854.4L939.5 1855.1L941.8 1855.1L941.8 1856.2L943.5 1856.2L943.5 1857.4L946.8 1857.4L946.8 1859.6L949.3 1859.6L949.3 1861.2L951 1861.2L951 1862.4L955.3 1862.4L955.3 1865.2L956.9 1865.2L956.9 1866.3L960.7 1866.3L960.7 1868.9L963.1 1868.9L963.1 1870.4L964.4 1870.4L964.4 1871.3L965.9 1871.3L965.9 1872.3L968.1 1872.3L968.1 1873.8L972 1873.8L972 1876.4L975.5 1876.4L975.5 1878.1L976.8 1878.1L976.8 1878.8L979.5 1878.8L979.5 1880.1L980 1880.1L980 1882.6L982.7 1882.6L982.7 1884L988.5 1884L988.5 1886.9L990.3 1886.9L990.3 1887.8L992.6 1887.8L992.6 1888.9L995.1 1888.9L995.1 1890.4L997.6 1890.4L997.6 1892L1001.5 1892L1001.5 1894.3L1005.2 1894.3L1005.2 1896.5L1009.3 1896.5L1009.3 1898.2L1011.4 1898.2L1011.4 1899L1014.1 1899L1014.1 1900.1L1017.8 1900.1L1017.8 1901.5L1019.5 1901.5L1019.5 1901.9L1021.8 1901.9L1021.8 1902.3L1025 1902.3L1025 1903L1030.4 1903L1030.4 1904.1L1034.6 1904.1L1034.6 1904.9L1036.4 1904.9L1036.4 1905.3L1039.7 1905.3L1039.7 1905.9L1043 1905.9L1043 1906.6L1047.9 1906.6L1047.9 1908.1L1050.8 1908.1L1050.8 1908.9L1053.2 1908.9L1053.2 1909.6L1055.5 1909.6L1055.5 1910.3L1058 1910.3L1058 1911.3L1060.7 1911.3L1060.7 1912.4L1064.4 1912.4L1064.4 1913.9L1068.1 1913.9L1068.1 1915.4L1070 1915.4L1070 1916.3L1071.7 1916.3L1071.7 1917.2L1078.3 1917.2L1078.3 1920.5L1080.7 1920.5L1080.7 1921.7L1083 1921.7L1083 1923L1088.6 1923L1088.6 1926.4L1091 1926.4L1091 1927.8L1093.3 1927.8L1093.3 1929.2L1095.7 1929.2L1095.7 1929.9L1100.6 1929.9L1100.6 1931.4L1103.6 1931.4L1103.6 1932.3L1105.9 1932.3L1105.9 1933L1111.3 1933L1111.3 1934.1L1113.2 1934.1L1113.2 1934.5L1115.4 1934.5L1115.4 1934.9L1118.5 1934.9L1118.5 1935.5L1122.7 1935.5L1122.7 1936L1127 1936L1127 1936.4L1129.3 1936.4L1129.3 1936.6L1131.1 1936.6L1131.1 1936.8L1134.2 1936.8L1134.2 1937.1L1137 1937.1L1137 1937.4L1140.4 1937.4L1140.4 1937.7L1143.7 1937.7L1143.7 1938L1147.8 1938L1147.8 1939.7L1149.7 1939.7L1149.7 1940.4L1152.7 1940.4L1152.7 1941.6L1156.3 1941.6L1156.3 1943.1L1159.2 1943.1L1159.2 1944.5L1161.2 1944.5L1161.2 1945.5L1167.1 1945.5L1167.1 1948.5L1168.9 1948.5L1168.9 1949.4L1172.2 1949.4L1172.2 1950.7L1176.3 1950.7L1176.3 1952.4L1179.2 1952.4L1179.2 1953.5L1181.5 1953.5L1181.5 1954.4L1185.1 1954.4L1185.1 1955L1187 1955L1187 1955.3L1192 1955.3L1192 1956.1L1194.1 1956.1L1194.1 1956.4L1200.2 1956.4L1200.2 1956.7L1201.9 1956.7L1201.9 1956.7L1204.3 1956.7L1204.3 1956.8L1206.6 1956.8L1206.6 1956.9L1208.4 1956.9L1208.4 1957.1L1210.8 1957.1L1210.8 1957.4L1212.7 1957.4L1212.7 1957.5L1219.2 1957.5L1219.2 1958.2L1221.2 1958.2L1221.2 1958.6L1223.5 1958.6L1223.5 1959.1L1228.2 1959.1L1228.2 1960L1231.8 1960L1231.8 1960.7L1234.4 1960.7L1234.4 1961.2L1236.5 1961.2L1236.5 1961.6L1240.1 1961.6L1240.1 1962.4L1244.4 1962.4L1244.4 1963.2L1247.4 1963.2L1247.4 1963.8L1249.6 1963.8L1249.6 1964.3L1253.4 1964.3L1253.4 1965L1257 1965L1257 1965.7L1259.1 1965.7L1259.1 1966.4L1263.2 1966.4L1263.2 1967.8L1266.9 1967.8L1266.9 1969L1268.3 1969L1268.3 1969.5" fill="none" stroke="#F6CCE0" stroke-width="6.6" stroke-linejoin="round"/>
<path d="M1059 1904.8v13M848.1 1738.9v13M1174.5 1944.2v13M911.8 1829.6v13M1137.1 1930.9v13M835.7 1730.1v13M951.4 1855.9v13M1078 1910.7v13M1131.7 1930.3v13M1224.6 1952.6v13M1013 1892.5v13M951.3 1855.9v13M985.8 1877.5v13M1156.3 1936.6v13M1187.2 1948.8v13M914.9 1830.5v13M1151.6 1933.9v13M990.8 1881.3v13M932.1 1842.3v13M1158.4 1936.6v13M945.1 1850.9v13M1069 1908.9v13M948.1 1853.1v13M951.7 1855.9v13M906.4 1823.3v13M1200.4 1950.2v13M1180.7 1947v13M1161 1938v13M1123.3 1929.5v13M1074.1 1910.7v13M1067 1907.4v13M1110.3 1926.5v13M1024.5 1895.8v13M878.4 1791.8v13M958 1859.8v13M975.4 1869.9v13M1105.8 1925.8v13M1200 1949.9v13M1037 1898.8v13M1007.6 1890v13M990.9 1881.3v13M1084.6 1916.5v13M1132.8 1930.3v13M1062.8 1905.9v13M950.3 1854.7v13M1195.2 1949.9v13M854.4 1746.5v13M971.7 1867.3v13M841.4 1733.4v13M951.1 1855.9v13M1101.1 1924.9v13M1117.5 1928.4v13M972.7 1869.9v13M977.5 1872.3v13M1098.1 1923.4v13M1134.7 1930.6v13M852.2 1746.5v13M1139.7 1930.9v13M1038.9 1898.8v13M1022.3 1895.8v13M1062.7 1905.9v13M913.3 1830.5v13M1077.3 1910.7v13M894.6 1811v13M1134.8 1930.6v13M1252.4 1957.8v13M1106.6 1926.5v13M1000.5 1885.5v13M1188.7 1948.8v13M1229.1 1953.5v13M1189 1948.8v13M1109.3 1926.5v13M983.8 1877.5v13M965.4 1864.8v13M1250.4 1957.8v13M997.3 1883.9v13M951.7 1855.9v13M1134.2 1930.6v13M970.3 1867.3v13M1242.6 1955.9v13M1095.4 1922.7v13M902.9 1821.3v13M1132.3 1930.3v13M1098.6 1923.4v13M869.3 1771.6v13M1074.3 1910.7v13M1169.1 1942.9v13M857.9 1755v13M1262 1959.9v13M1212.2 1950.9v13M1010.4 1891.7v13M1265.6 1961.3v13M1241 1955.9v13M845 1736.4v13M847.8 1738.9v13M1100.2 1923.4v13M946.7 1850.9v13M1066.7 1907.4v13M945.5 1850.9v13M965.6 1864.8v13M889.3 1806.9v13M949.5 1854.7v13M1028.1 1896.5v13M920.2 1834.6v13M850.4 1744.3v13M1202.5 1950.2v13M1050.6 1901.6v13M1253.8 1958.5v13M1069.1 1908.9v13M1125.1 1929.5v13M1008.9 1890v13M909.2 1827.4v13M1256.7 1958.5v13M946.1 1850.9v13M904.8 1823.3v13M1040.4 1899.4v13M1190.7 1948.8v13M964.4 1864.8v13M966.2 1865.8v13M873.1 1782.2v13M1265.6 1961.3v13M1260.1 1959.9v13M1141.3 1931.2v13M1079 1914v13M895.3 1811v13M1213.4 1951v13M1069.7 1908.9v13M1113.5 1928v13M953.6 1855.9v13M910.7 1827.4v13M982.6 1876.1v13M904.6 1823.3v13M1102.4 1924.9v13M1029.9 1896.5v13M901.9 1821.3v13M1160.1 1938v13M1200.4 1950.2v13M1126.3 1929.5v13M985.4 1877.5v13M1200.3 1950.2v13M1198 1949.9v13M923.9 1835.7v13M1146.5 1931.5v13M914.8 1830.5v13M1023 1895.8v13M1198.6 1949.9v13M1224.3 1952.6v13M1060.5 1904.8v13M900.8 1818.5v13M1047 1900.1v13M889.9 1806.9v13M1230.5 1953.5v13M1180.4 1947v13M1256.8 1958.5v13M1010.1 1891.7v13M1081.2 1915.2v13M859 1759v13M835.2 1730.1v13M880.2 1794v13M876.1 1786.7v13M1128.1 1929.9v13M1040.2 1899.4v13M1067.1 1907.4v13M954.5 1855.9v13M837.6 1730.1v13M998.5 1885.5v13M916.6 1830.5v13M892.9 1811v13M1168.5 1942v13M988.7 1880.4v13M1158.7 1936.6v13M863.1 1763.6v13M1084.4 1916.5v13M1033.7 1897.6v13M1030.9 1897.6v13M928.6 1840.9v13M1088.8 1919.9v13M1230.8 1953.5v13M1182.5 1947.9v13M1050.4 1901.6v13M1055.9 1903.8v13M1213.8 1951v13M1207 1950.4v13M889.5 1806.9v13M911.2 1827.4v13M1142.9 1931.2v13M1231.5 1953.5v13M1096 1923.4v13M935.7 1845.9v13M1024.4 1895.8v13M1224.2 1952.6v13M1079.2 1914v13M1012.6 1892.5v13M919.6 1834.6v13M941.3 1848.6v13M1212.8 1951v13M1201 1950.2v13M1064.6 1907.4v13M979.3 1872.3v13M986.8 1877.5v13M1171.9 1942.9v13M845.9 1738.9v13M987.7 1877.5v13M890.7 1806.9v13M953.7 1855.9v13M944.4 1850.9v13M1005.4 1890v13M1065.5 1907.4v13M860.6 1759v13M1192.3 1949.6v13M1231.9 1954.2v13M1059.6 1904.8v13M896.8 1817v13M940.9 1848.6v13M935.5 1845.9v13M934.5 1845.9v13M1234.6 1954.7v13M1237 1955.1v13M1242 1955.9v13M984.9 1877.5v13M1182.3 1947.9v13M900.4 1818.5v13M1057.6 1903.8v13M892.2 1811v13M1066.6 1907.4v13M1211.9 1950.9v13M900.1 1818.5v13M1111.2 1926.5v13M1130.5 1930.1v13M993 1882.4v13M1108.9 1926.5v13M968.7 1867.3v13M1217.9 1951v13M1266.8 1961.3v13M1037.8 1898.8v13M1091.8 1921.3v13M1029.8 1896.5v13M1002.8 1887.8v13M1068.9 1908.9v13M850.5 1744.3v13M993 1882.4v13M1105.3 1925.8v13M946.7 1850.9v13M1003.3 1887.8v13M1111.3 1926.5v13M922.6 1835.7v13M1243.9 1955.9v13M843.2 1733.4v13M1027.2 1896.5v13M1069.5 1908.9v13M1267.4 1962.5v13M943 1849.7v13M1111.4 1927.6v13M1009 1890v13M959.4 1859.8v13M1088.8 1919.9v13M1257.6 1959.2v13M1143.7 1931.5v13M1164.2 1939v13M910.2 1827.4v13M1235.3 1954.7v13M1220.2 1951.7v13M1234.1 1954.2v13M1030 1896.5v13M1172.3 1944.2v13M1209.5 1950.6v13M1241.3 1955.9v13M875.7 1786.7v13M1192.6 1949.6v13M1187.5 1948.8v13M1144.3 1931.5v13M973.6 1869.9v13M943.5 1850.9v13M855.4 1752.2v13M1191.1 1948.8v13M985.9 1877.5v13M982 1876.1v13M925.8 1839.4v13M847.8 1738.9v13M987.6 1877.5v13M1103.3 1924.9v13M1175.1 1944.2v13M1258.5 1959.2v13M1210.3 1950.6v13M1083.4 1916.5v13M940.9 1848.6v13M994.9 1882.4v13M850.9 1744.3v13M902.3 1821.3v13M1247.5 1957.3v13M1001 1885.5v13M917.1 1833.2v13M1240.1 1955.1v13M1254 1958.5v13M1004 1887.8v13M1078.8 1914v13M1121.2 1929v13M1185.1 1948.5v13M1100 1923.4v13M881.9 1796.8v13M859.3 1759v13M1219.7 1951.7v13M851.8 1746.5v13M848.2 1738.9v13M913.9 1830.5v13M920.1 1834.6v13M1111.5 1927.6v13M964.6 1864.8v13M986 1877.5v13M1218.1 1951v13M1146.3 1931.5v13M883.6 1796.8v13M845.6 1738.9v13M1141.9 1931.2v13M1111.2 1926.5v13M926.7 1840.9v13M894 1811v13M889.7 1806.9v13M1005.7 1890v13M888.7 1804.4v13M956.6 1858.7v13M1021.3 1895.4v13M1072.1 1910.7v13M1021.9 1895.8v13M1224.8 1952.6v13M1115.3 1928v13M895.8 1811v13M1164.3 1939v13M904 1823.3v13M878.9 1791.8v13M1232.9 1954.2v13M1188.2 1948.8v13M924.3 1835.7v13M1165.6 1939v13M1203.4 1950.2v13M1172.5 1944.2v13M1110.1 1926.5v13M1192.1 1949.6v13M905.6 1823.3v13M1099.4 1923.4v13" fill="none" stroke="#F6CCE0" stroke-width="1.6"/>
<path d="M818.4 1736.6L820.1 1736.6L820.1 1736.8L823.2 1736.8L823.2 1737.1L827.1 1737.1L827.1 1737.5L830.9 1737.5L830.9 1737.8L833.2 1737.8L833.2 1741.5L837.2 1741.5L837.2 1747.9L840.4 1747.9L840.4 1757.3L842.3 1757.3L842.3 1763L845.2 1763L845.2 1771.9L847.3 1771.9L847.3 1778.1L850.8 1778.1L850.8 1788.7L852.4 1788.7L852.4 1793.2L853.8 1793.2L853.8 1798.4L857.4 1798.4L857.4 1810.9L859.1 1810.9L859.1 1817.8L861.2 1817.8L861.2 1826L862.2 1826L862.2 1830L864.9 1830L864.9 1841.1L868.7 1841.1L868.7 1853.7L870.5 1853.7L870.5 1859.1L873.8 1859.1L873.8 1868.8L876.3 1868.8L876.3 1873.9L878.8 1873.9L878.8 1878.9L880.1 1878.9L880.1 1881.5L883.8 1881.5L883.8 1888.9L885.6 1888.9L885.6 1891.6L888.9 1891.6L888.9 1896.5L891.8 1896.5L891.8 1903.7L893.9 1903.7L893.9 1909.1L896.5 1909.1L896.5 1914.4L898.9 1914.4L898.9 1919.2L900.8 1919.2L900.8 1922.8L904 1922.8L904 1929.2L906.7 1929.2L906.7 1934.7L909 1934.7L909 1939.3L912.3 1939.3L912.3 1944.3L914.1 1944.3L914.1 1946.9L915.3 1946.9L915.3 1948.1L919.6 1948.1L919.6 1952.4L921.6 1952.4L921.6 1954.4L924.2 1954.4L924.2 1957L926.8 1957L926.8 1959.6L929.2 1959.6L929.2 1962L931 1962L931 1963.8L935.3 1963.8L935.3 1968.1L936.7 1968.1L936.7 1969.5L938.3 1969.5L938.3 1971.1L940.5 1971.1L940.5 1973.3L944.3 1973.3L944.3 1977.1L945.9 1977.1L945.9 1978.2L950 1978.2L950 1980.9L951.8 1980.9L951.8 1982.1L955.4 1982.1L955.4 1984.5L957.4 1984.5L957.4 1985.8L959.4 1985.8L959.4 1987.2L962.7 1987.2L962.7 1989.3L964.7 1989.3L964.7 1990.7L966.9 1990.7L966.9 1992.2L969.6 1992.2L969.6 1993.1L973.1 1993.1L973.1 1994.3L974.5 1994.3L974.5 1994.7L977.4 1994.7L977.4 1995.4L980 1995.4L980 1996L985.5 1996L985.5 1998.7L988.4 1998.7L988.4 2000.2L990.1 2000.2L990.1 2001L992.6 2001L992.6 2002.3L994.5 2002.3L994.5 2003.6L999.4 2003.6L999.4 2007L1001.7 2007L1001.7 2008.7L1005.2 2008.7L1005.2 2011.1L1007.3 2011.1L1007.3 2012.3L1008.8 2012.3L1008.8 2013.1L1012.7 2013.1L1012.7 2015.4L1014.8 2015.4L1014.8 2015.8L1017.3 2015.8L1017.3 2016.3L1022.8 2016.3L1022.8 2017.4L1024.5 2017.4L1024.5 2018.7L1026.4 2018.7L1026.4 2020.3L1030.4 2020.3L1030.4 2023.7L1033.9 2023.7L1033.9 2026.3L1036.9 2026.3L1036.9 2028.6L1040.4 2028.6L1040.4 2031.2L1043.2 2031.2L1043.2 2031.9L1045.7 2031.9L1045.7 2032.5L1050.5 2032.5L1050.5 2033.7L1053.8 2033.7L1053.8 2035L1057.7 2035L1057.7 2036.6L1061.1 2036.6L1061.1 2038L1063.1 2038L1063.1 2038.8L1065.6 2038.8L1065.6 2039.7L1069.5 2039.7L1069.5 2041.2L1073.2 2041.2L1073.2 2042.6L1083.2 2042.6L1083.2 2042.6L1084.5 2042.6L1084.5 2048.9L1086.7 2048.9L1086.7 2049.8L1090.7 2049.8L1090.7 2051.5L1093.3 2051.5L1093.3 2052.6L1096 2052.6L1096 2054L1099.6 2054L1099.6 2055.8L1100.9 2055.8L1100.9 2056.4L1106 2056.4L1106 2056.9L1108.1 2056.9L1108.1 2057.1L1109.9 2057.1L1109.9 2057.3L1113.5 2057.3L1113.5 2057.7L1116.8 2057.7L1116.8 2060.2L1118.5 2060.2L1118.5 2061.4L1151.2 2061.4L1151.2 2061.4L1154.5 2061.4L1154.5 2063.9L1156.3 2063.9L1156.3 2065.2L1186.5 2065.2L1186.5 2065.2L1188.3 2065.2L1188.3 2066.1L1191.5 2066.1L1191.5 2067.7L1192.9 2067.7L1192.9 2068.2L1195.2 2068.2L1195.2 2069L1199.1 2069L1199.1 2070.3L1202.2 2070.3L1202.2 2070.8L1204.1 2070.8L1204.1 2071.1L1210.2 2071.1L1210.2 2072.1L1212.3 2072.1L1212.3 2072.5L1214.2 2072.5L1214.2 2072.8L1216.2 2072.8L1216.2 2075.3L1219.2 2075.3L1219.2 2079.1L1223 2079.1L1223 2087.9L1246.9 2087.9L1246.9 2087.9L1249.5 2087.9L1249.5 2092.4L1253.5 2092.4L1253.5 2092.5L1256.3 2092.5L1256.3 2092.6L1258.5 2092.6L1258.5 2092.7L1261.9 2092.7L1261.9 2092.8L1266 2092.8L1266 2092.9L1268.3 2092.9L1268.3 2092.9" fill="none" stroke="#69759C" stroke-width="6.6" stroke-linejoin="round"/>
<path d="M1086 2042.7v12.4M1128.6 2055.2v12.4M1044.4 2025.7v12.4M1043.9 2025.7v12.4M982.6 1989.8v12.4M1195.5 2062.8v12.4M946.2 1972v12.4M874.7 1862.6v12.4M906.9 1928.5v12.4M1075.1 2036.4v12.4M1210.6 2065.9v12.4M1066.2 2033.5v12.4M849 1771.9v12.4M940.9 1967.1v12.4M875.4 1862.6v12.4M969.3 1986v12.4M975.4 1988.5v12.4M1227.1 2081.7v12.4M1042.9 2025v12.4M1188.9 2059.9v12.4M1183 2059v12.4M884.2 1882.7v12.4M890.6 1890.3v12.4M1242.7 2081.7v12.4M834.1 1735.3v12.4M1024.3 2011.2v12.4M1179.5 2059v12.4M937.5 1963.3v12.4M1163.2 2059v12.4M1217 2069.1v12.4M1198.8 2062.8v12.4M960.6 1981v12.4M949 1972v12.4M984.2 1989.8v12.4M845.4 1765.7v12.4M841.5 1751.1v12.4M934.9 1957.6v12.4M913 1938.1v12.4M1153.5 2055.2v12.4M978 1989.2v12.4M856.1 1792.2v12.4M964.1 1983.1v12.4M886.6 1885.4v12.4M841.8 1751.1v12.4M1093.6 2046.4v12.4M937.1 1963.3v12.4M948.8 1972v12.4M915.9 1941.9v12.4M1097 2047.8v12.4M1177.4 2059v12.4M1241 2081.7v12.4M1233.6 2081.7v12.4M934.5 1957.6v12.4M1102.2 2050.2v12.4M956.7 1978.3v12.4M887.3 1885.4v12.4M1045.4 2025.7v12.4M1239 2081.7v12.4M982.7 1989.8v12.4M1054.6 2028.8v12.4M1166.9 2059v12.4M868.3 1834.9v12.4M834.4 1735.3v12.4M1211.8 2065.9v12.4M1214.5 2066.6v12.4M1105.5 2050.2v12.4M1181.4 2059v12.4M1220.4 2072.9v12.4M1146.2 2055.2v12.4M1252 2086.2v12.4M1192.9 2062v12.4M1260.6 2086.5v12.4M1193.3 2062v12.4M848.7 1771.9v12.4M1037.2 2022.4v12.4M864.5 1823.8v12.4M1148.5 2055.2v12.4M850.5 1771.9v12.4M1152.3 2055.2v12.4M1166.7 2059v12.4M851.5 1782.5v12.4M863.9 1823.8v12.4M1057.5 2028.8v12.4M1251.4 2086.2v12.4M1258.1 2086.4v12.4M1167.3 2059v12.4M1183.3 2059v12.4M972.7 1986.9v12.4M1171.8 2059v12.4M1078.8 2036.4v12.4M1029.4 2014.1v12.4M1125.4 2055.2v12.4M841.6 1751.1v12.4M974.1 1988.1v12.4M1040.8 2025v12.4M920.8 1946.2v12.4M1141.7 2055.2v12.4M1258.9 2086.5v12.4M941.4 1967.1v12.4M951.8 1974.7v12.4M1128.7 2055.2v12.4M1087.9 2043.6v12.4M1002 2002.5v12.4M1045.2 2025.7v12.4M956.5 1978.3v12.4M1145.4 2055.2v12.4M839.8 1741.7v12.4M1179.7 2059v12.4M935.2 1957.6v12.4M1013 2009.2v12.4M1024.7 2012.5v12.4M1083.3 2036.4v12.4M973.7 1988.1v12.4M913.2 1938.1v12.4M1219.9 2072.9v12.4M835 1735.3v12.4M1260.6 2086.5v12.4M951.7 1974.7v12.4M997.1 1997.4v12.4M1077.9 2036.4v12.4M963.2 1983.1v12.4M1153.6 2055.2v12.4M929.5 1955.8v12.4M1144 2055.2v12.4M933 1957.6v12.4M1030.9 2017.5v12.4M1073 2035v12.4M913.7 1938.1v12.4M1248.4 2081.7v12.4M1229.3 2081.7v12.4M1059.1 2030.4v12.4M1250.1 2086.2v12.4M903.9 1916.6v12.4M864.4 1823.8v12.4M1170.6 2059v12.4M995.4 1997.4v12.4M1019 2010.1v12.4M895.1 1902.9v12.4M1092.9 2045.3v12.4M1004 2002.5v12.4M1098.8 2047.8v12.4M968.6 1986v12.4M1265.5 2086.6v12.4M1233.1 2081.7v12.4M1132.4 2055.2v12.4M857.3 1792.2v12.4M987.5 1992.5v12.4M1087 2043.6v12.4M953.2 1975.9v12.4M1021 2010.1v12.4M1032.1 2017.5v12.4M938.6 1964.9v12.4M974.5 1988.5v12.4M1180.3 2059v12.4M853.6 1787v12.4M1074.9 2036.4v12.4M911.7 1933.1v12.4M1243.5 2081.7v12.4M958.1 1979.6v12.4M1014.8 2009.6v12.4" fill="none" stroke="#69759C" stroke-width="1.6"/>
<line x1="818.4" y1="1963.4" x2="1242" y2="1963.4" stroke="#000" stroke-width="4.4" stroke-dasharray="14.2 13.75"/>
<line x1="931.6" y1="2189.9" x2="931.6" y2="1963.4" stroke="#000" stroke-width="4.4" stroke-dasharray="14 14"/>
<line x1="1241.9" y1="2189.9" x2="1241.9" y2="1963.4" stroke="#000" stroke-width="4.4" stroke-dasharray="14 14"/>
<path d="M796.4 1713.9V2211.8H1268.3" fill="none" stroke="#000" stroke-width="4.2"/>
<line x1="791.5" y1="1736.1" x2="794.8" y2="1736.1" stroke="#222" stroke-width="3.2"/>
<text x="788.8" y="1742.7" font-size="26.5" text-anchor="end">1.00</text>
<line x1="791.5" y1="1849.3" x2="794.8" y2="1849.3" stroke="#222" stroke-width="3.2"/>
<text x="788.8" y="1855.9" font-size="26.5" text-anchor="end">0.75</text>
<line x1="791.5" y1="1962.5" x2="794.8" y2="1962.5" stroke="#222" stroke-width="3.2"/>
<text x="788.8" y="1969.1" font-size="26.5" text-anchor="end">0.50</text>
<line x1="791.5" y1="2075.7" x2="794.8" y2="2075.7" stroke="#222" stroke-width="3.2"/>
<text x="788.8" y="2082.3" font-size="26.5" text-anchor="end">0.25</text>
<line x1="791.5" y1="2188.9" x2="794.8" y2="2188.9" stroke="#222" stroke-width="3.2"/>
<text x="788.8" y="2195.5" font-size="26.5" text-anchor="end">0.00</text>
<line x1="818" y1="2213.4" x2="818" y2="2216.8" stroke="#222" stroke-width="3.2"/>
<text x="816.3" y="2241.5" font-size="26.5" text-anchor="middle">0</text>
<line x1="903.9" y1="2213.4" x2="903.9" y2="2216.8" stroke="#222" stroke-width="3.2"/>
<text x="905.5" y="2241.5" font-size="26.5" text-anchor="middle">12</text>
<line x1="989.6" y1="2213.4" x2="989.6" y2="2216.8" stroke="#222" stroke-width="3.2"/>
<text x="990.7" y="2241.5" font-size="26.5" text-anchor="middle">24</text>
<line x1="1075" y1="2213.4" x2="1075" y2="2216.8" stroke="#222" stroke-width="3.2"/>
<text x="1076.9" y="2241.5" font-size="26.5" text-anchor="middle">36</text>
<line x1="1160.8" y1="2213.4" x2="1160.8" y2="2216.8" stroke="#222" stroke-width="3.2"/>
<text x="1162.1" y="2241.5" font-size="26.5" text-anchor="middle">48</text>
<line x1="1246.4" y1="2213.4" x2="1246.4" y2="2216.8" stroke="#222" stroke-width="3.2"/>
<text x="1248.7" y="2241.5" font-size="26.5" text-anchor="middle">60</text>
<text x="1031.3" y="2274" font-size="29.4" font-weight="bold" text-anchor="middle">Time (month)</text>
<text transform="translate(733.5 1968) rotate(-90)" font-size="33" font-weight="bold" text-anchor="middle">Recurrence free survival probability</text>
<text x="1055" y="1768.6" font-size="26">Rate (% per day)</text>
<line x1="1059.3" y1="1799.5" x2="1073.9" y2="1799.5" stroke="#F6CCE0" stroke-width="6.6"/>
<line x1="1066.6" y1="1792.5" x2="1066.6" y2="1806.5" stroke="#F6CCE0" stroke-width="1.8"/>
<text x="1080.7" y="1807.9" font-size="26">≤ 0.8</text>
<line x1="1059.3" y1="1828" x2="1073.9" y2="1828" stroke="#69759C" stroke-width="6.6"/>
<line x1="1066.6" y1="1821" x2="1066.6" y2="1835" stroke="#69759C" stroke-width="1.8"/>
<text x="1080.7" y="1836.1" font-size="26">&gt; 0.8</text>
<text x="1055.5" y="1870.1" font-size="26"><tspan font-style="italic">P</tspan> = 8.18 × 10<tspan font-size="18" dy="-11">-19</tspan></text>
<text x="792.9" y="2308.3" font-size="25.5" text-anchor="middle">Rate</text>
<text x="762.2" y="2340" font-size="25.5" text-anchor="middle">(% per day)</text>
<text x="838" y="2328.1" font-size="26">Number at risk</text>
<text x="823.8" y="2378" font-size="26" text-anchor="end">≤ 0.8</text>
<text x="823.8" y="2419.5" font-size="26" text-anchor="end">&gt; 0.8</text>
<path d="M835.1 2343.3V2436.4H1263.2" fill="none" stroke="#000" stroke-width="4.2"/>
<text x="858.6" y="2375" font-size="26.5" text-anchor="middle">772</text>
<text x="938" y="2375" font-size="26.5" text-anchor="middle">570</text>
<text x="1016.7" y="2375" font-size="26.5" text-anchor="middle">369</text>
<text x="1095.3" y="2375" font-size="26.5" text-anchor="middle">238</text>
<text x="1175.5" y="2375" font-size="26.5" text-anchor="middle">150</text>
<text x="1250.5" y="2375" font-size="26.5" text-anchor="middle">69</text>
<text x="858.6" y="2417.3" font-size="26.5" text-anchor="middle">302</text>
<text x="938" y="2417.3" font-size="26.5" text-anchor="middle">157</text>
<text x="1013" y="2417.3" font-size="26.5" text-anchor="middle">93</text>
<text x="1092.5" y="2417.3" font-size="26.5" text-anchor="middle">63</text>
<text x="1171.9" y="2417.3" font-size="26.5" text-anchor="middle">40</text>
<text x="1250.5" y="2417.3" font-size="26.5" text-anchor="middle">18</text>
<line x1="842.7" y1="2438" x2="842.7" y2="2441" stroke="#444" stroke-width="3"/>
<text x="841.6" y="2461.7" font-size="26.5" text-anchor="middle">0</text>
<line x1="923.9" y1="2438" x2="923.9" y2="2441" stroke="#444" stroke-width="3"/>
<text x="926.4" y="2461.7" font-size="26.5" text-anchor="middle">12</text>
<line x1="1004" y1="2438" x2="1004" y2="2441" stroke="#444" stroke-width="3"/>
<text x="1006.5" y="2461.7" font-size="26.5" text-anchor="middle">24</text>
<line x1="1085.2" y1="2438" x2="1085.2" y2="2441" stroke="#444" stroke-width="3"/>
<text x="1087" y="2461.7" font-size="26.5" text-anchor="middle">36</text>
<line x1="1165.7" y1="2438" x2="1165.7" y2="2441" stroke="#444" stroke-width="3"/>
<text x="1166.5" y="2461.7" font-size="26.5" text-anchor="middle">48</text>
<line x1="1245.9" y1="2438" x2="1245.9" y2="2441" stroke="#444" stroke-width="3"/>
<text x="1248.7" y="2461.7" font-size="26.5" text-anchor="middle">60</text>
<text x="1038.3" y="2493.1" font-size="32.8" font-weight="bold" text-anchor="middle">Time (month)</text>
</g>
<g id="panel-g">
<text x="1334.5" y="1688" font-size="33" font-weight="bold" fill="#1a1311">g</text>
<path d="M1442.1 1742.9L1442.1 1807.1L1445.9 1807.1L1445.9 1815.9L1449.6 1815.9L1449.6 1827.1L1450.9 1827.1L1450.9 1831L1452.3 1831L1452.3 1836.6L1456 1836.6L1456 1851.2L1458.3 1851.2L1458.3 1863.5L1459.8 1863.5L1459.8 1871.3L1461.6 1871.3L1461.6 1880L1463.5 1880L1463.5 1888.9L1466.3 1888.9L1466.3 1899.8L1467.3 1899.8L1467.3 1904.1L1471.1 1904.1L1471.1 1916.6L1473.4 1916.6L1473.4 1921.2L1476.1 1921.2L1476.1 1926.7L1480.6 1926.7L1480.6 1932.1L1482.4 1932.1L1482.4 1934.3L1484.1 1934.3L1484.1 1938.4L1487.5 1938.4L1487.5 1946.9L1492.2 1946.9L1492.2 1956.3L1493.8 1956.3L1493.8 1959.5L1496.6 1959.5L1496.6 1964.1L1500.1 1964.1L1500.1 1969.5L1502.2 1969.5L1502.2 1971.2L1506.4 1971.2L1506.4 1974.6L1508.9 1974.6L1508.9 1976.3L1511.3 1976.3L1511.3 1977.8L1513.9 1977.8L1513.9 1979.6L1515.3 1979.6L1515.3 1980.8L1517.9 1980.8L1517.9 1982.9L1521.5 1982.9L1521.5 1985.9L1522.8 1985.9L1522.8 1986.5L1524.2 1986.5L1524.2 1987.3L1529 1987.3L1529 1989.7L1530.9 1989.7L1530.9 1990.3L1532.4 1990.3L1532.4 1990.8L1536.6 1990.8L1536.6 1992.2L1538.9 1992.2L1538.9 1993.7L1542 1993.7L1542 1995.8L1544.1 1995.8L1544.1 1997.2L1547 1997.2L1547 1999.1L1549.9 1999.1L1549.9 2001.1L1551.7 2001.1L1551.7 2002.3L1556.3 2002.3L1556.3 2003.8L1557.6 2003.8L1557.6 2004.2L1559.2 2004.2L1559.2 2004.8L1562.7 2004.8L1562.7 2007.1L1565.3 2007.1L1565.3 2008.8L1566.8 2008.8L1566.8 2009.8L1570.6 2009.8L1570.6 2012.3L1572.6 2012.3L1572.6 2013.7L1574.3 2013.7L1574.3 2014.9L1576.1 2014.9L1576.1 2016.1L1578.9 2016.1L1578.9 2017.9L1581.9 2017.9L1581.9 2019.9L1585.1 2019.9L1585.1 2021L1586.4 2021L1586.4 2021.4L1589.5 2021.4L1589.5 2022.4L1591.1 2022.4L1591.1 2022.9L1592.7 2022.9L1592.7 2023.5L1597 2023.5L1597 2024.9L1600 2024.9L1600 2027.4L1602.7 2027.4L1602.7 2028.3L1607.5 2028.3L1607.5 2029.7L1609.8 2029.7L1609.8 2030.4L1612.6 2030.4L1612.6 2031.2L1614.3 2031.2L1614.3 2031.6L1618.4 2031.6L1618.4 2032.4L1621.4 2032.4L1621.4 2033L1625.2 2033L1625.2 2033.7L1626.5 2033.7L1626.5 2034.6L1630.2 2034.6L1630.2 2037.1L1632.7 2037.1L1632.7 2038.8L1635.7 2038.8L1635.7 2041.3L1637.3 2041.3L1637.3 2042.5L1640.3 2042.5L1640.3 2045.1L1642.6 2045.1L1642.6 2046.2L1644.5 2046.2L1644.5 2047.2L1650.4 2047.2L1650.4 2050.1L1652.1 2050.1L1652.1 2051.6L1653.6 2051.6L1653.6 2052.8L1657.9 2052.8L1657.9 2056.4L1660.3 2056.4L1660.3 2058L1662.7 2058L1662.7 2059.6L1665.5 2059.6L1665.5 2061.4L1669.3 2061.4L1669.3 2061.9L1671.6 2061.9L1671.6 2062.2L1675.5 2062.2L1675.5 2062.7L1680.6 2062.7L1680.6 2063.7L1683.4 2063.7L1683.4 2064.3L1685.2 2064.3L1685.2 2064.6L1688.1 2064.6L1688.1 2065.2L1690.7 2065.2L1690.7 2065.7L1696.7 2065.7L1696.7 2066.9L1698.9 2066.9L1698.9 2067.4L1700.7 2067.4L1700.7 2067.7L1703.7 2067.7L1703.7 2068.7L1706.3 2068.7L1706.3 2069.6L1708.3 2069.6L1708.3 2070.3L1710.8 2070.3L1710.8 2077.8L1714.5 2077.8L1714.5 2078.7L1715.8 2078.7L1715.8 2079.1L1741 2079.1L1741 2079.1L1744.3 2079.1L1744.3 2080.7L1746.1 2080.7L1746.1 2081.6L1749.4 2081.6L1749.4 2081.9L1754.3 2081.9L1754.3 2082.3L1756.3 2082.3L1756.3 2082.4L1758.5 2082.4L1758.5 2082.6L1761.2 2082.6L1761.2 2082.8L1764.7 2082.8L1764.7 2084.6L1766.2 2084.6L1766.2 2085.4L1770.5 2085.4L1770.5 2085.9L1772.9 2085.9L1772.9 2086.2L1776.3 2086.2L1776.3 2086.6L1809 2086.6L1809 2086.6L1810.5 2086.6L1810.5 2087.4L1814.1 2087.4L1814.1 2089.1L1816.5 2089.1L1816.5 2089.4L1821.4 2089.4L1821.4 2089.9L1823.3 2089.9L1823.3 2090.1L1826.6 2090.1L1826.6 2090.4L1830.2 2090.4L1830.2 2093.9L1831.7 2093.9L1831.7 2095.4L1833.7 2095.4L1833.7 2096.2L1836.9 2096.2L1836.9 2097.4L1841.8 2097.4L1841.8 2099.2L1843.2 2099.2L1843.2 2099.9L1846.2 2099.9L1846.2 2101.5L1849.3 2101.5L1849.3 2103L1851.9 2103L1851.9 2103.2L1856.3 2103.2L1856.3 2103.7L1858.7 2103.7L1858.7 2103.9L1861.9 2103.9L1861.9 2104.3L1864.4 2104.3L1864.4 2109.3L1907.2 2109.3L1907.2 2109.3" fill="none" stroke="#69759C" stroke-width="7.2" stroke-linejoin="round" stroke-linecap="round"/>
<path d="M1896.7 2104.4v9.8M1626.5 2029.7v9.8M1513.4 1972.9v9.8M1893.9 2104.4v9.8M1814.1 2084.2v9.8M1734 2074.2v9.8M1862.5 2099.4v9.8M1734.7 2074.2v9.8M1457.9 1846.3v9.8M1796.3 2081.7v9.8M1723.9 2074.2v9.8M1843.5 2095v9.8M1559.4 1999.9v9.8M1896.3 2104.4v9.8M1779.3 2081.7v9.8M1581.8 2013v9.8M1697.7 2062v9.8M1461 1866.4v9.8M1585.8 2016.1v9.8M1792.7 2081.7v9.8M1595.1 2018.6v9.8M1596.2 2018.6v9.8M1877.3 2104.4v9.8M1867.4 2104.4v9.8M1759.6 2077.7v9.8M1647 2042.3v9.8M1824.5 2085.2v9.8M1876.6 2104.4v9.8M1487 1933.5v9.8M1502.7 1966.3v9.8M1476.5 1921.8v9.8M1530.4 1984.8v9.8M1646.4 2042.3v9.8M1608 2024.8v9.8M1535.1 1985.9v9.8M1841.9 2094.3v9.8M1548.1 1994.2v9.8M1808.9 2081.7v9.8M1532.5 1985.9v9.8M1790.7 2081.7v9.8M1660.4 2053.1v9.8M1744.8 2075.8v9.8M1759.2 2077.7v9.8M1594.3 2018.6v9.8M1744.3 2074.2v9.8M1593 2018.6v9.8M1882.9 2104.4v9.8M1552 1997.4v9.8M1896.5 2104.4v9.8M1614.4 2026.7v9.8M1813 2082.5v9.8M1470.8 1899.2v9.8M1569.4 2004.9v9.8M1606.6 2023.4v9.8M1870.7 2104.4v9.8M1821.2 2084.5v9.8M1707.9 2064.7v9.8M1885 2104.4v9.8M1879.2 2104.4v9.8M1579.3 2013v9.8M1589.8 2017.5v9.8M1494.9 1954.6v9.8M1723.7 2074.2v9.8M1478.5 1921.8v9.8M1880.9 2104.4v9.8M1635.1 2033.9v9.8M1547.2 1994.2v9.8M1885.9 2104.4v9.8M1815.4 2084.2v9.8M1732.5 2074.2v9.8M1745.5 2075.8v9.8M1501.8 1964.6v9.8M1656.2 2047.9v9.8M1528.5 1982.4v9.8M1711.7 2072.9v9.8M1478.4 1921.8v9.8M1698.2 2062v9.8M1594.6 2018.6v9.8M1631 2032.2v9.8M1891.6 2104.4v9.8M1662 2053.1v9.8M1804 2081.7v9.8M1452.9 1831.7v9.8M1663.2 2054.7v9.8M1676.1 2057.8v9.8M1569.9 2004.9v9.8M1879.2 2104.4v9.8M1784.3 2081.7v9.8M1847.6 2096.6v9.8M1612 2025.5v9.8M1485.1 1933.5v9.8M1572 2007.4v9.8M1549.3 1994.2v9.8M1522.4 1981v9.8M1872.9 2104.4v9.8M1864.8 2104.4v9.8M1463.1 1875.1v9.8M1713.8 2072.9v9.8M1783.1 2081.7v9.8M1523.2 1981.6v9.8M1682.5 2058.8v9.8M1568.7 2004.9v9.8M1815.7 2084.2v9.8M1862.4 2099.4v9.8M1798.6 2081.7v9.8M1654.8 2047.9v9.8M1662.9 2054.7v9.8M1515.8 1975.9v9.8M1559.9 1999.9v9.8M1795.9 2081.7v9.8M1688.9 2060.3v9.8M1640 2037.6v9.8M1704.3 2063.8v9.8M1834.6 2091.3v9.8M1528.8 1982.4v9.8M1489.4 1942v9.8M1900.6 2104.4v9.8M1517 1975.9v9.8M1863.9 2099.4v9.8M1903.9 2104.4v9.8M1807.5 2081.7v9.8M1709.5 2065.4v9.8M1715.1 2073.8v9.8M1876.3 2104.4v9.8M1526 1982.4v9.8M1562.5 1999.9v9.8M1725.8 2074.2v9.8M1506.5 1969.7v9.8M1602.6 2022.5v9.8M1659.6 2051.5v9.8M1599.1 2020v9.8M1561 1999.9v9.8M1835.1 2091.3v9.8M1762.1 2077.9v9.8M1816.4 2084.2v9.8M1793.8 2081.7v9.8M1653 2046.7v9.8M1543.3 1990.9v9.8M1732.6 2074.2v9.8M1746.5 2076.7v9.8" fill="none" stroke="#69759C" stroke-width="1.6"/>
<path d="M1442.1 1751.7L1444.7 1751.7L1444.7 1753.1L1447.3 1753.1L1447.3 1754.6L1450.9 1754.6L1450.9 1756.7L1452.8 1756.7L1452.8 1758.9L1456.6 1758.9L1456.6 1763.3L1458.5 1763.3L1458.5 1765.5L1460.8 1765.5L1460.8 1770.2L1464.8 1770.2L1464.8 1778.1L1468.1 1778.1L1468.1 1786.1L1471.1 1786.1L1471.1 1793.2L1473.9 1793.2L1473.9 1796.9L1477.1 1796.9L1477.1 1801.3L1478.7 1801.3L1478.7 1803.3L1482.7 1803.3L1482.7 1808L1484.8 1808L1484.8 1810.5L1486.2 1810.5L1486.2 1812.1L1489.5 1812.1L1489.5 1816L1491.1 1816L1491.1 1817.8L1493.8 1817.8L1493.8 1820.9L1496.4 1820.9L1496.4 1823.6L1498.5 1823.6L1498.5 1825.7L1501.3 1825.7L1501.3 1828.5L1504.1 1828.5L1504.1 1830.8L1507.6 1830.8L1507.6 1833.7L1508.9 1833.7L1508.9 1834.8L1513.3 1834.8L1513.3 1838.5L1515.1 1838.5L1515.1 1840L1516.4 1840L1516.4 1841.1L1517.8 1841.1L1517.8 1842.2L1519.9 1842.2L1519.9 1844L1524 1844L1524 1847.4L1527 1847.4L1527 1849.4L1529.6 1849.4L1529.6 1851.1L1531.5 1851.1L1531.5 1852.4L1533.5 1852.4L1533.5 1853.7L1536.4 1853.7L1536.4 1855.7L1539.1 1855.7L1539.1 1857.5L1541.7 1857.5L1541.7 1858.8L1544.6 1858.8L1544.6 1860.2L1546.6 1860.2L1546.6 1861.2L1550.8 1861.2L1550.8 1864L1552.7 1864L1552.7 1865.3L1554.2 1865.3L1554.2 1866.3L1556.2 1866.3L1556.2 1867.6L1559.6 1867.6L1559.6 1869.9L1561.8 1869.9L1561.8 1871.3L1564.7 1871.3L1564.7 1873.3L1567.4 1873.3L1567.4 1875.1L1569.3 1875.1L1569.3 1876.4L1572.3 1876.4L1572.3 1877.9L1575.3 1877.9L1575.3 1879.3L1576.9 1879.3L1576.9 1880.1L1581.2 1880.1L1581.2 1882.3L1583.1 1882.3L1583.1 1883.3L1584.4 1883.3L1584.4 1883.9L1588.8 1883.9L1588.8 1886.1L1590.1 1886.1L1590.1 1886.7L1592 1886.7L1592 1887.7L1594 1887.7L1594 1888.3L1597 1888.3L1597 1889.3L1600 1889.3L1600 1890.2L1601.7 1890.2L1601.7 1890.9L1606.1 1890.9L1606.1 1892.6L1610.9 1892.6L1610.9 1894.6L1612.6 1894.6L1612.6 1895.2L1615.4 1895.2L1615.4 1896.7L1618.4 1896.7L1618.4 1898.1L1620 1898.1L1620 1899L1625.2 1899L1625.2 1901.5L1627.5 1901.5L1627.5 1902.4L1634 1902.4L1634 1905.1L1636 1905.1L1636 1905.8L1637.8 1905.8L1637.8 1906.6L1640.5 1906.6L1640.5 1907.9L1643.2 1907.9L1643.2 1909.3L1646 1909.3L1646 1910.7L1650.4 1910.7L1650.4 1912.9L1652.7 1912.9L1652.7 1913.6L1656.3 1913.6L1656.3 1914.7L1659.9 1914.7L1659.9 1915.7L1663 1915.7L1663 1916.6L1668.6 1916.6L1668.6 1918.9L1671.3 1918.9L1671.3 1920L1673.9 1920L1673.9 1921L1675.5 1921L1675.5 1921.7L1682.1 1921.7L1682.1 1923.6L1684.6 1923.6L1684.6 1924.4L1686.5 1924.4L1686.5 1925L1688.1 1925L1688.1 1925.5L1693 1925.5L1693 1926.9L1694.7 1926.9L1694.7 1927.4L1696.9 1927.4L1696.9 1928.1L1700.7 1928.1L1700.7 1929.2L1707.4 1929.2L1707.4 1930.6L1709.1 1930.6L1709.1 1930.9L1711.3 1930.9L1711.3 1931.3L1713.3 1931.3L1713.3 1931.8L1715.1 1931.8L1715.1 1932.1L1719.1 1932.1L1719.1 1932.9L1723.3 1932.9L1723.3 1933.8L1725.9 1933.8L1725.9 1934.3L1728 1934.3L1728 1934.7L1732.7 1934.7L1732.7 1935.6L1734.3 1935.6L1734.3 1936L1738.5 1936L1738.5 1936.8L1741.5 1936.8L1741.5 1937.7L1745.2 1937.7L1745.2 1938.8L1748.6 1938.8L1748.6 1939.8L1751.1 1939.8L1751.1 1940.6L1754 1940.6L1754 1941.4L1757.9 1941.4L1757.9 1942.6L1760.4 1942.6L1760.4 1943.4L1763.7 1943.4L1763.7 1944.3L1765.6 1944.3L1765.6 1945.1L1769.8 1945.1L1769.8 1946.8L1774.6 1946.8L1774.6 1948.7L1776.3 1948.7L1776.3 1949.4L1781.2 1949.4L1781.2 1950.9L1783.2 1950.9L1783.2 1951.4L1787.2 1951.4L1787.2 1952.7L1788.9 1952.7L1788.9 1953.2L1792.3 1953.2L1792.3 1954.2L1795.5 1954.2L1795.5 1955.1L1799.2 1955.1L1799.2 1956.2L1801.5 1956.2L1801.5 1956.9L1804 1956.9L1804 1957.2L1807.6 1957.2L1807.6 1957.6L1810.2 1957.6L1810.2 1957.8L1814.1 1957.8L1814.1 1958.2L1816.3 1958.2L1816.3 1958.7L1819.9 1958.7L1819.9 1959.4L1823.7 1959.4L1823.7 1960.1L1826.6 1960.1L1826.6 1960.7L1828.3 1960.7L1828.3 1961L1832.7 1961L1832.7 1961.9L1837.4 1961.9L1837.4 1962.9L1839.2 1962.9L1839.2 1963.2L1845 1963.2L1845 1964L1846.6 1964L1846.6 1964.3L1848.5 1964.3L1848.5 1964.5L1851.8 1964.5L1851.8 1965L1856.6 1965L1856.6 1965.7L1858.5 1965.7L1858.5 1966.1L1862.6 1966.1L1862.6 1966.7L1864.4 1966.7L1864.4 1967L1867.8 1967L1867.8 1967.3L1871.8 1967.3L1871.8 1967.7L1873.6 1967.7L1873.6 1967.9L1877 1967.9L1877 1968.3L1878.7 1968.3L1878.7 1968.5L1883.2 1968.5L1883.2 1969.1L1886.3 1969.1L1886.3 1969.6L1889.6 1969.6L1889.6 1970L1907.2 1970L1907.2 1970.3" fill="none" stroke="#F6CCE0" stroke-width="7.2" stroke-linejoin="round" stroke-linecap="round"/>
<path d="M1771.1 1942v9.6M1835.7 1957.1v9.6M1884.2 1964.3v9.6M1737 1931.2v9.6M1538.7 1850.9v9.6M1894.6 1965.2v9.6M1869 1962.5v9.6M1709.8 1926.1v9.6M1657.6 1909.9v9.6M1709 1925.8v9.6M1655.9 1908.8v9.6M1817.5 1953.9v9.6M1780.5 1944.6v9.6M1753.3 1935.8v9.6M1712.5 1926.5v9.6M1702.6 1924.4v9.6M1505.7 1826v9.6M1585 1879.1v9.6M1525.5 1842.6v9.6M1846.2 1959.2v9.6M1527.1 1844.6v9.6M1637.9 1901.8v9.6M1600.8 1885.4v9.6M1649.6 1905.9v9.6M1577.1 1875.3v9.6M1785.7 1946.6v9.6M1522.8 1839.2v9.6M1775.5 1943.9v9.6M1903.7 1965.2v9.6M1753.5 1935.8v9.6M1545.7 1855.4v9.6M1492 1813v9.6M1802.9 1952.1v9.6M1676.7 1916.9v9.6M1682.3 1918.8v9.6M1627.4 1896.7v9.6M1754.3 1936.6v9.6M1793.9 1949.4v9.6M1672.1 1915.2v9.6M1533.1 1847.6v9.6M1794.6 1949.4v9.6M1893.1 1965.2v9.6M1895.7 1965.2v9.6M1549.4 1856.4v9.6M1494.5 1816.1v9.6M1895.4 1965.2v9.6M1830.9 1956.2v9.6M1733.2 1930.8v9.6M1702.5 1924.4v9.6M1585 1879.1v9.6M1742.5 1932.9v9.6M1662.3 1910.9v9.6M1771.8 1942v9.6M1542.8 1854v9.6M1816.3 1953.4v9.6M1686.4 1919.6v9.6M1795 1949.4v9.6M1459.3 1760.7v9.6M1796.9 1950.3v9.6M1762.5 1938.6v9.6M1474.6 1792.1v9.6M1646.9 1905.9v9.6M1713.3 1926.5v9.6M1586.8 1879.1v9.6M1495.2 1816.1v9.6M1697.3 1923.3v9.6M1724.2 1929v9.6M1725.7 1929v9.6M1731 1929.9v9.6M1495.6 1816.1v9.6M1883.9 1964.3v9.6M1669.7 1914.1v9.6M1750.5 1935v9.6M1600 1885.4v9.6M1649 1905.9v9.6M1464.9 1773.3v9.6M1581.7 1877.5v9.6M1770.3 1942v9.6M1704.9 1924.4v9.6M1484.1 1803.2v9.6M1779.8 1944.6v9.6M1691.8 1920.7v9.6M1754.4 1936.6v9.6M1653.6 1908.8v9.6M1455.6 1754.1v9.6M1866.8 1962.2v9.6M1887.3 1964.8v9.6M1857.5 1960.9v9.6M1790.7 1948.4v9.6M1617.7 1891.9v9.6M1542.7 1854v9.6M1716.1 1927.3v9.6M1674.5 1916.2v9.6M1557.9 1862.8v9.6M1744.7 1932.9v9.6M1787 1946.6v9.6M1543.5 1854v9.6M1477.1 1792.1v9.6M1897.2 1965.2v9.6M1805 1952.4v9.6M1479.2 1798.5v9.6M1450.1 1749.8v9.6M1647 1905.9v9.6M1841.8 1958.4v9.6M1773.5 1942v9.6M1530.4 1846.3v9.6M1615.4 1890.4v9.6M1546.2 1855.4v9.6M1684 1918.8v9.6M1759.5 1937.8v9.6M1474.3 1792.1v9.6M1743 1932.9v9.6M1821.4 1954.6v9.6M1691.2 1920.7v9.6M1738.1 1931.2v9.6M1559.7 1865.1v9.6M1607.8 1887.8v9.6M1772.7 1942v9.6M1879.6 1963.7v9.6M1606.4 1887.8v9.6M1531.1 1846.3v9.6M1509.4 1830v9.6M1903 1965.2v9.6M1559.6 1865.1v9.6M1807.6 1952.4v9.6M1877.2 1963.5v9.6M1835.9 1957.1v9.6M1858.6 1961.3v9.6M1647.5 1905.9v9.6M1564.2 1866.5v9.6M1827.7 1955.9v9.6M1898.5 1965.2v9.6M1659.5 1909.9v9.6M1861.6 1961.3v9.6M1470.8 1781.3v9.6M1866.4 1962.2v9.6M1479.4 1798.5v9.6M1549.8 1856.4v9.6M1634 1900.3v9.6M1594.7 1883.5v9.6M1838.8 1958.1v9.6M1636.9 1901v9.6M1812.2 1953v9.6M1650.7 1908.1v9.6M1638.5 1901.8v9.6M1614.2 1890.4v9.6M1603.1 1886.1v9.6M1620 1893.3v9.6M1638.1 1901.8v9.6M1529.4 1844.6v9.6M1507.3 1826v9.6M1892.2 1965.2v9.6M1563.7 1866.5v9.6M1882.8 1963.7v9.6M1504.3 1826v9.6M1588 1879.1v9.6M1542.3 1854v9.6M1731 1929.9v9.6M1747.3 1934v9.6M1573.1 1873.1v9.6M1894.2 1965.2v9.6M1735.7 1931.2v9.6M1747.5 1934v9.6M1535.5 1848.9v9.6M1550.2 1856.4v9.6M1722.2 1928.1v9.6M1867.5 1962.2v9.6M1605.1 1886.1v9.6M1572.2 1871.6v9.6M1841.2 1958.4v9.6M1851.8 1959.7v9.6M1821 1954.6v9.6M1808.3 1952.8v9.6M1552.1 1859.2v9.6M1722.3 1928.1v9.6M1700.7 1923.3v9.6M1780.5 1944.6v9.6M1722.3 1928.1v9.6M1588.6 1879.1v9.6M1698.5 1923.3v9.6M1655.1 1908.8v9.6M1520.4 1839.2v9.6M1533.6 1848.9v9.6M1781.7 1946.1v9.6M1771.8 1942v9.6M1728.3 1929.9v9.6M1756.3 1936.6v9.6M1769.1 1940.3v9.6M1751.8 1935.8v9.6M1551.9 1859.2v9.6M1665.3 1911.8v9.6M1836.2 1957.1v9.6M1491.5 1813v9.6M1855.4 1960.2v9.6M1689.7 1920.7v9.6M1856.5 1960.2v9.6M1550 1856.4v9.6M1673.1 1915.2v9.6M1561.1 1865.1v9.6M1506.1 1826v9.6M1472.1 1788.4v9.6M1548 1856.4v9.6M1652.5 1908.1v9.6M1548.6 1856.4v9.6M1666.9 1911.8v9.6M1470.1 1781.3v9.6M1686.9 1920.2v9.6M1466.1 1773.3v9.6M1855.6 1960.2v9.6M1523.7 1839.2v9.6M1662.1 1910.9v9.6M1872.1 1962.9v9.6M1574.4 1873.1v9.6M1610.8 1887.8v9.6M1678.4 1916.9v9.6M1470.1 1781.3v9.6M1510.2 1830v9.6M1877.6 1963.5v9.6M1856.2 1960.2v9.6M1777.2 1944.6v9.6M1756.1 1936.6v9.6M1815.7 1953.4v9.6M1878.9 1963.7v9.6M1549.1 1856.4v9.6M1491.3 1813v9.6M1834.4 1957.1v9.6M1625.6 1896.7v9.6M1456.1 1754.1v9.6M1446.4 1748.3v9.6M1640.1 1901.8v9.6M1662.8 1910.9v9.6M1652.9 1908.8v9.6M1556.1 1861.5v9.6M1679.1 1916.9v9.6M1640 1901.8v9.6M1820.5 1954.6v9.6M1458.3 1758.5v9.6M1479.7 1798.5v9.6M1603.8 1886.1v9.6M1688.4 1920.7v9.6M1783.1 1946.1v9.6M1445.5 1748.3v9.6M1522.7 1839.2v9.6M1701.1 1924.4v9.6M1807.4 1952.4v9.6M1543.6 1854v9.6M1877.3 1963.5v9.6M1619 1893.3v9.6M1492.4 1813v9.6M1838.9 1958.1v9.6M1605.2 1886.1v9.6M1590.6 1881.9v9.6M1685.5 1919.6v9.6M1556.3 1862.8v9.6M1784.7 1946.6v9.6M1474.8 1792.1v9.6M1699.7 1923.3v9.6M1590.7 1881.9v9.6M1798.1 1950.3v9.6M1613.8 1890.4v9.6M1614.4 1890.4v9.6M1454 1754.1v9.6M1537.7 1850.9v9.6M1820.9 1954.6v9.6M1613.5 1890.4v9.6M1460.1 1760.7v9.6M1511.7 1830v9.6M1719.1 1928.1v9.6M1773.8 1942v9.6M1773.2 1942v9.6M1457.3 1758.5v9.6M1757.7 1936.6v9.6M1830.7 1956.2v9.6M1838.6 1958.1v9.6M1527.7 1844.6v9.6M1578 1875.3v9.6M1747.3 1934v9.6M1699.5 1923.3v9.6M1623.1 1894.2v9.6M1713.5 1927v9.6" fill="none" stroke="#F6CCE0" stroke-width="1.6"/>
<line x1="1441.9" y1="1967.3" x2="1862" y2="1967.3" stroke="#000" stroke-width="4.4" stroke-dasharray="14.2 13.9"/>
<line x1="1500.1" y1="2191.6" x2="1500.1" y2="1967.3" stroke="#000" stroke-width="4.4" stroke-dasharray="14 14"/>
<line x1="1861.9" y1="2191.6" x2="1861.9" y2="1967.3" stroke="#000" stroke-width="4.4" stroke-dasharray="14 14"/>
<path d="M1420 1721.5V2214.2H1917" fill="none" stroke="#000" stroke-width="4.2"/>
<line x1="1415.2" y1="1742.9" x2="1418.4" y2="1742.9" stroke="#222" stroke-width="3.2"/>
<text x="1409.6" y="1749.5" font-size="26.5" text-anchor="end">1.00</text>
<line x1="1415.2" y1="1854.9" x2="1418.4" y2="1854.9" stroke="#222" stroke-width="3.2"/>
<text x="1409.6" y="1861.5" font-size="26.5" text-anchor="end">0.75</text>
<line x1="1415.2" y1="1967" x2="1418.4" y2="1967" stroke="#222" stroke-width="3.2"/>
<text x="1409.6" y="1973.6" font-size="26.5" text-anchor="end">0.50</text>
<line x1="1415.2" y1="2079" x2="1418.4" y2="2079" stroke="#222" stroke-width="3.2"/>
<text x="1409.6" y="2085.6" font-size="26.5" text-anchor="end">0.25</text>
<line x1="1415.2" y1="2191.1" x2="1418.4" y2="2191.1" stroke="#222" stroke-width="3.2"/>
<text x="1409.6" y="2197.7" font-size="26.5" text-anchor="end">0.00</text>
<line x1="1442.1" y1="2216" x2="1442.1" y2="2218.8" stroke="#222" stroke-width="4"/>
<text x="1441.8" y="2239.9" font-size="26.5" text-anchor="middle">0</text>
<line x1="1532.8" y1="2216" x2="1532.8" y2="2218.8" stroke="#222" stroke-width="4"/>
<text x="1536" y="2239.9" font-size="26.5" text-anchor="middle">12</text>
<line x1="1623.2" y1="2216" x2="1623.2" y2="2218.8" stroke="#222" stroke-width="4"/>
<text x="1625.7" y="2239.9" font-size="26.5" text-anchor="middle">24</text>
<line x1="1713.8" y1="2216" x2="1713.8" y2="2218.8" stroke="#222" stroke-width="4"/>
<text x="1716.9" y="2239.9" font-size="26.5" text-anchor="middle">36</text>
<line x1="1804.5" y1="2216" x2="1804.5" y2="2218.8" stroke="#222" stroke-width="4"/>
<text x="1806.6" y="2239.9" font-size="26.5" text-anchor="middle">48</text>
<line x1="1894.6" y1="2216" x2="1894.6" y2="2218.8" stroke="#222" stroke-width="4"/>
<text x="1896.3" y="2239.9" font-size="26.5" text-anchor="middle">60</text>
<text x="1649.7" y="2275" font-size="32.8" font-weight="bold" text-anchor="middle">Time from DCP measurements (month)</text>
<text transform="translate(1351.5 1971) rotate(-90)" font-size="33" font-weight="bold" text-anchor="middle">Recurrence free survival probability</text>
<text x="1702.5" y="1788.2" font-size="26">Rate (% per day)</text>
<line x1="1705" y1="1818.4" x2="1719.6" y2="1818.4" stroke="#F6CCE0" stroke-width="6.6"/>
<line x1="1712.3" y1="1811.4" x2="1712.3" y2="1825.4" stroke="#F6CCE0" stroke-width="1.8"/>
<text x="1728.4" y="1828" font-size="26">≤ 0.8</text>
<line x1="1705" y1="1848.1" x2="1719.6" y2="1848.1" stroke="#69759C" stroke-width="6.6"/>
<line x1="1712.3" y1="1841.1" x2="1712.3" y2="1855.1" stroke="#69759C" stroke-width="1.8"/>
<text x="1728.4" y="1856.2" font-size="26">&gt; 0.8</text>
<text x="1707.8" y="1888.9" font-size="26"><tspan font-style="italic">P</tspan> = 1.57 × 10<tspan font-size="18" dy="-11">-46</tspan></text>
<text x="1412.6" y="2311.9" font-size="25.5" text-anchor="middle">Rate</text>
<text x="1381.5" y="2344" font-size="25.5" text-anchor="middle">(% per day)</text>
<text x="1457.7" y="2331.8" font-size="26">Number at risk</text>
<text x="1442.4" y="2379.1" font-size="26" text-anchor="end">≤ 0.8</text>
<text x="1442.4" y="2420.8" font-size="26" text-anchor="end">&gt; 0.8</text>
<path d="M1450.3 2344V2434.5H1917.4" fill="none" stroke="#000" stroke-width="4.2"/>
<text x="1479.1" y="2374.3" font-size="26.5" text-anchor="middle">2143</text>
<text x="1564.8" y="2374.3" font-size="26.5" text-anchor="middle">1421</text>
<text x="1646.7" y="2374.3" font-size="26.5" text-anchor="middle">896</text>
<text x="1730.9" y="2374.3" font-size="26.5" text-anchor="middle">607</text>
<text x="1816.6" y="2374.3" font-size="26.5" text-anchor="middle">314</text>
<text x="1901.9" y="2374.3" font-size="26.5" text-anchor="middle">132</text>
<text x="1476.9" y="2416.7" font-size="26.5" text-anchor="middle">305</text>
<text x="1562.9" y="2416.7" font-size="26.5" text-anchor="middle">134</text>
<text x="1642.3" y="2416.7" font-size="26.5" text-anchor="middle">91</text>
<text x="1728.3" y="2416.7" font-size="26.5" text-anchor="middle">56</text>
<text x="1814" y="2416.7" font-size="26.5" text-anchor="middle">36</text>
<text x="1898.2" y="2416.7" font-size="26.5" text-anchor="middle">17</text>
<line x1="1470.6" y1="2436" x2="1470.6" y2="2439" stroke="#444" stroke-width="3"/>
<text x="1470.6" y="2461.4" font-size="26.5" text-anchor="middle">0</text>
<line x1="1556.6" y1="2436" x2="1556.6" y2="2439" stroke="#444" stroke-width="3"/>
<text x="1560.3" y="2461.4" font-size="26.5" text-anchor="middle">12</text>
<line x1="1641.2" y1="2436" x2="1641.2" y2="2439" stroke="#444" stroke-width="3"/>
<text x="1644.2" y="2461.4" font-size="26.5" text-anchor="middle">24</text>
<line x1="1726.1" y1="2436" x2="1726.1" y2="2439" stroke="#444" stroke-width="3"/>
<text x="1729.1" y="2461.4" font-size="26.5" text-anchor="middle">36</text>
<line x1="1811" y1="2436" x2="1811" y2="2439" stroke="#444" stroke-width="3"/>
<text x="1813.3" y="2461.4" font-size="26.5" text-anchor="middle">48</text>
<line x1="1896" y1="2436" x2="1896" y2="2439" stroke="#444" stroke-width="3"/>
<text x="1898.9" y="2461.4" font-size="26.5" text-anchor="middle">60</text>
<text x="1648.4" y="2491.7" font-size="32.9" font-weight="bold" text-anchor="middle">Time from DCP measurements (month)</text>
</g>
</svg>
</body>
</html>
